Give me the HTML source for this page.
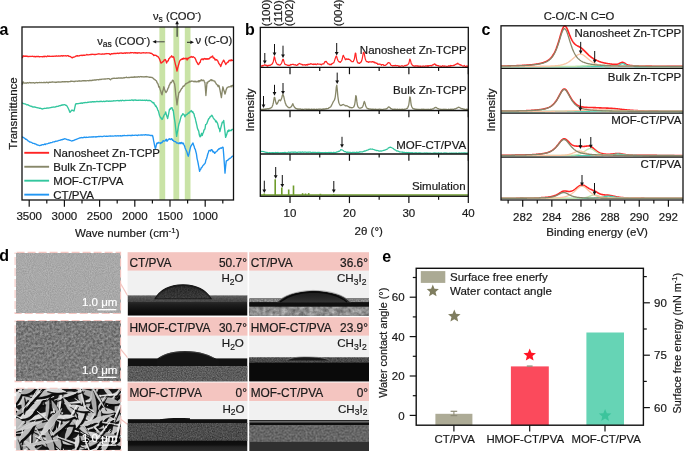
<!DOCTYPE html>
<html><head><meta charset="utf-8"><style>
html,body{margin:0;padding:0;background:#fff;overflow:hidden;width:685px;height:451px;}
svg{display:block;font-family:"Liberation Sans", sans-serif;will-change:transform;}
</style></head><body>
<svg width="685" height="451" viewBox="0 0 685 451">
<rect width="685" height="451" fill="#fff"/>
<text x="-0.6" y="34.6" font-size="16" text-anchor="start" font-weight="bold" fill="#000" >a</text>
<rect x="159.4" y="27" width="5.799999999999983" height="173" fill="#c9e3a6" />
<rect x="173.4" y="27" width="5.799999999999983" height="173" fill="#c9e3a6" />
<rect x="184.8" y="27" width="5.699999999999989" height="173" fill="#c9e3a6" />
<polyline points="22.50,57.50 23.00,55.80 23.50,55.87 24.00,56.30 24.59,56.14 25.19,56.42 25.78,55.99 26.37,56.32 26.96,56.02 27.56,56.53 28.15,56.41 28.74,56.59 29.33,56.32 29.93,56.47 30.52,56.38 31.11,56.32 31.70,56.47 32.30,56.27 32.89,56.41 33.48,56.58 34.07,56.50 34.67,56.44 35.26,56.84 35.85,56.53 36.44,56.45 37.04,56.57 37.63,56.48 38.22,56.51 38.81,56.53 39.41,56.89 40.00,56.60 40.61,56.59 41.21,56.59 41.82,56.65 42.42,56.83 43.03,56.48 43.64,56.40 44.24,56.84 44.85,56.24 45.45,56.38 46.06,56.52 46.67,56.74 47.27,56.24 47.88,56.00 48.48,56.44 49.09,56.25 49.70,56.25 50.30,56.36 50.91,56.31 51.52,56.30 52.12,56.17 52.73,56.41 53.33,56.43 53.94,56.19 54.55,56.10 55.15,56.26 55.76,56.20 56.36,55.95 56.97,56.02 57.58,56.23 58.18,56.04 58.79,55.99 59.39,56.05 60.00,56.00 60.62,55.96 61.23,55.94 61.85,55.62 62.46,56.14 63.08,55.88 63.69,55.68 64.31,55.93 64.92,55.80 65.54,55.73 66.15,55.85 66.77,56.00 67.38,55.71 68.00,55.60 68.60,56.12 69.20,56.48 69.80,56.29 70.40,56.64 71.00,57.00 71.70,57.52 72.40,57.80 72.93,57.28 73.47,57.23 74.00,57.00 74.67,56.86 75.33,56.49 76.00,56.00 76.61,56.03 77.22,55.59 77.83,56.17 78.43,55.84 79.04,55.81 79.65,55.71 80.26,55.32 80.87,55.30 81.48,55.27 82.09,55.68 82.70,55.21 83.30,55.23 83.91,55.17 84.52,55.23 85.13,55.16 85.74,55.07 86.35,54.78 86.96,54.43 87.57,54.87 88.17,54.82 88.78,54.91 89.39,54.65 90.00,54.60 90.59,54.48 91.19,54.60 91.78,54.27 92.38,54.32 92.97,54.29 93.56,54.46 94.16,54.69 94.75,54.46 95.34,54.49 95.94,54.32 96.53,54.30 97.12,54.16 97.72,54.15 98.31,53.80 98.91,53.95 99.50,53.91 100.09,54.19 100.69,54.14 101.28,54.18 101.88,54.21 102.47,53.90 103.06,54.07 103.66,54.17 104.25,53.85 104.84,53.98 105.44,53.76 106.03,53.51 106.62,53.74 107.22,53.57 107.81,53.68 108.41,53.56 109.00,53.60 109.75,54.15 110.50,54.60 111.25,53.78 112.00,53.60 112.60,53.89 113.20,53.75 113.80,53.47 114.40,53.36 115.00,53.47 115.60,53.54 116.20,53.48 116.80,53.45 117.40,53.06 118.00,53.16 118.60,53.51 119.20,53.32 119.80,53.03 120.40,53.10 121.00,52.98 121.60,53.02 122.20,53.32 122.80,53.09 123.40,53.26 124.00,53.10 124.60,52.81 125.20,52.91 125.80,53.33 126.40,52.84 127.00,52.77 127.60,53.09 128.20,52.89 128.80,52.85 129.40,53.05 130.00,52.80 130.60,52.54 131.20,52.87 131.80,52.65 132.40,52.60 133.00,52.70 133.60,53.00 134.20,52.81 134.80,52.55 135.40,52.67 136.00,53.07 136.60,53.00 137.20,52.68 137.80,53.22 138.40,52.80 139.00,52.68 139.60,52.84 140.20,53.01 140.80,53.12 141.40,53.03 142.00,52.81 142.60,52.80 143.20,52.66 143.80,52.88 144.40,52.80 145.00,52.90 145.58,52.97 146.16,52.77 146.74,52.91 147.32,52.88 147.90,52.87 148.48,52.90 149.06,52.95 149.64,52.96 150.22,53.26 150.80,53.20 151.40,53.53 152.00,53.63 152.60,54.43 153.20,54.63 153.80,55.59 154.40,55.10 155.00,55.23 155.60,55.45 156.20,55.42 156.80,56.10 157.40,56.54 158.00,56.50 158.70,57.70 159.40,58.70 160.15,60.71 160.90,63.00 161.60,62.84 162.30,62.12 163.00,61.60 163.55,61.19 164.10,59.98 164.65,60.06 165.20,59.40 165.90,60.65 166.60,63.00 167.15,61.46 167.70,60.94 168.25,60.94 168.80,58.70 169.38,58.67 169.96,57.54 170.54,56.86 171.12,56.93 171.70,55.80 172.22,56.94 172.75,57.22 173.28,56.82 173.80,57.30 174.55,60.65 175.30,63.80 175.87,66.02 176.43,68.44 177.00,71.00 177.63,68.13 178.27,66.06 178.90,63.80 179.60,61.14 180.30,60.20 181.00,59.40 181.60,59.49 182.20,58.61 182.80,59.28 183.40,58.13 184.00,58.70 184.61,58.50 185.23,58.92 185.84,58.13 186.46,58.31 187.07,60.07 187.69,58.32 188.30,58.70 188.88,57.87 189.46,57.50 190.04,57.40 190.62,56.93 191.20,56.50 191.76,57.20 192.32,57.26 192.88,56.76 193.44,56.94 194.00,57.30 194.63,57.55 195.26,58.53 195.89,59.98 196.51,61.82 197.14,62.51 197.77,63.91 198.40,64.50 198.98,64.00 199.56,62.37 200.14,62.60 200.72,60.13 201.30,59.40 201.91,58.95 202.53,58.96 203.14,59.73 203.76,58.92 204.37,58.49 204.99,59.04 205.60,58.70 206.18,59.33 206.76,58.64 207.34,58.56 207.92,59.30 208.50,58.70 209.08,58.88 209.67,58.49 210.25,57.18 210.83,57.39 211.42,57.07 212.00,56.50 212.62,55.99 213.23,58.13 213.85,58.01 214.47,58.25 215.08,60.17 215.70,59.40 216.22,59.86 216.75,59.75 217.28,60.49 217.80,60.90 218.38,62.35 218.96,63.63 219.54,64.29 220.12,64.98 220.70,66.60 221.28,64.92 221.86,63.55 222.44,62.12 223.02,61.39 223.60,60.10 224.15,60.93 224.70,62.33 225.25,62.94 225.80,64.50 226.38,63.30 226.96,62.96 227.54,62.15 228.12,62.25 228.70,60.90 229.31,60.29 229.93,60.78 230.54,60.53 231.16,59.72 231.77,60.73 232.39,60.31 233.00,60.10" fill="none" stroke="#ff2424" stroke-width="1.35" stroke-linejoin="round" stroke-linecap="round" />
<polyline points="22.50,84.00 23.00,82.00 23.50,82.18 24.00,83.00 24.59,83.08 25.19,83.11 25.78,82.83 26.37,83.20 26.96,82.95 27.56,82.73 28.15,82.98 28.74,82.83 29.33,82.66 29.93,82.52 30.52,82.87 31.11,82.71 31.70,82.91 32.30,82.85 32.89,82.70 33.48,82.68 34.07,83.02 34.67,82.99 35.26,82.83 35.85,82.65 36.44,82.54 37.04,82.61 37.63,82.91 38.22,82.71 38.81,82.59 39.41,82.43 40.00,82.60 40.61,82.61 41.21,82.43 41.82,82.55 42.42,82.64 43.03,82.67 43.64,82.51 44.24,82.42 44.85,82.49 45.45,82.71 46.06,82.48 46.67,82.19 47.27,82.62 47.88,82.40 48.48,82.88 49.09,82.26 49.70,82.29 50.30,82.25 50.91,82.33 51.52,82.17 52.12,82.01 52.73,81.92 53.33,82.18 53.94,82.10 54.55,82.08 55.15,82.47 55.76,82.25 56.36,82.28 56.97,82.01 57.58,82.12 58.18,82.02 58.79,82.01 59.39,82.13 60.00,82.00 60.60,82.06 61.20,81.99 61.80,81.93 62.40,81.66 63.00,81.74 63.60,81.88 64.20,81.73 64.80,81.64 65.40,81.78 66.00,81.56 66.60,81.57 67.20,81.77 67.80,81.56 68.40,81.80 69.00,81.63 69.60,81.64 70.20,81.66 70.80,81.13 71.40,81.42 72.00,81.20 72.60,81.30 73.20,81.32 73.80,81.50 74.40,81.27 75.00,81.50 75.60,81.14 76.20,81.18 76.80,81.17 77.40,81.27 78.00,81.09 78.60,80.98 79.20,80.99 79.80,80.80 80.40,81.17 81.00,81.06 81.60,80.99 82.20,80.93 82.80,80.77 83.40,80.77 84.00,80.92 84.60,80.65 85.20,80.62 85.80,80.95 86.40,80.92 87.00,80.69 87.60,80.70 88.20,80.62 88.80,80.78 89.40,80.46 90.00,80.50 90.59,80.45 91.19,80.45 91.78,80.54 92.38,80.22 92.97,80.24 93.56,80.07 94.16,79.99 94.75,79.93 95.34,79.98 95.94,80.04 96.53,79.74 97.12,79.70 97.72,79.67 98.31,79.72 98.91,79.72 99.50,79.36 100.09,79.54 100.69,79.28 101.28,79.48 101.88,79.17 102.47,79.09 103.06,79.09 103.66,79.13 104.25,78.92 104.84,79.05 105.44,78.98 106.03,78.91 106.62,78.88 107.22,78.91 107.81,78.61 108.41,78.66 109.00,78.60 109.75,79.20 110.50,79.80 111.25,78.84 112.00,78.50 112.60,78.52 113.20,78.30 113.80,78.27 114.40,78.27 115.00,78.31 115.60,78.31 116.20,78.29 116.80,78.08 117.40,78.24 118.00,78.16 118.60,78.00 119.20,78.02 119.80,78.10 120.40,78.01 121.00,78.00 121.60,77.88 122.20,77.99 122.80,78.11 123.40,77.81 124.00,77.46 124.60,77.92 125.20,77.53 125.80,77.37 126.40,77.18 127.00,77.56 127.60,77.62 128.20,77.57 128.80,77.32 129.40,77.56 130.00,77.30 130.60,77.26 131.20,77.16 131.80,77.24 132.40,77.24 133.00,77.19 133.60,77.22 134.20,76.80 134.80,77.34 135.40,77.00 136.00,77.16 136.60,76.92 137.20,77.04 137.80,76.96 138.40,76.73 139.00,77.00 139.60,77.01 140.20,76.72 140.80,76.55 141.40,76.75 142.00,76.69 142.60,76.81 143.20,76.77 143.80,76.99 144.40,76.82 145.00,76.70 145.60,76.73 146.20,76.86 146.80,76.47 147.40,76.83 148.00,76.90 148.60,77.08 149.20,77.21 149.80,77.27 150.40,77.44 151.00,77.26 151.60,77.48 152.20,77.50 152.81,77.93 153.43,78.51 154.04,79.17 154.66,79.35 155.27,80.11 155.89,80.48 156.50,81.00 157.08,82.71 157.66,83.26 158.24,84.64 158.82,87.04 159.40,86.80 160.05,89.14 160.70,91.08 161.35,93.38 162.00,94.80 162.60,91.59 163.20,89.85 163.80,86.80 164.50,89.14 165.20,90.90 165.90,92.60 166.60,91.69 167.30,90.16 168.00,88.30 168.55,87.67 169.10,85.40 169.65,84.71 170.20,83.20 170.78,82.33 171.36,82.71 171.94,81.53 172.52,80.18 173.10,80.30 173.85,82.21 174.60,84.00 175.20,88.68 175.80,94.98 176.40,99.49 177.00,104.90 177.63,99.62 178.27,96.49 178.90,92.60 179.60,92.18 180.30,90.84 181.00,89.70 181.55,88.46 182.10,88.25 182.65,87.31 183.20,86.10 183.80,86.41 184.40,85.62 185.00,84.85 185.60,83.74 186.20,83.84 186.80,83.20 187.43,83.05 188.06,82.58 188.69,82.48 189.31,81.30 189.94,81.94 190.57,81.32 191.20,81.00 191.78,81.27 192.36,81.11 192.94,81.08 193.52,81.46 194.10,81.82 194.68,81.31 195.26,81.74 195.84,81.23 196.42,81.94 197.00,81.80 197.63,81.64 198.27,80.78 198.90,81.93 199.53,80.66 200.17,81.01 200.80,80.10 201.43,79.70 202.07,80.82 202.70,80.30 203.25,80.10 203.80,80.29 204.35,81.83 204.90,82.50 205.40,88.17 205.90,95.50 206.45,88.89 207.00,82.50 207.61,83.07 208.23,81.46 208.84,81.45 209.46,81.14 210.07,80.56 210.69,79.95 211.30,79.60 211.88,80.69 212.46,80.12 213.04,80.63 213.62,80.78 214.20,81.00 214.78,81.05 215.36,82.65 215.94,83.25 216.52,84.31 217.10,84.70 217.65,85.60 218.20,86.59 218.75,85.26 219.30,86.80 220.00,90.10 220.70,93.75 221.40,97.60 222.15,91.74 222.90,86.80 223.60,89.42 224.30,91.56 225.00,94.00 225.55,92.45 226.10,89.88 226.65,88.61 227.20,87.50 227.78,87.32 228.36,86.98 228.94,86.76 229.52,86.88 230.10,86.80 230.68,86.37 231.26,85.67 231.84,86.85 232.42,85.32 233.00,85.40" fill="none" stroke="#878769" stroke-width="1.35" stroke-linejoin="round" stroke-linecap="round" />
<polyline points="22.50,103.00 23.12,103.35 23.75,103.59 24.38,103.89 25.00,103.92 25.62,104.10 26.25,104.57 26.88,104.79 27.50,104.65 28.12,104.86 28.75,105.42 29.38,105.69 30.00,106.00 30.60,106.10 31.20,106.34 31.80,106.28 32.40,106.95 33.00,106.83 33.60,107.03 34.20,107.02 34.80,106.81 35.40,107.29 36.00,107.32 36.60,107.61 37.20,107.66 37.80,107.92 38.40,107.83 39.00,108.05 39.60,108.24 40.20,108.27 40.80,108.45 41.40,108.75 42.00,108.80 42.59,109.00 43.18,108.60 43.77,108.68 44.36,108.30 44.95,108.32 45.55,108.36 46.14,108.31 46.73,107.99 47.32,108.15 47.91,108.00 48.50,108.09 49.09,107.96 49.68,107.82 50.27,107.60 50.86,107.61 51.45,107.36 52.05,107.29 52.64,107.05 53.23,107.05 53.82,106.98 54.41,107.07 55.00,107.00 55.60,106.85 56.20,106.48 56.80,106.51 57.40,106.42 58.00,106.34 58.60,106.03 59.20,105.91 59.80,105.66 60.40,105.70 61.00,105.17 61.60,105.27 62.20,104.74 62.80,105.17 63.40,104.90 64.00,104.60 64.60,104.57 65.20,105.08 65.80,105.23 66.40,105.46 67.00,106.00 67.67,107.27 68.33,108.54 69.00,110.00 69.50,111.35 70.00,112.40 70.67,111.52 71.33,110.64 72.00,110.00 72.67,110.32 73.33,110.73 74.00,111.00 74.53,108.79 75.07,106.41 75.60,104.00 76.20,103.70 76.80,103.71 77.40,103.72 78.00,103.54 78.60,103.69 79.20,103.45 79.80,103.40 80.40,103.28 81.00,103.25 81.60,102.94 82.20,103.39 82.80,102.91 83.40,102.81 84.00,102.57 84.60,102.74 85.20,102.46 85.80,102.63 86.40,102.67 87.00,102.50 87.60,102.27 88.20,102.44 88.80,102.14 89.40,102.07 90.00,102.00 90.60,101.98 91.19,101.87 91.79,101.98 92.39,101.71 92.99,101.60 93.58,102.01 94.18,101.70 94.78,101.73 95.37,101.81 95.97,101.66 96.57,101.53 97.16,101.65 97.76,101.51 98.36,101.70 98.96,101.53 99.55,101.53 100.15,101.65 100.75,101.29 101.34,101.27 101.94,101.57 102.54,101.62 103.13,101.42 103.73,101.28 104.33,101.53 104.93,101.40 105.52,101.45 106.12,101.00 106.72,101.23 107.31,101.07 107.91,101.03 108.51,101.25 109.10,101.25 109.70,101.04 110.30,101.05 110.90,101.26 111.49,101.13 112.09,100.99 112.69,101.05 113.28,100.97 113.88,100.74 114.48,100.82 115.07,100.91 115.67,100.93 116.27,100.64 116.87,100.67 117.46,100.68 118.06,100.51 118.66,100.87 119.25,100.75 119.85,100.85 120.45,100.31 121.04,100.48 121.64,100.84 122.24,100.34 122.84,100.25 123.43,100.53 124.03,100.70 124.63,100.53 125.22,100.27 125.82,100.47 126.42,100.42 127.01,100.37 127.61,100.36 128.21,100.40 128.81,100.42 129.40,100.43 130.00,100.20 130.60,100.36 131.20,100.18 131.80,99.94 132.40,100.29 133.00,100.00 133.60,100.56 134.20,100.06 134.80,99.96 135.40,99.96 136.00,100.30 136.60,100.29 137.20,100.34 137.80,100.29 138.40,100.14 139.00,100.38 139.60,100.16 140.20,100.04 140.80,100.40 141.40,100.35 142.00,100.14 142.60,100.24 143.20,100.44 143.80,100.43 144.40,100.14 145.00,100.30 145.62,100.49 146.24,99.98 146.87,100.41 147.49,100.49 148.11,100.45 148.73,100.51 149.36,100.29 149.98,100.55 150.60,100.60 151.23,101.31 151.87,101.73 152.50,102.57 153.13,103.04 153.77,102.56 154.40,104.40 154.96,104.83 155.52,106.22 156.08,105.85 156.64,107.45 157.20,108.20 157.78,110.07 158.36,110.91 158.94,113.16 159.52,115.47 160.10,116.70 160.73,118.01 161.37,118.03 162.00,119.50 162.60,118.77 163.20,117.14 163.80,115.70 164.43,114.53 165.07,114.03 165.70,112.00 166.33,114.55 166.97,116.52 167.60,118.50 168.23,115.87 168.87,112.58 169.50,109.10 170.13,109.34 170.77,108.17 171.40,107.80 172.00,107.58 172.60,110.09 173.20,110.00 173.83,114.82 174.47,119.08 175.10,123.20 175.85,129.82 176.60,136.40 177.23,132.88 177.87,129.52 178.50,126.00 179.07,123.39 179.65,122.21 180.23,119.74 180.80,117.60 181.43,115.82 182.07,115.20 182.70,113.80 183.26,114.00 183.82,114.54 184.38,115.23 184.94,116.75 185.50,115.70 186.06,114.57 186.62,114.80 187.18,114.40 187.74,113.68 188.30,112.90 188.87,113.37 189.43,112.04 190.00,111.77 190.57,111.62 191.13,110.58 191.70,111.00 192.27,112.29 192.85,111.74 193.43,113.39 194.00,113.80 194.56,116.70 195.12,117.87 195.68,120.48 196.24,122.73 196.80,125.10 197.44,128.35 198.08,129.92 198.72,131.18 199.36,135.03 200.00,136.80 200.57,136.67 201.13,134.37 201.70,133.29 202.27,135.46 202.83,133.43 203.40,132.70 203.96,129.86 204.52,129.86 205.08,128.36 205.64,124.62 206.20,124.20 206.76,123.74 207.32,122.30 207.88,120.77 208.44,119.26 209.00,118.50 209.56,118.06 210.12,116.78 210.68,116.66 211.24,115.80 211.80,115.30 212.38,115.90 212.96,117.27 213.54,118.34 214.12,119.13 214.70,119.50 215.26,120.48 215.82,121.88 216.38,121.04 216.94,122.49 217.50,123.20 218.10,125.42 218.70,128.10 219.30,128.36 219.90,131.70 220.47,129.11 221.05,126.83 221.62,124.75 222.20,122.30 222.95,122.56 223.70,120.40 224.33,126.19 224.97,131.68 225.60,137.40 226.15,135.98 226.70,134.62 227.25,132.36 227.80,130.80 228.38,131.53 228.96,129.82 229.53,130.97 230.11,130.51 230.69,130.50 231.27,130.63 231.84,129.50 232.42,129.69 233.00,129.30" fill="none" stroke="#33c69e" stroke-width="1.35" stroke-linejoin="round" stroke-linecap="round" />
<polyline points="22.50,137.00 23.12,137.46 23.75,137.74 24.38,138.14 25.00,138.55 25.62,139.21 26.25,139.16 26.88,139.73 27.50,140.34 28.12,140.94 28.75,141.15 29.38,141.77 30.00,142.00 30.59,142.22 31.19,142.37 31.78,142.44 32.38,142.93 32.97,143.38 33.56,143.36 34.16,143.42 34.75,143.89 35.34,143.82 35.94,144.08 36.53,144.64 37.12,144.76 37.72,145.07 38.31,145.19 38.91,145.36 39.50,145.60 40.08,145.48 40.67,145.26 41.25,145.32 41.83,144.83 42.42,144.60 43.00,144.61 43.58,144.72 44.17,144.36 44.75,143.96 45.33,144.58 45.92,143.87 46.50,143.84 47.08,143.81 47.67,143.63 48.25,143.41 48.83,143.06 49.42,143.22 50.00,143.00 50.60,142.69 51.20,142.64 51.80,142.61 52.40,142.27 53.00,141.89 53.60,141.90 54.20,141.91 54.80,141.76 55.40,141.29 56.00,141.33 56.60,141.20 57.20,141.14 57.80,140.88 58.40,140.67 59.00,140.43 59.60,140.38 60.20,140.26 60.80,139.95 61.40,139.77 62.00,139.90 62.60,139.47 63.20,139.19 63.80,139.24 64.40,138.78 65.00,138.80 65.58,138.82 66.17,139.30 66.75,139.35 67.33,139.65 67.92,139.83 68.50,139.79 69.08,140.16 69.67,140.21 70.25,140.48 70.83,140.67 71.42,140.80 72.00,141.00 72.60,140.58 73.20,140.59 73.80,140.32 74.40,140.17 75.00,139.71 75.60,139.67 76.20,139.38 76.80,139.12 77.40,138.92 78.00,138.70 78.60,138.30 79.20,138.20 79.80,137.98 80.40,137.90 81.00,137.60 81.59,137.54 82.19,137.74 82.78,137.59 83.38,137.51 83.97,137.46 84.56,137.18 85.16,137.41 85.75,137.51 86.34,137.14 86.94,137.45 87.53,137.31 88.12,137.23 88.72,137.09 89.31,137.12 89.91,136.97 90.50,137.05 91.09,137.02 91.69,136.99 92.28,136.77 92.88,137.05 93.47,136.78 94.06,136.90 94.66,136.90 95.25,136.74 95.84,137.10 96.44,136.72 97.03,136.73 97.62,136.60 98.22,136.65 98.81,136.38 99.41,136.63 100.00,136.50 100.60,136.42 101.20,136.38 101.80,136.55 102.40,136.55 103.00,136.33 103.60,136.22 104.20,136.05 104.80,136.18 105.40,136.38 106.00,136.38 106.60,136.08 107.20,136.25 107.80,136.38 108.40,136.09 109.00,136.10 109.60,136.03 110.20,136.20 110.80,135.84 111.40,136.08 112.00,136.14 112.60,136.04 113.20,136.17 113.80,136.10 114.40,135.91 115.00,135.82 115.60,135.79 116.20,136.00 116.80,135.88 117.40,135.90 118.00,135.73 118.60,136.01 119.20,135.95 119.80,135.91 120.40,135.61 121.00,136.14 121.60,135.86 122.20,135.55 122.80,135.83 123.40,135.65 124.00,135.53 124.60,135.51 125.20,135.68 125.80,135.63 126.40,135.59 127.00,135.51 127.60,135.37 128.20,135.53 128.80,135.44 129.40,135.42 130.00,135.52 130.60,135.66 131.20,135.30 131.80,135.51 132.40,135.24 133.00,135.45 133.60,135.40 134.20,135.29 134.80,135.30 135.40,135.13 136.00,135.17 136.60,135.34 137.20,135.29 137.80,135.49 138.40,134.99 139.00,135.05 139.60,135.11 140.20,135.08 140.80,134.98 141.40,134.97 142.00,134.99 142.60,135.17 143.20,134.95 143.80,134.83 144.40,134.97 145.00,134.90 145.62,134.57 146.25,134.87 146.88,134.96 147.50,135.15 148.12,134.82 148.75,135.17 149.38,135.09 150.00,135.44 150.62,135.47 151.25,135.33 151.88,135.52 152.50,135.50 153.08,137.53 153.66,140.89 154.24,143.56 154.82,146.62 155.40,148.70 156.00,146.57 156.60,143.77 157.20,143.00 157.78,143.42 158.36,142.43 158.94,142.71 159.52,142.81 160.10,143.00 160.72,143.55 161.33,142.34 161.95,142.66 162.57,141.77 163.18,140.68 163.80,141.10 164.43,141.08 165.07,140.84 165.70,140.00 166.33,139.21 166.97,141.26 167.60,140.62 168.23,139.45 168.87,139.21 169.50,138.70 170.12,139.45 170.73,139.51 171.35,138.67 171.97,138.97 172.58,140.38 173.20,140.20 173.80,141.27 174.40,141.46 175.00,141.69 175.60,141.59 176.20,142.46 176.80,143.12 177.40,142.93 178.00,143.00 178.59,143.66 179.18,143.64 179.76,142.63 180.35,143.62 180.94,142.60 181.52,142.52 182.11,143.85 182.70,143.00 183.30,143.07 183.90,144.77 184.50,145.80 185.13,148.01 185.77,149.47 186.40,150.80 187.03,152.24 187.67,154.74 188.30,156.20 188.86,154.40 189.42,152.00 189.98,149.45 190.54,147.13 191.10,145.80 191.73,144.86 192.37,143.91 193.00,143.00 193.56,145.14 194.12,146.24 194.68,148.58 195.24,149.17 195.80,151.50 196.43,153.90 197.07,158.59 197.70,161.18 198.33,164.26 198.97,167.93 199.60,171.30 200.16,169.70 200.72,169.20 201.28,167.70 201.84,167.55 202.40,166.50 202.98,165.46 203.56,164.99 204.14,164.28 204.72,163.78 205.30,162.80 205.92,159.85 206.53,158.78 207.15,156.51 207.77,154.00 208.38,152.41 209.00,150.50 209.56,150.59 210.12,150.39 210.68,151.00 211.24,149.61 211.80,149.60 212.38,150.44 212.96,152.13 213.54,151.57 214.12,152.21 214.70,153.40 215.32,152.53 215.93,151.83 216.55,151.49 217.17,150.94 217.78,149.84 218.40,149.60 218.99,148.72 219.57,149.00 220.16,148.10 220.75,148.03 221.34,148.35 221.93,147.83 222.51,147.07 223.10,147.30 223.73,155.15 224.37,163.98 225.00,173.10 225.65,166.23 226.30,160.90 226.91,160.75 227.52,160.43 228.13,159.78 228.74,159.36 229.35,158.51 229.95,158.42 230.56,157.94 231.17,157.51 231.78,156.80 232.39,156.07 233.00,156.20" fill="none" stroke="#2196f3" stroke-width="1.35" stroke-linejoin="round" stroke-linecap="round" />
<text x="97.2" y="44.6" font-size="11.2" text-anchor="start" font-weight="normal" fill="#1a1a1a" stroke="#1a1a1a" stroke-width="0.2" >ν<tspan font-size="8.5" dy="2.2">as</tspan><tspan dy="-2.2"> (COO</tspan><tspan font-size="7" dy="-4.5">-</tspan><tspan dy="4.5">)</tspan></text>
<line x1="155" y1="41.8" x2="164.7" y2="41.8" stroke="#444" stroke-width="1.0"/>
<polygon points="152.5,41.8 156.2,40 156.2,43.6" fill="#111"/>
<line x1="187" y1="42.3" x2="191" y2="42.3" stroke="#222" stroke-width="1.0"/>
<polygon points="194,42.3 190.3,40.5 190.3,44.1" fill="#111"/>
<text x="195.5" y="44.4" font-size="11.2" text-anchor="start" font-weight="normal" fill="#1a1a1a" stroke="#1a1a1a" stroke-width="0.2" >ν (C-O)</text>
<text x="153.0" y="19.5" font-size="11.2" text-anchor="start" font-weight="normal" fill="#1a1a1a" stroke="#1a1a1a" stroke-width="0.2" >ν<tspan font-size="8.5" dy="2.6">s</tspan><tspan dy="-2.6"> (COO</tspan><tspan font-size="7" dy="-4.5">-</tspan><tspan dy="4.5">)</tspan></text>
<line x1="177.1" y1="36.8" x2="177.1" y2="23.5" stroke="#222" stroke-width="1.0"/>
<polygon points="177.1,20.6 175.3,24.3 178.9,24.3" fill="#111"/>
<line x1="24.3" y1="152.8" x2="49.1" y2="152.8" stroke="#ff2424" stroke-width="1.9"/>
<text x="53.3" y="157.10000000000002" font-size="11.5" text-anchor="start" font-weight="normal" fill="#1a1a1a" stroke="#1a1a1a" stroke-width="0.2" >Nanosheet Zn-TCPP</text>
<line x1="24.3" y1="166.75" x2="49.1" y2="166.75" stroke="#878769" stroke-width="1.9"/>
<text x="53.3" y="171.05" font-size="11.5" text-anchor="start" font-weight="normal" fill="#1a1a1a" stroke="#1a1a1a" stroke-width="0.2" >Bulk Zn-TCPP</text>
<line x1="24.3" y1="180.70000000000002" x2="49.1" y2="180.70000000000002" stroke="#33c69e" stroke-width="1.9"/>
<text x="53.3" y="185.00000000000003" font-size="11.5" text-anchor="start" font-weight="normal" fill="#1a1a1a" stroke="#1a1a1a" stroke-width="0.2" >MOF-CT/PVA</text>
<line x1="24.3" y1="194.65" x2="49.1" y2="194.65" stroke="#2196f3" stroke-width="1.9"/>
<text x="53.3" y="198.95000000000002" font-size="11.5" text-anchor="start" font-weight="normal" fill="#1a1a1a" stroke="#1a1a1a" stroke-width="0.2" >CT/PVA</text>
<rect x="22" y="27" width="211.5" height="173" fill="none" stroke="#111" stroke-width="1.3"/>
<line x1="222.8" y1="200" x2="222.8" y2="203.4" stroke="#111" stroke-width="1.2"/>
<line x1="205.20000000000002" y1="200" x2="205.20000000000002" y2="206.8" stroke="#111" stroke-width="1.2"/>
<text x="205.20000000000002" y="220.1" font-size="11.5" text-anchor="middle" font-weight="normal" fill="#1a1a1a" stroke="#1a1a1a" stroke-width="0.2" >1000</text>
<line x1="187.60000000000002" y1="200" x2="187.60000000000002" y2="203.4" stroke="#111" stroke-width="1.2"/>
<line x1="170.0" y1="200" x2="170.0" y2="206.8" stroke="#111" stroke-width="1.2"/>
<text x="170.0" y="220.1" font-size="11.5" text-anchor="middle" font-weight="normal" fill="#1a1a1a" stroke="#1a1a1a" stroke-width="0.2" >1500</text>
<line x1="152.4" y1="200" x2="152.4" y2="203.4" stroke="#111" stroke-width="1.2"/>
<line x1="134.8" y1="200" x2="134.8" y2="206.8" stroke="#111" stroke-width="1.2"/>
<text x="134.8" y="220.1" font-size="11.5" text-anchor="middle" font-weight="normal" fill="#1a1a1a" stroke="#1a1a1a" stroke-width="0.2" >2000</text>
<line x1="117.20000000000002" y1="200" x2="117.20000000000002" y2="203.4" stroke="#111" stroke-width="1.2"/>
<line x1="99.60000000000001" y1="200" x2="99.60000000000001" y2="206.8" stroke="#111" stroke-width="1.2"/>
<text x="99.60000000000001" y="220.1" font-size="11.5" text-anchor="middle" font-weight="normal" fill="#1a1a1a" stroke="#1a1a1a" stroke-width="0.2" >2500</text>
<line x1="82.0" y1="200" x2="82.0" y2="203.4" stroke="#111" stroke-width="1.2"/>
<line x1="64.4" y1="200" x2="64.4" y2="206.8" stroke="#111" stroke-width="1.2"/>
<text x="64.4" y="220.1" font-size="11.5" text-anchor="middle" font-weight="normal" fill="#1a1a1a" stroke="#1a1a1a" stroke-width="0.2" >3000</text>
<line x1="46.80000000000001" y1="200" x2="46.80000000000001" y2="203.4" stroke="#111" stroke-width="1.2"/>
<line x1="29.200000000000003" y1="200" x2="29.200000000000003" y2="206.8" stroke="#111" stroke-width="1.2"/>
<text x="29.200000000000003" y="220.1" font-size="11.5" text-anchor="middle" font-weight="normal" fill="#1a1a1a" stroke="#1a1a1a" stroke-width="0.2" >3500</text>
<text x="75" y="237.3" font-size="11.5" text-anchor="start" font-weight="normal" fill="#1a1a1a" stroke="#1a1a1a" stroke-width="0.2" >Wave number (cm<tspan font-size="8" dy="-4.3">-1</tspan><tspan dy="4.3">)</tspan></text>
<text transform="translate(16.8,113.5) rotate(-90)" font-size="11.5" text-anchor="middle" fill="#1a1a1a" stroke="#1a1a1a" stroke-width="0.2">Transmittance</text>
<text x="245.0" y="34.6" font-size="16" text-anchor="start" font-weight="bold" fill="#000" >b</text>
<text transform="translate(269.8,26.2) rotate(-90)" font-size="11.5" fill="#1a1a1a" stroke="#1a1a1a" stroke-width="0.2">(100)</text>
<text transform="translate(282.0,26.2) rotate(-90)" font-size="11.5" fill="#1a1a1a" stroke="#1a1a1a" stroke-width="0.2">(110)</text>
<text transform="translate(293.40000000000003,26.2) rotate(-90)" font-size="11.5" fill="#1a1a1a" stroke="#1a1a1a" stroke-width="0.2">(002)</text>
<text transform="translate(341.6,26.2) rotate(-90)" font-size="11.5" fill="#1a1a1a" stroke="#1a1a1a" stroke-width="0.2">(004)</text>
<text transform="translate(253.8,110) rotate(-90)" font-size="11.5" text-anchor="middle" fill="#1a1a1a" stroke="#1a1a1a" stroke-width="0.2">Intensity</text>
<polyline points="260.80,66.40 261.30,66.03 261.80,66.01 262.30,65.43 262.80,66.07 263.30,65.82 263.80,65.35 264.30,65.13 264.80,64.65 265.30,64.97 265.80,65.50 266.30,65.56 266.80,65.14 267.30,66.09 267.80,66.23 268.30,65.44 268.80,65.28 269.30,65.50 269.80,65.17 270.30,65.31 270.80,64.85 271.30,64.72 271.80,64.12 272.30,63.94 272.80,62.84 273.30,61.70 273.80,59.06 274.30,56.71 274.80,57.77 275.30,60.00 275.80,61.93 276.30,62.84 276.80,63.85 277.30,64.39 277.80,64.64 278.30,64.41 278.80,64.89 279.30,65.16 279.80,64.96 280.30,64.86 280.80,64.24 281.30,63.59 281.80,62.52 282.30,60.94 282.80,59.42 283.30,59.25 283.80,61.06 284.30,62.64 284.80,63.96 285.30,64.48 285.80,64.65 286.30,64.68 286.80,65.00 287.30,65.04 287.80,65.53 288.30,65.64 288.80,65.05 289.30,65.34 289.80,65.56 290.30,64.94 290.80,64.49 291.30,64.82 291.80,64.45 292.30,64.23 292.80,64.49 293.30,64.36 293.80,64.64 294.30,65.01 294.80,64.74 295.30,64.64 295.80,65.15 296.30,65.48 296.80,65.25 297.30,64.59 297.80,65.01 298.30,63.96 298.80,63.82 299.30,63.50 299.80,63.45 300.30,63.99 300.80,64.25 301.30,64.13 301.80,64.65 302.30,64.48 302.80,65.11 303.30,64.92 303.80,64.94 304.30,64.64 304.80,64.92 305.30,64.94 305.80,65.31 306.30,64.67 306.80,64.67 307.30,65.11 307.80,64.25 308.30,64.59 308.80,64.14 309.30,64.44 309.80,64.24 310.30,63.64 310.80,64.21 311.30,63.87 311.80,63.82 312.30,64.43 312.80,64.44 313.30,64.06 313.80,64.51 314.30,64.01 314.80,64.44 315.30,64.00 315.80,64.52 316.30,64.74 316.80,64.38 317.30,63.72 317.80,64.17 318.30,64.14 318.80,64.19 319.30,63.99 319.80,64.22 320.30,64.47 320.80,64.15 321.30,64.76 321.80,64.28 322.30,64.22 322.80,63.84 323.30,63.76 323.80,63.97 324.30,62.75 324.80,61.85 325.30,61.49 325.80,61.91 326.30,61.43 326.80,62.35 327.30,62.87 327.80,63.84 328.30,63.97 328.80,63.84 329.30,64.74 329.80,64.28 330.30,64.64 330.80,64.36 331.30,64.68 331.80,63.71 332.30,63.65 332.80,63.36 333.30,62.86 333.80,62.73 334.30,61.41 334.80,59.84 335.30,58.21 335.80,56.85 336.30,56.00 336.80,56.86 337.30,58.73 337.80,60.17 338.30,61.00 338.80,61.67 339.30,61.72 339.80,62.14 340.30,62.49 340.80,61.61 341.30,61.10 341.80,60.36 342.30,58.80 342.80,56.35 343.30,55.34 343.80,56.37 344.30,57.19 344.80,58.30 345.30,59.45 345.80,59.77 346.30,58.93 346.80,58.88 347.30,59.36 347.80,59.01 348.30,59.46 348.80,59.00 349.30,59.67 349.80,59.67 350.30,60.17 350.80,60.86 351.30,60.98 351.80,61.56 352.30,61.71 352.80,61.51 353.30,61.54 353.80,60.28 354.30,59.23 354.80,56.36 355.30,53.18 355.80,53.37 356.30,57.98 356.80,60.11 357.30,61.91 357.80,62.80 358.30,63.19 358.80,62.82 359.30,63.32 359.80,63.36 360.30,62.25 360.80,62.44 361.30,61.71 361.80,60.31 362.30,58.33 362.80,55.54 363.30,52.77 363.80,52.23 364.30,53.75 364.80,56.54 365.30,59.11 365.80,60.32 366.30,61.32 366.80,61.64 367.30,61.73 367.80,61.60 368.30,62.41 368.80,62.21 369.30,61.73 369.80,61.90 370.30,61.89 370.80,61.75 371.30,62.11 371.80,61.99 372.30,61.57 372.80,61.70 373.30,62.12 373.80,61.85 374.30,62.83 374.80,62.17 375.30,62.86 375.80,62.87 376.30,63.35 376.80,63.08 377.30,63.47 377.80,64.42 378.30,64.39 378.80,63.98 379.30,64.36 379.80,64.06 380.30,64.27 380.80,64.44 381.30,65.32 381.80,64.72 382.30,64.72 382.80,64.59 383.30,64.67 383.80,65.58 384.30,65.33 384.80,65.49 385.30,65.35 385.80,65.20 386.30,64.51 386.80,64.15 387.30,63.84 387.80,63.06 388.30,62.53 388.80,62.78 389.30,62.90 389.80,63.11 390.30,64.04 390.80,65.06 391.30,65.38 391.80,65.48 392.30,65.65 392.80,65.94 393.30,65.68 393.80,65.57 394.30,65.82 394.80,65.57 395.30,65.36 395.80,65.62 396.30,65.84 396.80,65.53 397.30,65.51 397.80,65.69 398.30,65.82 398.80,66.42 399.30,65.96 399.80,66.32 400.30,66.23 400.80,66.08 401.30,65.82 401.80,65.88 402.30,65.80 402.80,66.11 403.30,66.32 403.80,66.24 404.30,65.72 404.80,65.54 405.30,65.35 405.80,65.85 406.30,65.40 406.80,65.03 407.30,65.11 407.80,64.67 408.30,64.04 408.80,63.40 409.30,61.44 409.80,59.05 410.30,59.82 410.80,61.52 411.30,63.95 411.80,64.13 412.30,65.16 412.80,65.60 413.30,65.84 413.80,65.74 414.30,66.22 414.80,66.05 415.30,66.16 415.80,65.59 416.30,65.73 416.80,66.04 417.30,66.14 417.80,65.70 418.30,66.36 418.80,65.98 419.30,66.12 419.80,66.17 420.30,66.50 420.80,65.96 421.30,66.23 421.80,66.27 422.30,66.32 422.80,65.98 423.30,65.95 423.80,66.14 424.30,66.27 424.80,66.30 425.30,65.79 425.80,66.09 426.30,66.20 426.80,65.82 427.30,65.71 427.80,66.52 428.30,65.59 428.80,66.03 429.30,65.79 429.80,65.48 430.30,65.65 430.80,65.45 431.30,65.58 431.80,65.93 432.30,64.89 432.80,64.90 433.30,64.93 433.80,64.56 434.30,63.79 434.80,64.07 435.30,64.38 435.80,65.32 436.30,65.15 436.80,65.20 437.30,65.60 437.80,65.73 438.30,65.49 438.80,66.08 439.30,66.19 439.80,65.98 440.30,66.08 440.80,66.33 441.30,66.54 441.80,66.21 442.30,65.65 442.80,66.12 443.30,66.28 443.80,65.95 444.30,66.30 444.80,65.98 445.30,66.23 445.80,66.22 446.30,66.27 446.80,66.51 447.30,66.28 447.80,66.26 448.30,66.24 448.80,65.74 449.30,66.09 449.80,66.06 450.30,65.46 450.80,66.10 451.30,65.51 451.80,65.71 452.30,65.65 452.80,65.74 453.30,65.65 453.80,65.19 454.30,65.46 454.80,64.73 455.30,64.58 455.80,64.71 456.30,63.75 456.80,63.90 457.30,64.01 457.80,63.15 458.30,64.00 458.80,64.14 459.30,64.32 459.80,64.87 460.30,65.21 460.80,64.72 461.30,65.26 461.80,65.55 462.30,65.76 462.80,66.13 463.30,66.06 463.80,66.16 464.30,65.46 464.80,65.87 465.30,66.40 465.80,66.48 466.30,66.32 466.80,65.92 467.30,66.38 467.80,66.17" fill="none" stroke="#ff2424" stroke-width="1.2" stroke-linejoin="round" stroke-linecap="round" />
<polyline points="260.80,109.42 261.30,109.39 261.80,109.49 262.30,109.40 262.80,109.51 263.30,109.25 263.80,109.22 264.30,109.28 264.80,109.20 265.30,108.91 265.80,109.33 266.30,108.97 266.80,109.01 267.30,108.72 267.80,108.73 268.30,109.01 268.80,108.59 269.30,108.47 269.80,108.58 270.30,108.09 270.80,108.04 271.30,107.62 271.80,107.26 272.30,106.26 272.80,104.96 273.30,102.98 273.80,100.19 274.30,97.34 274.80,97.54 275.30,100.03 275.80,102.31 276.30,103.73 276.80,104.19 277.30,103.60 277.80,102.67 278.30,101.36 278.80,100.32 279.30,99.94 279.80,100.19 280.30,100.70 280.80,100.22 281.30,99.08 281.80,97.73 282.30,95.55 282.80,94.57 283.30,95.08 283.80,96.71 284.30,99.20 284.80,101.10 285.30,103.18 285.80,104.06 286.30,105.48 286.80,105.97 287.30,106.31 287.80,106.84 288.30,107.49 288.80,107.55 289.30,107.67 289.80,107.73 290.30,107.23 290.80,107.11 291.30,106.67 291.80,105.98 292.30,104.75 292.80,103.70 293.30,104.91 293.80,106.06 294.30,106.97 294.80,107.53 295.30,108.12 295.80,108.45 296.30,108.60 296.80,108.67 297.30,109.09 297.80,108.93 298.30,108.91 298.80,109.20 299.30,108.97 299.80,109.10 300.30,108.97 300.80,109.06 301.30,109.46 301.80,109.29 302.30,109.26 302.80,109.35 303.30,109.36 303.80,109.30 304.30,109.23 304.80,109.13 305.30,109.08 305.80,109.13 306.30,109.28 306.80,109.08 307.30,109.42 307.80,109.26 308.30,109.21 308.80,109.25 309.30,109.34 309.80,109.20 310.30,109.52 310.80,109.34 311.30,109.13 311.80,109.14 312.30,109.54 312.80,109.38 313.30,109.23 313.80,109.44 314.30,109.10 314.80,109.52 315.30,109.54 315.80,109.39 316.30,109.08 316.80,109.26 317.30,109.46 317.80,109.32 318.30,109.12 318.80,109.12 319.30,109.02 319.80,109.24 320.30,109.05 320.80,109.16 321.30,109.36 321.80,109.34 322.30,109.11 322.80,109.23 323.30,108.87 323.80,109.24 324.30,109.15 324.80,108.91 325.30,109.05 325.80,108.69 326.30,108.95 326.80,108.53 327.30,108.72 327.80,108.54 328.30,108.42 328.80,108.11 329.30,107.53 329.80,107.31 330.30,107.09 330.80,106.68 331.30,105.89 331.80,104.71 332.30,103.84 332.80,102.74 333.30,101.67 333.80,100.93 334.30,100.33 334.80,99.03 335.30,96.54 335.80,92.31 336.30,87.16 336.80,85.20 337.30,89.84 337.80,95.84 338.30,99.58 338.80,102.58 339.30,103.72 339.80,104.66 340.30,105.42 340.80,105.60 341.30,105.47 341.80,105.14 342.30,104.92 342.80,104.53 343.30,104.44 343.80,104.73 344.30,105.03 344.80,105.27 345.30,105.89 345.80,105.95 346.30,105.67 346.80,105.77 347.30,105.86 347.80,106.35 348.30,106.51 348.80,106.67 349.30,107.32 349.80,107.59 350.30,107.35 350.80,107.70 351.30,107.66 351.80,107.90 352.30,107.71 352.80,107.53 353.30,107.24 353.80,106.85 354.30,105.79 354.80,103.85 355.30,100.30 355.80,95.60 356.30,96.60 356.80,101.14 357.30,104.60 357.80,106.40 358.30,107.17 358.80,107.67 359.30,108.06 359.80,108.18 360.30,107.98 360.80,108.06 361.30,107.79 361.80,107.45 362.30,107.31 362.80,106.31 363.30,104.92 363.80,102.89 364.30,101.45 364.80,102.51 365.30,104.35 365.80,106.05 366.30,107.24 366.80,108.02 367.30,108.34 367.80,108.38 368.30,108.96 368.80,108.69 369.30,109.00 369.80,109.11 370.30,108.99 370.80,109.34 371.30,109.25 371.80,109.33 372.30,109.07 372.80,109.44 373.30,109.19 373.80,109.37 374.30,109.44 374.80,109.25 375.30,109.23 375.80,109.27 376.30,109.60 376.80,109.45 377.30,109.36 377.80,109.41 378.30,109.46 378.80,109.26 379.30,109.17 379.80,109.18 380.30,109.42 380.80,109.42 381.30,109.60 381.80,109.41 382.30,109.51 382.80,109.56 383.30,109.29 383.80,109.22 384.30,109.21 384.80,109.10 385.30,109.21 385.80,109.00 386.30,108.61 386.80,108.78 387.30,108.20 387.80,107.82 388.30,107.18 388.80,106.94 389.30,107.19 389.80,107.50 390.30,108.01 390.80,108.67 391.30,108.73 391.80,108.79 392.30,109.25 392.80,109.30 393.30,109.36 393.80,109.22 394.30,109.13 394.80,109.46 395.30,109.21 395.80,109.45 396.30,109.48 396.80,109.28 397.30,109.15 397.80,109.44 398.30,109.54 398.80,109.44 399.30,109.64 399.80,109.26 400.30,109.50 400.80,109.34 401.30,109.41 401.80,109.25 402.30,109.20 402.80,109.33 403.30,109.34 403.80,109.45 404.30,109.25 404.80,109.14 405.30,109.13 405.80,109.00 406.30,108.73 406.80,108.43 407.30,108.28 407.80,107.56 408.30,106.37 408.80,104.55 409.30,101.12 409.80,96.86 410.30,97.55 410.80,102.05 411.30,105.35 411.80,106.77 412.30,107.68 412.80,108.41 413.30,108.70 413.80,108.79 414.30,109.17 414.80,108.85 415.30,109.18 415.80,109.40 416.30,109.46 416.80,109.15 417.30,109.49 417.80,109.37 418.30,109.59 418.80,109.31 419.30,109.49 419.80,109.49 420.30,109.67 420.80,109.35 421.30,109.38 421.80,109.25 422.30,109.54 422.80,109.23 423.30,109.62 423.80,109.27 424.30,109.29 424.80,109.67 425.30,109.44 425.80,109.57 426.30,109.35 426.80,109.30 427.30,109.35 427.80,109.64 428.30,109.23 428.80,109.57 429.30,109.54 429.80,109.41 430.30,109.17 430.80,109.35 431.30,109.38 431.80,109.15 432.30,108.86 432.80,108.92 433.30,108.90 433.80,108.48 434.30,107.96 434.80,107.67 435.30,107.65 435.80,107.33 436.30,107.51 436.80,108.00 437.30,108.25 437.80,108.63 438.30,108.61 438.80,109.00 439.30,109.17 439.80,109.07 440.30,109.26 440.80,109.28 441.30,109.45 441.80,109.37 442.30,109.43 442.80,109.41 443.30,109.55 443.80,109.20 444.30,109.22 444.80,109.60 445.30,109.59 445.80,109.18 446.30,109.62 446.80,109.48 447.30,109.60 447.80,109.52 448.30,109.35 448.80,109.21 449.30,109.53 449.80,109.49 450.30,109.35 450.80,109.23 451.30,109.26 451.80,109.52 452.30,109.25 452.80,109.08 453.30,109.42 453.80,109.36 454.30,108.88 454.80,108.79 455.30,108.93 455.80,108.60 456.30,108.45 456.80,108.31 457.30,107.83 457.80,107.72 458.30,107.30 458.80,107.23 459.30,107.48 459.80,107.64 460.30,108.15 460.80,108.05 461.30,108.68 461.80,108.55 462.30,108.75 462.80,108.76 463.30,108.96 463.80,109.37 464.30,109.13 464.80,109.42 465.30,109.53 465.80,109.43 466.30,109.20 466.80,109.35 467.30,109.24 467.80,109.30" fill="none" stroke="#878769" stroke-width="1.3" stroke-linejoin="round" stroke-linecap="round" />
<polyline points="260.80,151.58 261.30,151.34 261.80,151.58 262.30,151.49 262.80,151.43 263.30,151.54 263.80,151.63 264.30,151.76 264.80,152.09 265.30,151.99 265.80,152.36 266.30,152.28 266.80,152.65 267.30,152.40 267.80,152.79 268.30,152.88 268.80,152.90 269.30,152.50 269.80,152.93 270.30,152.67 270.80,152.93 271.30,152.68 271.80,152.73 272.30,152.57 272.80,152.87 273.30,152.63 273.80,152.94 274.30,152.83 274.80,152.66 275.30,152.42 275.80,152.56 276.30,152.64 276.80,152.61 277.30,152.73 277.80,152.37 278.30,152.64 278.80,152.89 279.30,152.91 279.80,152.74 280.30,152.73 280.80,152.67 281.30,152.90 281.80,152.76 282.30,152.55 282.80,152.56 283.30,152.81 283.80,152.56 284.30,152.58 284.80,152.39 285.30,152.59 285.80,152.47 286.30,152.73 286.80,152.74 287.30,152.73 287.80,152.68 288.30,152.12 288.80,152.12 289.30,152.27 289.80,152.54 290.30,152.37 290.80,152.17 291.30,152.06 291.80,152.14 292.30,152.05 292.80,152.04 293.30,152.39 293.80,152.05 294.30,152.02 294.80,152.28 295.30,151.97 295.80,152.38 296.30,152.26 296.80,152.39 297.30,152.29 297.80,152.29 298.30,152.01 298.80,152.10 299.30,152.07 299.80,152.07 300.30,152.38 300.80,152.10 301.30,152.32 301.80,152.22 302.30,151.90 302.80,151.98 303.30,152.21 303.80,152.34 304.30,152.01 304.80,152.03 305.30,152.12 305.80,152.18 306.30,152.17 306.80,152.48 307.30,152.31 307.80,152.12 308.30,152.18 308.80,152.29 309.30,152.09 309.80,152.25 310.30,152.07 310.80,152.44 311.30,152.58 311.80,152.61 312.30,152.44 312.80,152.33 313.30,152.45 313.80,152.46 314.30,152.25 314.80,152.48 315.30,152.47 315.80,152.30 316.30,152.46 316.80,152.71 317.30,152.60 317.80,152.43 318.30,152.38 318.80,152.63 319.30,152.59 319.80,152.45 320.30,152.56 320.80,152.53 321.30,152.67 321.80,152.83 322.30,152.54 322.80,152.64 323.30,152.66 323.80,152.73 324.30,152.48 324.80,152.49 325.30,152.90 325.80,152.43 326.30,152.76 326.80,152.51 327.30,152.64 327.80,152.62 328.30,152.49 328.80,152.45 329.30,152.92 329.80,152.36 330.30,152.41 330.80,152.76 331.30,152.53 331.80,152.41 332.30,152.74 332.80,152.85 333.30,152.36 333.80,152.63 334.30,152.41 334.80,152.72 335.30,152.43 335.80,152.55 336.30,152.33 336.80,151.91 337.30,151.97 337.80,151.97 338.30,151.44 338.80,151.15 339.30,151.37 339.80,150.96 340.30,150.38 340.80,149.64 341.30,149.77 341.80,149.92 342.30,150.00 342.80,150.33 343.30,150.57 343.80,151.07 344.30,151.56 344.80,151.57 345.30,151.52 345.80,151.72 346.30,152.33 346.80,152.28 347.30,152.49 347.80,152.08 348.30,152.10 348.80,152.49 349.30,152.36 349.80,152.41 350.30,152.28 350.80,152.61 351.30,152.63 351.80,152.60 352.30,152.42 352.80,152.45 353.30,152.39 353.80,152.42 354.30,152.32 354.80,152.39 355.30,152.67 355.80,152.55 356.30,152.13 356.80,152.42 357.30,152.48 357.80,152.16 358.30,152.44 358.80,152.43 359.30,151.86 359.80,152.13 360.30,151.92 360.80,151.91 361.30,151.88 361.80,151.98 362.30,151.76 362.80,151.81 363.30,151.31 363.80,151.51 364.30,151.13 364.80,150.86 365.30,151.07 365.80,150.75 366.30,150.35 366.80,150.55 367.30,150.10 367.80,150.00 368.30,149.97 368.80,149.38 369.30,149.33 369.80,149.19 370.30,148.92 370.80,149.01 371.30,149.26 371.80,149.14 372.30,148.97 372.80,149.35 373.30,149.46 373.80,149.48 374.30,149.85 374.80,149.85 375.30,150.27 375.80,150.19 376.30,150.60 376.80,150.42 377.30,150.46 377.80,150.66 378.30,150.62 378.80,151.13 379.30,151.25 379.80,150.93 380.30,150.84 380.80,151.22 381.30,151.18 381.80,150.77 382.30,150.75 382.80,150.78 383.30,150.46 383.80,150.38 384.30,150.33 384.80,149.98 385.30,149.78 385.80,149.80 386.30,149.34 386.80,149.40 387.30,149.09 387.80,148.56 388.30,147.97 388.80,147.93 389.30,147.41 389.80,147.53 390.30,147.17 390.80,147.36 391.30,147.54 391.80,147.76 392.30,148.11 392.80,148.23 393.30,148.50 393.80,149.02 394.30,149.75 394.80,149.54 395.30,150.00 395.80,150.30 396.30,150.64 396.80,151.12 397.30,150.91 397.80,151.04 398.30,151.15 398.80,151.49 399.30,151.84 399.80,151.79 400.30,152.01 400.80,152.02 401.30,152.01 401.80,152.11 402.30,151.95 402.80,152.56 403.30,152.48 403.80,152.15 404.30,152.26 404.80,152.65 405.30,152.52 405.80,152.70 406.30,152.73 406.80,152.40 407.30,152.83 407.80,152.48 408.30,152.47 408.80,152.86 409.30,152.92 409.80,152.63 410.30,152.70 410.80,152.92 411.30,152.67 411.80,152.78 412.30,153.12 412.80,152.62 413.30,153.12 413.80,153.10 414.30,153.17 414.80,152.73 415.30,152.71 415.80,152.87 416.30,152.72 416.80,153.18 417.30,152.97 417.80,153.14 418.30,152.94 418.80,152.95 419.30,153.23 419.80,152.74 420.30,152.81 420.80,153.19 421.30,153.04 421.80,153.16 422.30,153.29 422.80,153.16 423.30,153.07 423.80,153.16 424.30,153.03 424.80,152.85 425.30,152.92 425.80,153.28 426.30,153.05 426.80,152.75 427.30,153.12 427.80,153.34 428.30,153.12 428.80,153.04 429.30,153.02 429.80,153.13 430.30,153.12 430.80,153.05 431.30,153.30 431.80,153.30 432.30,153.24 432.80,153.20 433.30,153.20 433.80,152.89 434.30,153.07 434.80,152.94 435.30,152.90 435.80,153.35 436.30,152.92 436.80,153.27 437.30,153.29 437.80,153.03 438.30,152.81 438.80,152.90 439.30,153.18 439.80,153.22 440.30,153.01 440.80,153.16 441.30,152.90 441.80,153.20 442.30,153.27 442.80,153.27 443.30,153.14 443.80,153.15 444.30,152.81 444.80,152.97 445.30,153.06 445.80,152.86 446.30,152.86 446.80,153.39 447.30,153.23 447.80,153.16 448.30,153.23 448.80,153.34 449.30,153.20 449.80,153.08 450.30,153.06 450.80,153.41 451.30,153.40 451.80,152.92 452.30,153.32 452.80,153.21 453.30,153.03 453.80,153.25 454.30,153.00 454.80,153.28 455.30,153.17 455.80,153.18 456.30,152.87 456.80,153.38 457.30,153.41 457.80,153.29 458.30,153.01 458.80,153.27 459.30,152.91 459.80,153.17 460.30,153.05 460.80,153.12 461.30,153.01 461.80,152.88 462.30,153.10 462.80,152.99 463.30,152.95 463.80,153.04 464.30,152.92 464.80,152.86 465.30,153.43 465.80,152.88 466.30,153.38 466.80,153.10 467.30,152.92 467.80,153.11" fill="none" stroke="#33c69e" stroke-width="1.2" stroke-linejoin="round" stroke-linecap="round" />
<polyline points="260.80,195.00 468.00,195.00" fill="none" stroke="#6f9c2c" stroke-width="1.6" stroke-linejoin="round" stroke-linecap="round" />
<rect x="263.5" y="193.5" width="1.6" height="1.5" fill="#6f9c2c"/>
<rect x="274.4" y="179.3" width="1.6" height="15.7" fill="#6f9c2c"/>
<rect x="281.0" y="187.5" width="1.6" height="7.5" fill="#6f9c2c"/>
<rect x="287.9" y="189.5" width="1.6" height="5.5" fill="#6f9c2c"/>
<rect x="292.7" y="185.5" width="1.6" height="9.5" fill="#6f9c2c"/>
<rect x="301.8" y="193.2" width="1.6" height="1.8" fill="#6f9c2c"/>
<rect x="304.7" y="193.5" width="1.6" height="1.5" fill="#6f9c2c"/>
<rect x="307.9" y="193.1" width="1.6" height="1.9" fill="#6f9c2c"/>
<rect x="319.59999999999997" y="193.8" width="1.6" height="1.2" fill="#6f9c2c"/>
<rect x="333.0" y="194.2" width="1.6" height="0.8" fill="#6f9c2c"/>
<line x1="264.8" y1="53" x2="264.8" y2="61" stroke="#111" stroke-width="1.0"/>
<polygon points="262.90000000000003,60.4 266.7,60.4 264.8,64" fill="#111"/>
<line x1="274.5" y1="44" x2="274.5" y2="53" stroke="#111" stroke-width="1.0"/>
<polygon points="272.6,52.4 276.4,52.4 274.5,56" fill="#111"/>
<line x1="283" y1="45.7" x2="283" y2="55" stroke="#111" stroke-width="1.0"/>
<polygon points="281.1,54.4 284.9,54.4 283,58" fill="#111"/>
<line x1="336.7" y1="43" x2="336.7" y2="52.5" stroke="#111" stroke-width="1.0"/>
<polygon points="334.8,51.9 338.59999999999997,51.9 336.7,55.5" fill="#111"/>
<line x1="263.5" y1="96" x2="263.5" y2="105" stroke="#111" stroke-width="1.0"/>
<polygon points="261.6,104.4 265.4,104.4 263.5,108" fill="#111"/>
<line x1="274.5" y1="84.8" x2="274.5" y2="92.7" stroke="#111" stroke-width="1.0"/>
<polygon points="272.6,92.10000000000001 276.4,92.10000000000001 274.5,95.7" fill="#111"/>
<line x1="283" y1="83" x2="283" y2="91.5" stroke="#111" stroke-width="1.0"/>
<polygon points="281.1,90.9 284.9,90.9 283,94.5" fill="#111"/>
<line x1="337.2" y1="72.6" x2="337.2" y2="81" stroke="#111" stroke-width="1.0"/>
<polygon points="335.3,80.4 339.09999999999997,80.4 337.2,84" fill="#111"/>
<line x1="342" y1="136.8" x2="342" y2="144.8" stroke="#111" stroke-width="1.0"/>
<polygon points="340.1,144.20000000000002 343.9,144.20000000000002 342,147.8" fill="#111"/>
<line x1="264.3" y1="180.7" x2="264.3" y2="190" stroke="#111" stroke-width="1.0"/>
<polygon points="262.40000000000003,189.4 266.2,189.4 264.3,193" fill="#111"/>
<line x1="275.7" y1="167" x2="275.7" y2="175.8" stroke="#111" stroke-width="1.0"/>
<polygon points="273.8,175.20000000000002 277.59999999999997,175.20000000000002 275.7,178.8" fill="#111"/>
<line x1="282.3" y1="175" x2="282.3" y2="184.6" stroke="#111" stroke-width="1.0"/>
<polygon points="280.40000000000003,184.0 284.2,184.0 282.3,187.6" fill="#111"/>
<line x1="333.8" y1="181" x2="333.8" y2="190" stroke="#111" stroke-width="1.0"/>
<polygon points="331.90000000000003,189.4 335.7,189.4 333.8,193" fill="#111"/>
<text x="466.6" y="53.5" font-size="11.5" text-anchor="end" font-weight="normal" fill="#1a1a1a" stroke="#1a1a1a" stroke-width="0.2" >Nanosheet Zn-TCPP</text>
<text x="466.6" y="93.7" font-size="11.5" text-anchor="end" font-weight="normal" fill="#1a1a1a" stroke="#1a1a1a" stroke-width="0.2" >Bulk Zn-TCPP</text>
<text x="466.2" y="149.0" font-size="11.5" text-anchor="end" font-weight="normal" fill="#1a1a1a" stroke="#1a1a1a" stroke-width="0.2" >MOF-CT/PVA</text>
<text x="465.6" y="189.7" font-size="11.5" text-anchor="end" font-weight="normal" fill="#1a1a1a" stroke="#1a1a1a" stroke-width="0.2" >Simulation</text>
<rect x="260.3" y="27.4" width="208.0" height="168.9" fill="none" stroke="#111" stroke-width="1.3"/>
<line x1="260.3" y1="67.4" x2="468.3" y2="67.4" stroke="#111" stroke-width="1.3"/>
<line x1="260.3" y1="110.5" x2="468.3" y2="110.5" stroke="#111" stroke-width="1.3"/>
<line x1="260.3" y1="154.0" x2="468.3" y2="154.0" stroke="#111" stroke-width="1.3"/>
<line x1="290.015" y1="67.4" x2="290.015" y2="74.2" stroke="#111" stroke-width="1.2"/>
<line x1="319.73" y1="67.4" x2="319.73" y2="70.9" stroke="#111" stroke-width="1.2"/>
<line x1="349.445" y1="67.4" x2="349.445" y2="74.2" stroke="#111" stroke-width="1.2"/>
<line x1="379.15999999999997" y1="67.4" x2="379.15999999999997" y2="70.9" stroke="#111" stroke-width="1.2"/>
<line x1="408.875" y1="67.4" x2="408.875" y2="74.2" stroke="#111" stroke-width="1.2"/>
<line x1="438.59000000000003" y1="67.4" x2="438.59000000000003" y2="70.9" stroke="#111" stroke-width="1.2"/>
<line x1="468.305" y1="67.4" x2="468.305" y2="74.2" stroke="#111" stroke-width="1.2"/>
<line x1="290.015" y1="110.5" x2="290.015" y2="117.3" stroke="#111" stroke-width="1.2"/>
<line x1="319.73" y1="110.5" x2="319.73" y2="114.0" stroke="#111" stroke-width="1.2"/>
<line x1="349.445" y1="110.5" x2="349.445" y2="117.3" stroke="#111" stroke-width="1.2"/>
<line x1="379.15999999999997" y1="110.5" x2="379.15999999999997" y2="114.0" stroke="#111" stroke-width="1.2"/>
<line x1="408.875" y1="110.5" x2="408.875" y2="117.3" stroke="#111" stroke-width="1.2"/>
<line x1="438.59000000000003" y1="110.5" x2="438.59000000000003" y2="114.0" stroke="#111" stroke-width="1.2"/>
<line x1="468.305" y1="110.5" x2="468.305" y2="117.3" stroke="#111" stroke-width="1.2"/>
<line x1="290.015" y1="154.0" x2="290.015" y2="160.8" stroke="#111" stroke-width="1.2"/>
<line x1="319.73" y1="154.0" x2="319.73" y2="157.5" stroke="#111" stroke-width="1.2"/>
<line x1="349.445" y1="154.0" x2="349.445" y2="160.8" stroke="#111" stroke-width="1.2"/>
<line x1="379.15999999999997" y1="154.0" x2="379.15999999999997" y2="157.5" stroke="#111" stroke-width="1.2"/>
<line x1="408.875" y1="154.0" x2="408.875" y2="160.8" stroke="#111" stroke-width="1.2"/>
<line x1="438.59000000000003" y1="154.0" x2="438.59000000000003" y2="157.5" stroke="#111" stroke-width="1.2"/>
<line x1="468.305" y1="154.0" x2="468.305" y2="160.8" stroke="#111" stroke-width="1.2"/>
<line x1="290.015" y1="196.3" x2="290.015" y2="203.10000000000002" stroke="#111" stroke-width="1.2"/>
<line x1="319.73" y1="196.3" x2="319.73" y2="199.8" stroke="#111" stroke-width="1.2"/>
<line x1="349.445" y1="196.3" x2="349.445" y2="203.10000000000002" stroke="#111" stroke-width="1.2"/>
<line x1="379.15999999999997" y1="196.3" x2="379.15999999999997" y2="199.8" stroke="#111" stroke-width="1.2"/>
<line x1="408.875" y1="196.3" x2="408.875" y2="203.10000000000002" stroke="#111" stroke-width="1.2"/>
<line x1="438.59000000000003" y1="196.3" x2="438.59000000000003" y2="199.8" stroke="#111" stroke-width="1.2"/>
<line x1="468.305" y1="196.3" x2="468.305" y2="203.10000000000002" stroke="#111" stroke-width="1.2"/>
<text x="290.015" y="217.3" font-size="11.5" text-anchor="middle" font-weight="normal" fill="#1a1a1a" stroke="#1a1a1a" stroke-width="0.2" >10</text>
<text x="349.445" y="217.3" font-size="11.5" text-anchor="middle" font-weight="normal" fill="#1a1a1a" stroke="#1a1a1a" stroke-width="0.2" >20</text>
<text x="408.875" y="217.3" font-size="11.5" text-anchor="middle" font-weight="normal" fill="#1a1a1a" stroke="#1a1a1a" stroke-width="0.2" >30</text>
<text x="468.305" y="217.3" font-size="11.5" text-anchor="middle" font-weight="normal" fill="#1a1a1a" stroke="#1a1a1a" stroke-width="0.2" >40</text>
<text x="354.6" y="235.3" font-size="11.5" text-anchor="start" font-weight="normal" fill="#1a1a1a" stroke="#1a1a1a" stroke-width="0.2" >2θ (°)</text>
<text x="481.5" y="34.8" font-size="16" text-anchor="start" font-weight="bold" fill="#000" >c</text>
<text x="543.7" y="20.2" font-size="11.3" text-anchor="start" font-weight="normal" fill="#1a1a1a" stroke="#1a1a1a" stroke-width="0.2" >C-O/C-N C=O</text>
<text transform="translate(495.2,110) rotate(-90)" font-size="11.5" text-anchor="middle" fill="#1a1a1a" stroke="#1a1a1a" stroke-width="0.2">Intensity</text>
<polyline points="501.70,66.04 502.20,66.03 502.70,66.02 503.20,66.01 503.70,66.00 504.20,65.99 504.70,65.98 505.20,65.97 505.70,65.96 506.20,65.95 506.70,65.94 507.20,65.93 507.70,65.92 508.20,65.91 508.70,65.90 509.20,65.89 509.70,65.87 510.20,65.86 510.70,65.85 511.20,65.83 511.70,65.82 512.20,65.81 512.70,65.79 513.20,65.78 513.70,65.76 514.20,65.75 514.70,65.73 515.20,65.71 515.70,65.70 516.20,65.68 516.70,65.66 517.20,65.64 517.70,65.62 518.20,65.61 518.70,65.59 519.20,65.56 519.70,65.54 520.20,65.52 520.70,65.50 521.20,65.47 521.70,65.45 522.20,65.42 522.70,65.40 523.20,65.37 523.70,65.34 524.20,65.31 524.70,65.29 525.20,65.25 525.70,65.22 526.20,65.19 526.70,65.15 527.20,65.12 527.70,65.08 528.20,65.04 528.70,65.00 529.20,64.96 529.70,64.92 530.20,64.88 530.70,64.83 531.20,64.78 531.70,64.73 532.20,64.68 532.70,64.62 533.20,64.57 533.70,64.51 534.20,64.44 534.70,64.38 535.20,64.31 535.70,64.24 536.20,64.16 536.70,64.09 537.20,64.00 537.70,63.92 538.20,63.83 538.70,63.73 539.20,63.63 539.70,63.52 540.20,63.41 540.70,63.29 541.20,63.17 541.70,63.04 542.20,62.89 542.70,62.74 543.20,62.59 543.70,62.41 544.20,62.23 544.70,62.04 545.20,61.83 545.70,61.61 546.20,61.36 546.70,61.10 547.20,60.82 547.70,60.52 548.20,60.19 548.70,59.83 549.20,59.44 549.70,59.01 550.20,58.55 550.70,58.05 551.20,57.50 551.70,56.90 552.20,56.26 552.70,55.55 553.20,54.79 553.70,53.95 554.20,53.05 554.70,52.08 555.20,51.03 555.70,49.90 556.20,48.69 556.70,47.39 557.20,46.01 557.70,44.55 558.20,43.01 558.70,41.40 559.20,39.74 559.70,38.03 560.20,36.31 560.70,34.59 561.20,32.92 561.70,31.33 562.20,29.87 562.70,28.58 563.20,27.51 563.70,26.70 564.20,26.18 564.70,25.96 565.20,26.04 565.70,26.41 566.20,27.04 566.70,27.90 567.20,28.93 567.70,30.09 568.20,31.34 568.70,32.63 569.20,33.93 569.70,35.20 570.20,36.42 570.70,37.59 571.20,38.67 571.70,39.68 572.20,40.59 572.70,41.42 573.20,42.16 573.70,42.82 574.20,43.40 574.70,43.91 575.20,44.35 575.70,44.74 576.20,45.08 576.70,45.39 577.20,45.67 577.70,45.93 578.20,46.18 578.70,46.43 579.20,46.69 579.70,46.97 580.20,47.26 580.70,47.59 581.20,47.94 581.70,48.32 582.20,48.73 582.70,49.17 583.20,49.63 583.70,50.11 584.20,50.60 584.70,51.11 585.20,51.63 585.70,52.14 586.20,52.66 586.70,53.16 587.20,53.66 587.70,54.15 588.20,54.63 588.70,55.09 589.20,55.53 589.70,55.96 590.20,56.36 590.70,56.75 591.20,57.12 591.70,57.48 592.20,57.82 592.70,58.15 593.20,58.46 593.70,58.77 594.20,59.06 594.70,59.35 595.20,59.62 595.70,59.89 596.20,60.15 596.70,60.40 597.20,60.64 597.70,60.86 598.20,61.08 598.70,61.29 599.20,61.48 599.70,61.67 600.20,61.84 600.70,62.01 601.20,62.16 601.70,62.31 602.20,62.45 602.70,62.58 603.20,62.70 603.70,62.82 604.20,62.94 604.70,63.04 605.20,63.14 605.70,63.24 606.20,63.33 606.70,63.42 607.20,63.51 607.70,63.59 608.20,63.67 608.70,63.74 609.20,63.82 609.70,63.89 610.20,63.95 610.70,64.02 611.20,64.08 611.70,64.13 612.20,64.19 612.70,64.24 613.20,64.28 613.70,64.32 614.20,64.34 614.70,64.36 615.20,64.37 615.70,64.35 616.20,64.32 616.70,64.27 617.20,64.19 617.70,64.08 618.20,63.93 618.70,63.76 619.20,63.55 619.70,63.33 620.20,63.09 620.70,62.85 621.20,62.63 621.70,62.47 622.20,62.37 622.70,62.38 623.20,62.48 623.70,62.68 624.20,62.93 624.70,63.23 625.20,63.54 625.70,63.85 626.20,64.13 626.70,64.40 627.20,64.63 627.70,64.83 628.20,65.00 628.70,65.15 629.20,65.27 629.70,65.36 630.20,65.44 630.70,65.51 631.20,65.56 631.70,65.61 632.20,65.65 632.70,65.68 633.20,65.71 633.70,65.74 634.20,65.77 634.70,65.79 635.20,65.81 635.70,65.83 636.20,65.85 636.70,65.87 637.20,65.89 637.70,65.90 638.20,65.92 638.70,65.93 639.20,65.95 639.70,65.96 640.20,65.97 640.70,65.98 641.20,66.00 641.70,66.01 642.20,66.02 642.70,66.03 643.20,66.04 643.70,66.05 644.20,66.06 644.70,66.07 645.20,66.08 645.70,66.08 646.20,66.09 646.70,66.10 647.20,66.11 647.70,66.12 648.20,66.12 648.70,66.13 649.20,66.14 649.70,66.14 650.20,66.15 650.70,66.16 651.20,66.16 651.70,66.17 652.20,66.18 652.70,66.18 653.20,66.19 653.70,66.19 654.20,66.20 654.70,66.20 655.20,66.21 655.70,66.21 656.20,66.22 656.70,66.22 657.20,66.23 657.70,66.23 658.20,66.24 658.70,66.24 659.20,66.25 659.70,66.25 660.20,66.26 660.70,66.26 661.20,66.26 661.70,66.27 662.20,66.27 662.70,66.28 663.20,66.28 663.70,66.28 664.20,66.29 664.70,66.29 665.20,66.29 665.70,66.30 666.20,66.30 666.70,66.30 667.20,66.31 667.70,66.31 668.20,66.31 668.70,66.32 669.20,66.32 669.70,66.32 670.20,66.33 670.70,66.33 671.20,66.33 671.70,66.33 672.20,66.34 672.70,66.34 673.20,66.34 673.70,66.35 674.20,66.35 674.70,66.35 675.20,66.35 675.70,66.36 676.20,66.36 676.70,66.36 677.20,66.36 677.70,66.37 678.20,66.37 678.70,66.37 679.20,66.37 679.70,66.37 680.20,66.38 680.70,66.38 681.20,66.38 681.70,66.38 682.20,66.38" fill="none" stroke="#ff2424" stroke-width="1.6" stroke-linejoin="round" stroke-linecap="round" />
<polyline points="501.70,66.60 502.20,66.60 502.70,66.60 503.20,66.60 503.70,66.60 504.20,66.60 504.70,66.60 505.20,66.60 505.70,66.60 506.20,66.60 506.70,66.60 507.20,66.60 507.70,66.60 508.20,66.60 508.70,66.60 509.20,66.60 509.70,66.60 510.20,66.60 510.70,66.60 511.20,66.60 511.70,66.60 512.20,66.60 512.70,66.60 513.20,66.60 513.70,66.60 514.20,66.60 514.70,66.60 515.20,66.60 515.70,66.60 516.20,66.60 516.70,66.60 517.20,66.60 517.70,66.60 518.20,66.60 518.70,66.60 519.20,66.60 519.70,66.60 520.20,66.60 520.70,66.60 521.20,66.60 521.70,66.60 522.20,66.60 522.70,66.60 523.20,66.60 523.70,66.60 524.20,66.60 524.70,66.60 525.20,66.60 525.70,66.60 526.20,66.60 526.70,66.60 527.20,66.60 527.70,66.60 528.20,66.60 528.70,66.60 529.20,66.60 529.70,66.60 530.20,66.60 530.70,66.60 531.20,66.60 531.70,66.60 532.20,66.60 532.70,66.60 533.20,66.60 533.70,66.60 534.20,66.60 534.70,66.60 535.20,66.60 535.70,66.60 536.20,66.60 536.70,66.60 537.20,66.60 537.70,66.60 538.20,66.60 538.70,66.60 539.20,66.60 539.70,66.60 540.20,66.60 540.70,66.60 541.20,66.60 541.70,66.60 542.20,66.60 542.70,66.60 543.20,66.60 543.70,66.60 544.20,66.60 544.70,66.60 545.20,66.60 545.70,66.60 546.20,66.60 546.70,66.60 547.20,66.60 547.70,66.60 548.20,66.60 548.70,66.60 549.20,66.60 549.70,66.60 550.20,66.60 550.70,66.60 551.20,66.60 551.70,66.60 552.20,66.60 552.70,66.60 553.20,66.60 553.70,66.60 554.20,66.60 554.70,66.60 555.20,66.60 555.70,66.60 556.20,66.60 556.70,66.60 557.20,66.60 557.70,66.60 558.20,66.60 558.70,66.60 559.20,66.60 559.70,66.60 560.20,66.60 560.70,66.60 561.20,66.60 561.70,66.60 562.20,66.59 562.70,66.59 563.20,66.59 563.70,66.59 564.20,66.59 564.70,66.59 565.20,66.59 565.70,66.59 566.20,66.59 566.70,66.59 567.20,66.59 567.70,66.59 568.20,66.59 568.70,66.59 569.20,66.59 569.70,66.59 570.20,66.59 570.70,66.59 571.20,66.59 571.70,66.59 572.20,66.59 572.70,66.59 573.20,66.59 573.70,66.59 574.20,66.59 574.70,66.59 575.20,66.59 575.70,66.59 576.20,66.59 576.70,66.59 577.20,66.59 577.70,66.59 578.20,66.59 578.70,66.59 579.20,66.59 579.70,66.59 580.20,66.59 580.70,66.59 581.20,66.59 581.70,66.59 582.20,66.59 582.70,66.59 583.20,66.59 583.70,66.59 584.20,66.59 584.70,66.59 585.20,66.59 585.70,66.59 586.20,66.59 586.70,66.59 587.20,66.59 587.70,66.59 588.20,66.58 588.70,66.58 589.20,66.58 589.70,66.58 590.20,66.58 590.70,66.58 591.20,66.58 591.70,66.58 592.20,66.58 592.70,66.58 593.20,66.58 593.70,66.58 594.20,66.58 594.70,66.58 595.20,66.58 595.70,66.58 596.20,66.57 596.70,66.57 597.20,66.57 597.70,66.57 598.20,66.57 598.70,66.57 599.20,66.57 599.70,66.57 600.20,66.56 600.70,66.56 601.20,66.56 601.70,66.56 602.20,66.56 602.70,66.55 603.20,66.55 603.70,66.55 604.20,66.55 604.70,66.54 605.20,66.54 605.70,66.54 606.20,66.53 606.70,66.53 607.20,66.53 607.70,66.52 608.20,66.52 608.70,66.51 609.20,66.50 609.70,66.50 610.20,66.49 610.70,66.48 611.20,66.47 611.70,66.46 612.20,66.44 612.70,66.43 613.20,66.41 613.70,66.38 614.20,66.35 614.70,66.31 615.20,66.26 615.70,66.19 616.20,66.11 616.70,66.00 617.20,65.87 617.70,65.71 618.20,65.52 618.70,65.30 619.20,65.05 619.70,64.78 620.20,64.50 620.70,64.22 621.20,63.96 621.70,63.76 622.20,63.63 622.70,63.60 623.20,63.67 623.70,63.83 624.20,64.06 624.70,64.33 625.20,64.61 625.70,64.89 626.20,65.15 626.70,65.39 627.20,65.60 627.70,65.78 628.20,65.92 628.70,66.05 629.20,66.14 629.70,66.22 630.20,66.28 630.70,66.33 631.20,66.36 631.70,66.39 632.20,66.42 632.70,66.43 633.20,66.45 633.70,66.46 634.20,66.47 634.70,66.48 635.20,66.49 635.70,66.50 636.20,66.51 636.70,66.51 637.20,66.52 637.70,66.52 638.20,66.53 638.70,66.53 639.20,66.54 639.70,66.54 640.20,66.54 640.70,66.55 641.20,66.55 641.70,66.55 642.20,66.55 642.70,66.56 643.20,66.56 643.70,66.56 644.20,66.56 644.70,66.56 645.20,66.56 645.70,66.57 646.20,66.57 646.70,66.57 647.20,66.57 647.70,66.57 648.20,66.57 648.70,66.57 649.20,66.57 649.70,66.58 650.20,66.58 650.70,66.58 651.20,66.58 651.70,66.58 652.20,66.58 652.70,66.58 653.20,66.58 653.70,66.58 654.20,66.58 654.70,66.58 655.20,66.58 655.70,66.58 656.20,66.58 656.70,66.58 657.20,66.58 657.70,66.59 658.20,66.59 658.70,66.59 659.20,66.59 659.70,66.59 660.20,66.59 660.70,66.59 661.20,66.59 661.70,66.59 662.20,66.59 662.70,66.59 663.20,66.59 663.70,66.59 664.20,66.59 664.70,66.59 665.20,66.59 665.70,66.59 666.20,66.59 666.70,66.59 667.20,66.59 667.70,66.59 668.20,66.59 668.70,66.59 669.20,66.59 669.70,66.59 670.20,66.59 670.70,66.59 671.20,66.59 671.70,66.59 672.20,66.59 672.70,66.59 673.20,66.59 673.70,66.59 674.20,66.59 674.70,66.59 675.20,66.59 675.70,66.59 676.20,66.59 676.70,66.59 677.20,66.59 677.70,66.59 678.20,66.59 678.70,66.59 679.20,66.59 679.70,66.59 680.20,66.59 680.70,66.59 681.20,66.59 681.70,66.59 682.20,66.59" fill="none" stroke="#52cfb3" stroke-width="1.3" stroke-linejoin="round" stroke-linecap="round" />
<polyline points="501.70,66.60 502.20,66.60 502.70,66.60 503.20,66.60 503.70,66.60 504.20,66.60 504.70,66.60 505.20,66.60 505.70,66.60 506.20,66.60 506.70,66.60 507.20,66.60 507.70,66.60 508.20,66.60 508.70,66.60 509.20,66.60 509.70,66.60 510.20,66.60 510.70,66.60 511.20,66.60 511.70,66.60 512.20,66.60 512.70,66.60 513.20,66.60 513.70,66.60 514.20,66.60 514.70,66.60 515.20,66.60 515.70,66.60 516.20,66.60 516.70,66.60 517.20,66.60 517.70,66.60 518.20,66.60 518.70,66.60 519.20,66.60 519.70,66.60 520.20,66.60 520.70,66.60 521.20,66.60 521.70,66.60 522.20,66.60 522.70,66.60 523.20,66.60 523.70,66.60 524.20,66.60 524.70,66.60 525.20,66.60 525.70,66.60 526.20,66.60 526.70,66.60 527.20,66.60 527.70,66.60 528.20,66.60 528.70,66.60 529.20,66.60 529.70,66.60 530.20,66.60 530.70,66.60 531.20,66.60 531.70,66.60 532.20,66.60 532.70,66.60 533.20,66.60 533.70,66.60 534.20,66.60 534.70,66.60 535.20,66.60 535.70,66.60 536.20,66.60 536.70,66.60 537.20,66.60 537.70,66.60 538.20,66.60 538.70,66.60 539.20,66.60 539.70,66.60 540.20,66.60 540.70,66.59 541.20,66.59 541.70,66.59 542.20,66.59 542.70,66.59 543.20,66.59 543.70,66.59 544.20,66.59 544.70,66.59 545.20,66.59 545.70,66.59 546.20,66.59 546.70,66.59 547.20,66.59 547.70,66.59 548.20,66.59 548.70,66.59 549.20,66.59 549.70,66.59 550.20,66.59 550.70,66.59 551.20,66.59 551.70,66.59 552.20,66.59 552.70,66.59 553.20,66.59 553.70,66.59 554.20,66.59 554.70,66.59 555.20,66.59 555.70,66.59 556.20,66.59 556.70,66.59 557.20,66.59 557.70,66.59 558.20,66.59 558.70,66.59 559.20,66.59 559.70,66.59 560.20,66.59 560.70,66.59 561.20,66.59 561.70,66.59 562.20,66.59 562.70,66.59 563.20,66.59 563.70,66.58 564.20,66.58 564.70,66.58 565.20,66.58 565.70,66.58 566.20,66.58 566.70,66.58 567.20,66.58 567.70,66.58 568.20,66.58 568.70,66.58 569.20,66.58 569.70,66.58 570.20,66.58 570.70,66.58 571.20,66.57 571.70,66.57 572.20,66.57 572.70,66.57 573.20,66.57 573.70,66.57 574.20,66.57 574.70,66.56 575.20,66.56 575.70,66.56 576.20,66.56 576.70,66.56 577.20,66.55 577.70,66.55 578.20,66.55 578.70,66.54 579.20,66.54 579.70,66.53 580.20,66.53 580.70,66.52 581.20,66.51 581.70,66.50 582.20,66.49 582.70,66.48 583.20,66.46 583.70,66.45 584.20,66.43 584.70,66.41 585.20,66.38 585.70,66.36 586.20,66.33 586.70,66.30 587.20,66.26 587.70,66.22 588.20,66.18 588.70,66.14 589.20,66.10 589.70,66.06 590.20,66.01 590.70,65.97 591.20,65.93 591.70,65.89 592.20,65.86 592.70,65.83 593.20,65.81 593.70,65.80 594.20,65.80 594.70,65.81 595.20,65.83 595.70,65.85 596.20,65.88 596.70,65.92 597.20,65.96 597.70,66.00 598.20,66.05 598.70,66.09 599.20,66.13 599.70,66.18 600.20,66.22 600.70,66.25 601.20,66.29 601.70,66.32 602.20,66.35 602.70,66.38 603.20,66.40 603.70,66.42 604.20,66.44 604.70,66.46 605.20,66.48 605.70,66.49 606.20,66.50 606.70,66.51 607.20,66.52 607.70,66.52 608.20,66.53 608.70,66.54 609.20,66.54 609.70,66.55 610.20,66.55 610.70,66.55 611.20,66.56 611.70,66.56 612.20,66.56 612.70,66.56 613.20,66.56 613.70,66.57 614.20,66.57 614.70,66.57 615.20,66.57 615.70,66.57 616.20,66.57 616.70,66.57 617.20,66.57 617.70,66.58 618.20,66.58 618.70,66.58 619.20,66.58 619.70,66.58 620.20,66.58 620.70,66.58 621.20,66.58 621.70,66.58 622.20,66.58 622.70,66.58 623.20,66.58 623.70,66.58 624.20,66.58 624.70,66.59 625.20,66.59 625.70,66.59 626.20,66.59 626.70,66.59 627.20,66.59 627.70,66.59 628.20,66.59 628.70,66.59 629.20,66.59 629.70,66.59 630.20,66.59 630.70,66.59 631.20,66.59 631.70,66.59 632.20,66.59 632.70,66.59 633.20,66.59 633.70,66.59 634.20,66.59 634.70,66.59 635.20,66.59 635.70,66.59 636.20,66.59 636.70,66.59 637.20,66.59 637.70,66.59 638.20,66.59 638.70,66.59 639.20,66.59 639.70,66.59 640.20,66.59 640.70,66.59 641.20,66.59 641.70,66.59 642.20,66.59 642.70,66.59 643.20,66.59 643.70,66.59 644.20,66.59 644.70,66.59 645.20,66.59 645.70,66.59 646.20,66.59 646.70,66.59 647.20,66.59 647.70,66.60 648.20,66.60 648.70,66.60 649.20,66.60 649.70,66.60 650.20,66.60 650.70,66.60 651.20,66.60 651.70,66.60 652.20,66.60 652.70,66.60 653.20,66.60 653.70,66.60 654.20,66.60 654.70,66.60 655.20,66.60 655.70,66.60 656.20,66.60 656.70,66.60 657.20,66.60 657.70,66.60 658.20,66.60 658.70,66.60 659.20,66.60 659.70,66.60 660.20,66.60 660.70,66.60 661.20,66.60 661.70,66.60 662.20,66.60 662.70,66.60 663.20,66.60 663.70,66.60 664.20,66.60 664.70,66.60 665.20,66.60 665.70,66.60 666.20,66.60 666.70,66.60 667.20,66.60 667.70,66.60 668.20,66.60 668.70,66.60 669.20,66.60 669.70,66.60 670.20,66.60 670.70,66.60 671.20,66.60 671.70,66.60 672.20,66.60 672.70,66.60 673.20,66.60 673.70,66.60 674.20,66.60 674.70,66.60 675.20,66.60 675.70,66.60 676.20,66.60 676.70,66.60 677.20,66.60 677.70,66.60 678.20,66.60 678.70,66.60 679.20,66.60 679.70,66.60 680.20,66.60 680.70,66.60 681.20,66.60 681.70,66.60 682.20,66.60" fill="none" stroke="#52cfb3" stroke-width="1.3" stroke-linejoin="round" stroke-linecap="round" />
<polyline points="501.70,66.58 502.20,66.58 502.70,66.58 503.20,66.58 503.70,66.58 504.20,66.58 504.70,66.58 505.20,66.58 505.70,66.58 506.20,66.58 506.70,66.58 507.20,66.58 507.70,66.58 508.20,66.58 508.70,66.58 509.20,66.58 509.70,66.58 510.20,66.58 510.70,66.58 511.20,66.58 511.70,66.58 512.20,66.58 512.70,66.58 513.20,66.58 513.70,66.58 514.20,66.58 514.70,66.58 515.20,66.58 515.70,66.58 516.20,66.58 516.70,66.58 517.20,66.58 517.70,66.58 518.20,66.58 518.70,66.58 519.20,66.58 519.70,66.57 520.20,66.57 520.70,66.57 521.20,66.57 521.70,66.57 522.20,66.57 522.70,66.57 523.20,66.57 523.70,66.57 524.20,66.57 524.70,66.57 525.20,66.57 525.70,66.57 526.20,66.57 526.70,66.57 527.20,66.57 527.70,66.57 528.20,66.57 528.70,66.57 529.20,66.57 529.70,66.57 530.20,66.57 530.70,66.57 531.20,66.57 531.70,66.57 532.20,66.57 532.70,66.56 533.20,66.56 533.70,66.56 534.20,66.56 534.70,66.56 535.20,66.56 535.70,66.56 536.20,66.56 536.70,66.56 537.20,66.56 537.70,66.56 538.20,66.56 538.70,66.56 539.20,66.56 539.70,66.56 540.20,66.56 540.70,66.55 541.20,66.55 541.70,66.55 542.20,66.55 542.70,66.55 543.20,66.55 543.70,66.55 544.20,66.55 544.70,66.55 545.20,66.55 545.70,66.55 546.20,66.55 546.70,66.54 547.20,66.54 547.70,66.54 548.20,66.54 548.70,66.54 549.20,66.54 549.70,66.54 550.20,66.54 550.70,66.54 551.20,66.53 551.70,66.53 552.20,66.53 552.70,66.53 553.20,66.53 553.70,66.53 554.20,66.53 554.70,66.52 555.20,66.52 555.70,66.52 556.20,66.52 556.70,66.52 557.20,66.52 557.70,66.51 558.20,66.51 558.70,66.51 559.20,66.51 559.70,66.50 560.20,66.50 560.70,66.50 561.20,66.50 561.70,66.49 562.20,66.49 562.70,66.49 563.20,66.48 563.70,66.48 564.20,66.47 564.70,66.47 565.20,66.46 565.70,66.46 566.20,66.45 566.70,66.45 567.20,66.44 567.70,66.44 568.20,66.43 568.70,66.42 569.20,66.42 569.70,66.41 570.20,66.40 570.70,66.39 571.20,66.38 571.70,66.37 572.20,66.36 572.70,66.35 573.20,66.34 573.70,66.33 574.20,66.31 574.70,66.30 575.20,66.29 575.70,66.27 576.20,66.26 576.70,66.24 577.20,66.22 577.70,66.20 578.20,66.19 578.70,66.17 579.20,66.15 579.70,66.12 580.20,66.10 580.70,66.08 581.20,66.06 581.70,66.03 582.20,66.01 582.70,65.98 583.20,65.95 583.70,65.93 584.20,65.90 584.70,65.87 585.20,65.84 585.70,65.81 586.20,65.78 586.70,65.75 587.20,65.71 587.70,65.68 588.20,65.65 588.70,65.62 589.20,65.58 589.70,65.55 590.20,65.52 590.70,65.48 591.20,65.45 591.70,65.42 592.20,65.39 592.70,65.36 593.20,65.33 593.70,65.30 594.20,65.27 594.70,65.25 595.20,65.22 595.70,65.20 596.20,65.18 596.70,65.16 597.20,65.14 597.70,65.13 598.20,65.12 598.70,65.11 599.20,65.10 599.70,65.10 600.20,65.10 600.70,65.10 601.20,65.11 601.70,65.12 602.20,65.13 602.70,65.14 603.20,65.16 603.70,65.17 604.20,65.19 604.70,65.22 605.20,65.24 605.70,65.27 606.20,65.29 606.70,65.32 607.20,65.35 607.70,65.38 608.20,65.41 608.70,65.44 609.20,65.48 609.70,65.51 610.20,65.54 610.70,65.58 611.20,65.61 611.70,65.64 612.20,65.67 612.70,65.71 613.20,65.74 613.70,65.77 614.20,65.80 614.70,65.83 615.20,65.86 615.70,65.89 616.20,65.92 616.70,65.95 617.20,65.97 617.70,66.00 618.20,66.03 618.70,66.05 619.20,66.07 619.70,66.10 620.20,66.12 620.70,66.14 621.20,66.16 621.70,66.18 622.20,66.20 622.70,66.22 623.20,66.24 623.70,66.25 624.20,66.27 624.70,66.28 625.20,66.30 625.70,66.31 626.20,66.32 626.70,66.34 627.20,66.35 627.70,66.36 628.20,66.37 628.70,66.38 629.20,66.39 629.70,66.40 630.20,66.41 630.70,66.41 631.20,66.42 631.70,66.43 632.20,66.44 632.70,66.44 633.20,66.45 633.70,66.45 634.20,66.46 634.70,66.46 635.20,66.47 635.70,66.47 636.20,66.48 636.70,66.48 637.20,66.48 637.70,66.49 638.20,66.49 638.70,66.49 639.20,66.50 639.70,66.50 640.20,66.50 640.70,66.51 641.20,66.51 641.70,66.51 642.20,66.51 642.70,66.51 643.20,66.52 643.70,66.52 644.20,66.52 644.70,66.52 645.20,66.52 645.70,66.53 646.20,66.53 646.70,66.53 647.20,66.53 647.70,66.53 648.20,66.53 648.70,66.53 649.20,66.54 649.70,66.54 650.20,66.54 650.70,66.54 651.20,66.54 651.70,66.54 652.20,66.54 652.70,66.54 653.20,66.54 653.70,66.55 654.20,66.55 654.70,66.55 655.20,66.55 655.70,66.55 656.20,66.55 656.70,66.55 657.20,66.55 657.70,66.55 658.20,66.55 658.70,66.55 659.20,66.55 659.70,66.56 660.20,66.56 660.70,66.56 661.20,66.56 661.70,66.56 662.20,66.56 662.70,66.56 663.20,66.56 663.70,66.56 664.20,66.56 664.70,66.56 665.20,66.56 665.70,66.56 666.20,66.56 666.70,66.56 667.20,66.56 667.70,66.56 668.20,66.57 668.70,66.57 669.20,66.57 669.70,66.57 670.20,66.57 670.70,66.57 671.20,66.57 671.70,66.57 672.20,66.57 672.70,66.57 673.20,66.57 673.70,66.57 674.20,66.57 674.70,66.57 675.20,66.57 675.70,66.57 676.20,66.57 676.70,66.57 677.20,66.57 677.70,66.57 678.20,66.57 678.70,66.57 679.20,66.57 679.70,66.57 680.20,66.57 680.70,66.57 681.20,66.58 681.70,66.58 682.20,66.58" fill="none" stroke="#bfe4ad" stroke-width="1.3" stroke-linejoin="round" stroke-linecap="round" />
<polyline points="501.70,66.51 502.20,66.51 502.70,66.51 503.20,66.51 503.70,66.51 504.20,66.50 504.70,66.50 505.20,66.50 505.70,66.50 506.20,66.50 506.70,66.50 507.20,66.50 507.70,66.50 508.20,66.49 508.70,66.49 509.20,66.49 509.70,66.49 510.20,66.49 510.70,66.49 511.20,66.48 511.70,66.48 512.20,66.48 512.70,66.48 513.20,66.48 513.70,66.48 514.20,66.47 514.70,66.47 515.20,66.47 515.70,66.47 516.20,66.47 516.70,66.46 517.20,66.46 517.70,66.46 518.20,66.46 518.70,66.46 519.20,66.45 519.70,66.45 520.20,66.45 520.70,66.45 521.20,66.44 521.70,66.44 522.20,66.44 522.70,66.44 523.20,66.43 523.70,66.43 524.20,66.43 524.70,66.42 525.20,66.42 525.70,66.42 526.20,66.41 526.70,66.41 527.20,66.41 527.70,66.40 528.20,66.40 528.70,66.40 529.20,66.39 529.70,66.39 530.20,66.38 530.70,66.38 531.20,66.38 531.70,66.37 532.20,66.37 532.70,66.36 533.20,66.36 533.70,66.35 534.20,66.35 534.70,66.34 535.20,66.34 535.70,66.33 536.20,66.32 536.70,66.32 537.20,66.31 537.70,66.31 538.20,66.30 538.70,66.29 539.20,66.28 539.70,66.28 540.20,66.27 540.70,66.26 541.20,66.25 541.70,66.24 542.20,66.24 542.70,66.23 543.20,66.22 543.70,66.21 544.20,66.20 544.70,66.19 545.20,66.18 545.70,66.16 546.20,66.15 546.70,66.14 547.20,66.13 547.70,66.11 548.20,66.10 548.70,66.08 549.20,66.07 549.70,66.05 550.20,66.03 550.70,66.01 551.20,65.99 551.70,65.97 552.20,65.95 552.70,65.92 553.20,65.90 553.70,65.87 554.20,65.84 554.70,65.81 555.20,65.77 555.70,65.74 556.20,65.70 556.70,65.65 557.20,65.60 557.70,65.55 558.20,65.49 558.70,65.43 559.20,65.36 559.70,65.28 560.20,65.20 560.70,65.10 561.20,65.00 561.70,64.89 562.20,64.77 562.70,64.64 563.20,64.49 563.70,64.34 564.20,64.17 564.70,63.98 565.20,63.78 565.70,63.57 566.20,63.34 566.70,63.09 567.20,62.83 567.70,62.55 568.20,62.25 568.70,61.93 569.20,61.60 569.70,61.25 570.20,60.89 570.70,60.51 571.20,60.11 571.70,59.71 572.20,59.29 572.70,58.86 573.20,58.43 573.70,58.00 574.20,57.56 574.70,57.13 575.20,56.71 575.70,56.30 576.20,55.91 576.70,55.55 577.20,55.21 577.70,54.91 578.20,54.65 578.70,54.43 579.20,54.27 579.70,54.16 580.20,54.10 580.70,54.11 581.20,54.17 581.70,54.30 582.20,54.47 582.70,54.69 583.20,54.96 583.70,55.27 584.20,55.62 584.70,55.99 585.20,56.38 585.70,56.80 586.20,57.22 586.70,57.65 587.20,58.09 587.70,58.52 588.20,58.95 588.70,59.37 589.20,59.79 589.70,60.19 590.20,60.58 590.70,60.96 591.20,61.32 591.70,61.67 592.20,62.00 592.70,62.31 593.20,62.60 593.70,62.88 594.20,63.14 594.70,63.39 595.20,63.61 595.70,63.83 596.20,64.02 596.70,64.20 597.20,64.37 597.70,64.52 598.20,64.67 598.70,64.80 599.20,64.91 599.70,65.02 600.20,65.12 600.70,65.21 601.20,65.30 601.70,65.37 602.20,65.44 602.70,65.50 603.20,65.56 603.70,65.61 604.20,65.66 604.70,65.70 605.20,65.74 605.70,65.78 606.20,65.82 606.70,65.85 607.20,65.88 607.70,65.90 608.20,65.93 608.70,65.95 609.20,65.98 609.70,66.00 610.20,66.02 610.70,66.04 611.20,66.05 611.70,66.07 612.20,66.09 612.70,66.10 613.20,66.11 613.70,66.13 614.20,66.14 614.70,66.15 615.20,66.17 615.70,66.18 616.20,66.19 616.70,66.20 617.20,66.21 617.70,66.22 618.20,66.23 618.70,66.24 619.20,66.25 619.70,66.25 620.20,66.26 620.70,66.27 621.20,66.28 621.70,66.29 622.20,66.29 622.70,66.30 623.20,66.31 623.70,66.31 624.20,66.32 624.70,66.33 625.20,66.33 625.70,66.34 626.20,66.34 626.70,66.35 627.20,66.35 627.70,66.36 628.20,66.36 628.70,66.37 629.20,66.37 629.70,66.38 630.20,66.38 630.70,66.38 631.20,66.39 631.70,66.39 632.20,66.40 632.70,66.40 633.20,66.40 633.70,66.41 634.20,66.41 634.70,66.41 635.20,66.42 635.70,66.42 636.20,66.42 636.70,66.43 637.20,66.43 637.70,66.43 638.20,66.44 638.70,66.44 639.20,66.44 639.70,66.44 640.20,66.45 640.70,66.45 641.20,66.45 641.70,66.45 642.20,66.46 642.70,66.46 643.20,66.46 643.70,66.46 644.20,66.46 644.70,66.47 645.20,66.47 645.70,66.47 646.20,66.47 646.70,66.47 647.20,66.48 647.70,66.48 648.20,66.48 648.70,66.48 649.20,66.48 649.70,66.48 650.20,66.49 650.70,66.49 651.20,66.49 651.70,66.49 652.20,66.49 652.70,66.49 653.20,66.50 653.70,66.50 654.20,66.50 654.70,66.50 655.20,66.50 655.70,66.50 656.20,66.50 656.70,66.50 657.20,66.51 657.70,66.51 658.20,66.51 658.70,66.51 659.20,66.51 659.70,66.51 660.20,66.51 660.70,66.51 661.20,66.51 661.70,66.52 662.20,66.52 662.70,66.52 663.20,66.52 663.70,66.52 664.20,66.52 664.70,66.52 665.20,66.52 665.70,66.52 666.20,66.52 666.70,66.53 667.20,66.53 667.70,66.53 668.20,66.53 668.70,66.53 669.20,66.53 669.70,66.53 670.20,66.53 670.70,66.53 671.20,66.53 671.70,66.53 672.20,66.53 672.70,66.53 673.20,66.54 673.70,66.54 674.20,66.54 674.70,66.54 675.20,66.54 675.70,66.54 676.20,66.54 676.70,66.54 677.20,66.54 677.70,66.54 678.20,66.54 678.70,66.54 679.20,66.54 679.70,66.54 680.20,66.54 680.70,66.54 681.20,66.54 681.70,66.55 682.20,66.55" fill="none" stroke="#fac6a4" stroke-width="1.3" stroke-linejoin="round" stroke-linecap="round" />
<polyline points="501.70,66.15 502.20,66.14 502.70,66.13 503.20,66.12 503.70,66.12 504.20,66.11 504.70,66.10 505.20,66.09 505.70,66.08 506.20,66.08 506.70,66.07 507.20,66.06 507.70,66.05 508.20,66.04 508.70,66.03 509.20,66.02 509.70,66.01 510.20,66.00 510.70,65.99 511.20,65.97 511.70,65.96 512.20,65.95 512.70,65.94 513.20,65.93 513.70,65.91 514.20,65.90 514.70,65.89 515.20,65.87 515.70,65.86 516.20,65.84 516.70,65.83 517.20,65.81 517.70,65.79 518.20,65.78 518.70,65.76 519.20,65.74 519.70,65.72 520.20,65.70 520.70,65.68 521.20,65.66 521.70,65.64 522.20,65.62 522.70,65.60 523.20,65.57 523.70,65.55 524.20,65.52 524.70,65.50 525.20,65.47 525.70,65.44 526.20,65.41 526.70,65.38 527.20,65.35 527.70,65.32 528.20,65.28 528.70,65.25 529.20,65.21 529.70,65.17 530.20,65.13 530.70,65.09 531.20,65.04 531.70,65.00 532.20,64.95 532.70,64.90 533.20,64.85 533.70,64.80 534.20,64.74 534.70,64.68 535.20,64.62 535.70,64.55 536.20,64.49 536.70,64.41 537.20,64.34 537.70,64.26 538.20,64.18 538.70,64.09 539.20,64.00 539.70,63.90 540.20,63.79 540.70,63.68 541.20,63.57 541.70,63.45 542.20,63.31 542.70,63.17 543.20,63.03 543.70,62.87 544.20,62.70 544.70,62.51 545.20,62.32 545.70,62.10 546.20,61.88 546.70,61.63 547.20,61.36 547.70,61.07 548.20,60.76 548.70,60.41 549.20,60.04 549.70,59.63 550.20,59.19 550.70,58.71 551.20,58.18 551.70,57.61 552.20,56.99 552.70,56.31 553.20,55.57 553.70,54.77 554.20,53.90 554.70,52.96 555.20,51.95 555.70,50.86 556.20,49.69 556.70,48.44 557.20,47.11 557.70,45.70 558.20,44.23 558.70,42.68 559.20,41.09 559.70,39.47 560.20,37.83 560.70,36.21 561.20,34.64 561.70,33.16 562.20,31.83 562.70,30.68 563.20,29.76 563.70,29.11 564.20,28.76 564.70,28.73 565.20,29.01 565.70,29.60 566.20,30.47 566.70,31.58 567.20,32.88 567.70,34.34 568.20,35.89 568.70,37.50 569.20,39.14 569.70,40.77 570.20,42.37 570.70,43.92 571.20,45.41 571.70,46.83 572.20,48.18 572.70,49.44 573.20,50.63 573.70,51.73 574.20,52.76 574.70,53.72 575.20,54.60 575.70,55.41 576.20,56.17 576.70,56.86 577.20,57.49 577.70,58.07 578.20,58.61 578.70,59.10 579.20,59.55 579.70,59.96 580.20,60.34 580.70,60.69 581.20,61.01 581.70,61.30 582.20,61.58 582.70,61.83 583.20,62.06 583.70,62.27 584.20,62.47 584.70,62.66 585.20,62.83 585.70,62.99 586.20,63.15 586.70,63.29 587.20,63.42 587.70,63.54 588.20,63.66 588.70,63.77 589.20,63.88 589.70,63.98 590.20,64.07 590.70,64.16 591.20,64.24 591.70,64.32 592.20,64.40 592.70,64.47 593.20,64.54 593.70,64.61 594.20,64.67 594.70,64.73 595.20,64.79 595.70,64.84 596.20,64.89 596.70,64.94 597.20,64.99 597.70,65.04 598.20,65.08 598.70,65.12 599.20,65.16 599.70,65.20 600.20,65.24 600.70,65.27 601.20,65.31 601.70,65.34 602.20,65.37 602.70,65.40 603.20,65.43 603.70,65.46 604.20,65.49 604.70,65.52 605.20,65.54 605.70,65.57 606.20,65.59 606.70,65.61 607.20,65.64 607.70,65.66 608.20,65.68 608.70,65.70 609.20,65.72 609.70,65.74 610.20,65.76 610.70,65.77 611.20,65.79 611.70,65.81 612.20,65.82 612.70,65.84 613.20,65.85 613.70,65.87 614.20,65.88 614.70,65.90 615.20,65.91 615.70,65.92 616.20,65.94 616.70,65.95 617.20,65.96 617.70,65.97 618.20,65.98 618.70,65.99 619.20,66.01 619.70,66.02 620.20,66.03 620.70,66.04 621.20,66.05 621.70,66.06 622.20,66.06 622.70,66.07 623.20,66.08 623.70,66.09 624.20,66.10 624.70,66.11 625.20,66.12 625.70,66.12 626.20,66.13 626.70,66.14 627.20,66.15 627.70,66.15 628.20,66.16 628.70,66.17 629.20,66.17 629.70,66.18 630.20,66.19 630.70,66.19 631.20,66.20 631.70,66.20 632.20,66.21 632.70,66.22 633.20,66.22 633.70,66.23 634.20,66.23 634.70,66.24 635.20,66.24 635.70,66.25 636.20,66.25 636.70,66.26 637.20,66.26 637.70,66.27 638.20,66.27 638.70,66.27 639.20,66.28 639.70,66.28 640.20,66.29 640.70,66.29 641.20,66.29 641.70,66.30 642.20,66.30 642.70,66.31 643.20,66.31 643.70,66.31 644.20,66.32 644.70,66.32 645.20,66.32 645.70,66.33 646.20,66.33 646.70,66.33 647.20,66.34 647.70,66.34 648.20,66.34 648.70,66.35 649.20,66.35 649.70,66.35 650.20,66.36 650.70,66.36 651.20,66.36 651.70,66.36 652.20,66.37 652.70,66.37 653.20,66.37 653.70,66.37 654.20,66.38 654.70,66.38 655.20,66.38 655.70,66.38 656.20,66.39 656.70,66.39 657.20,66.39 657.70,66.39 658.20,66.39 658.70,66.40 659.20,66.40 659.70,66.40 660.20,66.40 660.70,66.41 661.20,66.41 661.70,66.41 662.20,66.41 662.70,66.41 663.20,66.42 663.70,66.42 664.20,66.42 664.70,66.42 665.20,66.42 665.70,66.42 666.20,66.43 666.70,66.43 667.20,66.43 667.70,66.43 668.20,66.43 668.70,66.43 669.20,66.44 669.70,66.44 670.20,66.44 670.70,66.44 671.20,66.44 671.70,66.44 672.20,66.44 672.70,66.45 673.20,66.45 673.70,66.45 674.20,66.45 674.70,66.45 675.20,66.45 675.70,66.45 676.20,66.46 676.70,66.46 677.20,66.46 677.70,66.46 678.20,66.46 678.70,66.46 679.20,66.46 679.70,66.46 680.20,66.47 680.70,66.47 681.20,66.47 681.70,66.47 682.20,66.47" fill="none" stroke="#878769" stroke-width="1.3" stroke-linejoin="round" stroke-linecap="round" />
<polyline points="501.70,111.16 502.20,111.15 502.70,111.15 503.20,111.14 503.70,111.14 504.20,111.13 504.70,111.13 505.20,111.12 505.70,111.11 506.20,111.11 506.70,111.10 507.20,111.10 507.70,111.09 508.20,111.08 508.70,111.08 509.20,111.07 509.70,111.06 510.20,111.05 510.70,111.05 511.20,111.04 511.70,111.03 512.20,111.02 512.70,111.01 513.20,111.01 513.70,111.00 514.20,110.99 514.70,110.98 515.20,110.97 515.70,110.96 516.20,110.95 516.70,110.94 517.20,110.93 517.70,110.91 518.20,110.90 518.70,110.89 519.20,110.88 519.70,110.87 520.20,110.85 520.70,110.84 521.20,110.83 521.70,110.81 522.20,110.80 522.70,110.78 523.20,110.77 523.70,110.75 524.20,110.73 524.70,110.71 525.20,110.70 525.70,110.68 526.20,110.66 526.70,110.64 527.20,110.62 527.70,110.59 528.20,110.57 528.70,110.55 529.20,110.52 529.70,110.50 530.20,110.47 530.70,110.44 531.20,110.41 531.70,110.38 532.20,110.35 532.70,110.32 533.20,110.29 533.70,110.25 534.20,110.21 534.70,110.17 535.20,110.13 535.70,110.09 536.20,110.05 536.70,110.00 537.20,109.95 537.70,109.90 538.20,109.84 538.70,109.79 539.20,109.73 539.70,109.66 540.20,109.59 540.70,109.52 541.20,109.45 541.70,109.37 542.20,109.28 542.70,109.19 543.20,109.09 543.70,108.99 544.20,108.88 544.70,108.76 545.20,108.63 545.70,108.49 546.20,108.34 546.70,108.18 547.20,108.01 547.70,107.82 548.20,107.62 548.70,107.40 549.20,107.16 549.70,106.90 550.20,106.62 550.70,106.31 551.20,105.98 551.70,105.62 552.20,105.22 552.70,104.80 553.20,104.34 553.70,103.84 554.20,103.30 554.70,102.73 555.20,102.11 555.70,101.44 556.20,100.73 556.70,99.98 557.20,99.19 557.70,98.35 558.20,97.48 558.70,96.57 559.20,95.65 559.70,94.71 560.20,93.78 560.70,92.86 561.20,91.99 561.70,91.19 562.20,90.47 562.70,89.86 563.20,89.40 563.70,89.09 564.20,88.95 564.70,88.99 565.20,89.20 565.70,89.57 566.20,90.09 566.70,90.74 567.20,91.48 567.70,92.30 568.20,93.16 568.70,94.06 569.20,94.97 569.70,95.86 570.20,96.75 570.70,97.60 571.20,98.41 571.70,99.19 572.20,99.93 572.70,100.61 573.20,101.26 573.70,101.86 574.20,102.42 574.70,102.93 575.20,103.40 575.70,103.84 576.20,104.23 576.70,104.60 577.20,104.92 577.70,105.22 578.20,105.49 578.70,105.74 579.20,105.96 579.70,106.16 580.20,106.33 580.70,106.49 581.20,106.63 581.70,106.75 582.20,106.86 582.70,106.96 583.20,107.05 583.70,107.12 584.20,107.18 584.70,107.24 585.20,107.29 585.70,107.33 586.20,107.36 586.70,107.39 587.20,107.41 587.70,107.43 588.20,107.45 588.70,107.47 589.20,107.48 589.70,107.49 590.20,107.50 590.70,107.51 591.20,107.52 591.70,107.54 592.20,107.55 592.70,107.56 593.20,107.58 593.70,107.60 594.20,107.61 594.70,107.63 595.20,107.65 595.70,107.67 596.20,107.70 596.70,107.72 597.20,107.74 597.70,107.76 598.20,107.78 598.70,107.81 599.20,107.83 599.70,107.85 600.20,107.87 600.70,107.89 601.20,107.91 601.70,107.93 602.20,107.95 602.70,107.97 603.20,107.99 603.70,108.00 604.20,108.02 604.70,108.04 605.20,108.06 605.70,108.07 606.20,108.09 606.70,108.11 607.20,108.13 607.70,108.15 608.20,108.17 608.70,108.20 609.20,108.22 609.70,108.25 610.20,108.27 610.70,108.30 611.20,108.33 611.70,108.37 612.20,108.40 612.70,108.44 613.20,108.48 613.70,108.52 614.20,108.56 614.70,108.61 615.20,108.66 615.70,108.71 616.20,108.76 616.70,108.81 617.20,108.86 617.70,108.91 618.20,108.97 618.70,109.02 619.20,109.08 619.70,109.14 620.20,109.19 620.70,109.25 621.20,109.31 621.70,109.36 622.20,109.42 622.70,109.47 623.20,109.53 623.70,109.58 624.20,109.63 624.70,109.69 625.20,109.74 625.70,109.79 626.20,109.84 626.70,109.89 627.20,109.93 627.70,109.98 628.20,110.03 628.70,110.07 629.20,110.11 629.70,110.16 630.20,110.20 630.70,110.24 631.20,110.28 631.70,110.31 632.20,110.35 632.70,110.38 633.20,110.42 633.70,110.45 634.20,110.48 634.70,110.51 635.20,110.54 635.70,110.57 636.20,110.60 636.70,110.62 637.20,110.65 637.70,110.67 638.20,110.70 638.70,110.72 639.20,110.74 639.70,110.76 640.20,110.78 640.70,110.80 641.20,110.82 641.70,110.84 642.20,110.85 642.70,110.87 643.20,110.89 643.70,110.90 644.20,110.92 644.70,110.93 645.20,110.95 645.70,110.96 646.20,110.97 646.70,110.98 647.20,110.99 647.70,111.01 648.20,111.02 648.70,111.03 649.20,111.04 649.70,111.05 650.20,111.06 650.70,111.07 651.20,111.07 651.70,111.08 652.20,111.09 652.70,111.10 653.20,111.11 653.70,111.11 654.20,111.12 654.70,111.13 655.20,111.14 655.70,111.14 656.20,111.15 656.70,111.15 657.20,111.16 657.70,111.17 658.20,111.17 658.70,111.18 659.20,111.18 659.70,111.19 660.20,111.19 660.70,111.20 661.20,111.20 661.70,111.21 662.20,111.21 662.70,111.22 663.20,111.22 663.70,111.22 664.20,111.23 664.70,111.23 665.20,111.24 665.70,111.24 666.20,111.24 666.70,111.25 667.20,111.25 667.70,111.25 668.20,111.26 668.70,111.26 669.20,111.26 669.70,111.27 670.20,111.27 670.70,111.27 671.20,111.27 671.70,111.28 672.20,111.28 672.70,111.28 673.20,111.29 673.70,111.29 674.20,111.29 674.70,111.29 675.20,111.30 675.70,111.30 676.20,111.30 676.70,111.30 677.20,111.30 677.70,111.31 678.20,111.31 678.70,111.31 679.20,111.31 679.70,111.32 680.20,111.32 680.70,111.32 681.20,111.32 681.70,111.32 682.20,111.32" fill="none" stroke="#ff2424" stroke-width="1.6" stroke-linejoin="round" stroke-linecap="round" />
<polyline points="501.70,111.50 502.20,111.50 502.70,111.50 503.20,111.49 503.70,111.49 504.20,111.49 504.70,111.49 505.20,111.49 505.70,111.49 506.20,111.49 506.70,111.49 507.20,111.49 507.70,111.49 508.20,111.49 508.70,111.49 509.20,111.49 509.70,111.49 510.20,111.49 510.70,111.49 511.20,111.49 511.70,111.49 512.20,111.49 512.70,111.49 513.20,111.49 513.70,111.49 514.20,111.49 514.70,111.49 515.20,111.49 515.70,111.49 516.20,111.49 516.70,111.49 517.20,111.49 517.70,111.49 518.20,111.49 518.70,111.49 519.20,111.49 519.70,111.49 520.20,111.49 520.70,111.49 521.20,111.49 521.70,111.49 522.20,111.49 522.70,111.49 523.20,111.49 523.70,111.49 524.20,111.49 524.70,111.49 525.20,111.49 525.70,111.49 526.20,111.49 526.70,111.49 527.20,111.49 527.70,111.49 528.20,111.49 528.70,111.49 529.20,111.49 529.70,111.49 530.20,111.49 530.70,111.49 531.20,111.49 531.70,111.49 532.20,111.49 532.70,111.49 533.20,111.49 533.70,111.49 534.20,111.49 534.70,111.49 535.20,111.49 535.70,111.49 536.20,111.49 536.70,111.49 537.20,111.49 537.70,111.49 538.20,111.49 538.70,111.49 539.20,111.49 539.70,111.49 540.20,111.49 540.70,111.49 541.20,111.49 541.70,111.48 542.20,111.48 542.70,111.48 543.20,111.48 543.70,111.48 544.20,111.48 544.70,111.48 545.20,111.48 545.70,111.48 546.20,111.48 546.70,111.48 547.20,111.48 547.70,111.48 548.20,111.48 548.70,111.48 549.20,111.48 549.70,111.48 550.20,111.48 550.70,111.48 551.20,111.48 551.70,111.48 552.20,111.48 552.70,111.48 553.20,111.48 553.70,111.47 554.20,111.47 554.70,111.47 555.20,111.47 555.70,111.47 556.20,111.47 556.70,111.47 557.20,111.47 557.70,111.47 558.20,111.47 558.70,111.47 559.20,111.47 559.70,111.46 560.20,111.46 560.70,111.46 561.20,111.46 561.70,111.46 562.20,111.46 562.70,111.46 563.20,111.46 563.70,111.45 564.20,111.45 564.70,111.45 565.20,111.45 565.70,111.45 566.20,111.44 566.70,111.44 567.20,111.44 567.70,111.44 568.20,111.43 568.70,111.43 569.20,111.42 569.70,111.42 570.20,111.42 570.70,111.41 571.20,111.40 571.70,111.40 572.20,111.39 572.70,111.39 573.20,111.38 573.70,111.37 574.20,111.36 574.70,111.35 575.20,111.34 575.70,111.33 576.20,111.31 576.70,111.30 577.20,111.29 577.70,111.27 578.20,111.26 578.70,111.24 579.20,111.22 579.70,111.20 580.20,111.18 580.70,111.16 581.20,111.14 581.70,111.11 582.20,111.09 582.70,111.07 583.20,111.04 583.70,111.02 584.20,110.99 584.70,110.96 585.20,110.94 585.70,110.91 586.20,110.88 586.70,110.86 587.20,110.83 587.70,110.81 588.20,110.79 588.70,110.77 589.20,110.75 589.70,110.73 590.20,110.72 590.70,110.71 591.20,110.70 591.70,110.70 592.20,110.70 592.70,110.70 593.20,110.71 593.70,110.72 594.20,110.73 594.70,110.75 595.20,110.76 595.70,110.78 596.20,110.81 596.70,110.83 597.20,110.85 597.70,110.88 598.20,110.90 598.70,110.93 599.20,110.96 599.70,110.98 600.20,111.01 600.70,111.04 601.20,111.06 601.70,111.09 602.20,111.11 602.70,111.13 603.20,111.15 603.70,111.18 604.20,111.20 604.70,111.22 605.20,111.23 605.70,111.25 606.20,111.27 606.70,111.28 607.20,111.30 607.70,111.31 608.20,111.32 608.70,111.34 609.20,111.35 609.70,111.36 610.20,111.37 610.70,111.38 611.20,111.38 611.70,111.39 612.20,111.40 612.70,111.40 613.20,111.41 613.70,111.41 614.20,111.42 614.70,111.42 615.20,111.43 615.70,111.43 616.20,111.43 616.70,111.44 617.20,111.44 617.70,111.44 618.20,111.45 618.70,111.45 619.20,111.45 619.70,111.45 620.20,111.45 620.70,111.46 621.20,111.46 621.70,111.46 622.20,111.46 622.70,111.46 623.20,111.46 623.70,111.46 624.20,111.46 624.70,111.47 625.20,111.47 625.70,111.47 626.20,111.47 626.70,111.47 627.20,111.47 627.70,111.47 628.20,111.47 628.70,111.47 629.20,111.47 629.70,111.47 630.20,111.47 630.70,111.47 631.20,111.48 631.70,111.48 632.20,111.48 632.70,111.48 633.20,111.48 633.70,111.48 634.20,111.48 634.70,111.48 635.20,111.48 635.70,111.48 636.20,111.48 636.70,111.48 637.20,111.48 637.70,111.48 638.20,111.48 638.70,111.48 639.20,111.48 639.70,111.48 640.20,111.48 640.70,111.48 641.20,111.48 641.70,111.48 642.20,111.48 642.70,111.49 643.20,111.49 643.70,111.49 644.20,111.49 644.70,111.49 645.20,111.49 645.70,111.49 646.20,111.49 646.70,111.49 647.20,111.49 647.70,111.49 648.20,111.49 648.70,111.49 649.20,111.49 649.70,111.49 650.20,111.49 650.70,111.49 651.20,111.49 651.70,111.49 652.20,111.49 652.70,111.49 653.20,111.49 653.70,111.49 654.20,111.49 654.70,111.49 655.20,111.49 655.70,111.49 656.20,111.49 656.70,111.49 657.20,111.49 657.70,111.49 658.20,111.49 658.70,111.49 659.20,111.49 659.70,111.49 660.20,111.49 660.70,111.49 661.20,111.49 661.70,111.49 662.20,111.49 662.70,111.49 663.20,111.49 663.70,111.49 664.20,111.49 664.70,111.49 665.20,111.49 665.70,111.49 666.20,111.49 666.70,111.49 667.20,111.49 667.70,111.49 668.20,111.49 668.70,111.49 669.20,111.49 669.70,111.49 670.20,111.49 670.70,111.49 671.20,111.49 671.70,111.49 672.20,111.49 672.70,111.49 673.20,111.49 673.70,111.49 674.20,111.49 674.70,111.49 675.20,111.49 675.70,111.49 676.20,111.49 676.70,111.49 677.20,111.49 677.70,111.49 678.20,111.49 678.70,111.49 679.20,111.49 679.70,111.49 680.20,111.49 680.70,111.49 681.20,111.50 681.70,111.50 682.20,111.50" fill="none" stroke="#bfe4ad" stroke-width="1.3" stroke-linejoin="round" stroke-linecap="round" />
<polyline points="501.70,111.49 502.20,111.49 502.70,111.49 503.20,111.49 503.70,111.49 504.20,111.49 504.70,111.49 505.20,111.49 505.70,111.49 506.20,111.49 506.70,111.49 507.20,111.49 507.70,111.49 508.20,111.49 508.70,111.49 509.20,111.49 509.70,111.49 510.20,111.49 510.70,111.49 511.20,111.49 511.70,111.49 512.20,111.49 512.70,111.49 513.20,111.49 513.70,111.49 514.20,111.49 514.70,111.49 515.20,111.49 515.70,111.49 516.20,111.49 516.70,111.49 517.20,111.49 517.70,111.49 518.20,111.49 518.70,111.49 519.20,111.49 519.70,111.49 520.20,111.49 520.70,111.49 521.20,111.49 521.70,111.49 522.20,111.49 522.70,111.49 523.20,111.49 523.70,111.49 524.20,111.49 524.70,111.48 525.20,111.48 525.70,111.48 526.20,111.48 526.70,111.48 527.20,111.48 527.70,111.48 528.20,111.48 528.70,111.48 529.20,111.48 529.70,111.48 530.20,111.48 530.70,111.48 531.20,111.48 531.70,111.48 532.20,111.48 532.70,111.48 533.20,111.48 533.70,111.48 534.20,111.48 534.70,111.48 535.20,111.48 535.70,111.48 536.20,111.48 536.70,111.48 537.20,111.48 537.70,111.48 538.20,111.48 538.70,111.48 539.20,111.48 539.70,111.48 540.20,111.48 540.70,111.48 541.20,111.48 541.70,111.48 542.20,111.48 542.70,111.48 543.20,111.48 543.70,111.48 544.20,111.48 544.70,111.48 545.20,111.47 545.70,111.47 546.20,111.47 546.70,111.47 547.20,111.47 547.70,111.47 548.20,111.47 548.70,111.47 549.20,111.47 549.70,111.47 550.20,111.47 550.70,111.47 551.20,111.47 551.70,111.47 552.20,111.47 552.70,111.47 553.20,111.47 553.70,111.47 554.20,111.47 554.70,111.47 555.20,111.47 555.70,111.47 556.20,111.46 556.70,111.46 557.20,111.46 557.70,111.46 558.20,111.46 558.70,111.46 559.20,111.46 559.70,111.46 560.20,111.46 560.70,111.46 561.20,111.46 561.70,111.46 562.20,111.46 562.70,111.46 563.20,111.45 563.70,111.45 564.20,111.45 564.70,111.45 565.20,111.45 565.70,111.45 566.20,111.45 566.70,111.45 567.20,111.45 567.70,111.44 568.20,111.44 568.70,111.44 569.20,111.44 569.70,111.44 570.20,111.44 570.70,111.44 571.20,111.44 571.70,111.43 572.20,111.43 572.70,111.43 573.20,111.43 573.70,111.43 574.20,111.42 574.70,111.42 575.20,111.42 575.70,111.42 576.20,111.41 576.70,111.41 577.20,111.41 577.70,111.40 578.20,111.40 578.70,111.40 579.20,111.39 579.70,111.39 580.20,111.39 580.70,111.38 581.20,111.38 581.70,111.37 582.20,111.37 582.70,111.36 583.20,111.35 583.70,111.35 584.20,111.34 584.70,111.33 585.20,111.32 585.70,111.32 586.20,111.31 586.70,111.30 587.20,111.29 587.70,111.28 588.20,111.26 588.70,111.25 589.20,111.24 589.70,111.23 590.20,111.21 590.70,111.20 591.20,111.18 591.70,111.17 592.20,111.15 592.70,111.13 593.20,111.11 593.70,111.09 594.20,111.07 594.70,111.05 595.20,111.03 595.70,111.01 596.20,110.99 596.70,110.96 597.20,110.94 597.70,110.92 598.20,110.89 598.70,110.86 599.20,110.84 599.70,110.81 600.20,110.78 600.70,110.75 601.20,110.73 601.70,110.70 602.20,110.67 602.70,110.64 603.20,110.61 603.70,110.59 604.20,110.56 604.70,110.53 605.20,110.51 605.70,110.48 606.20,110.46 606.70,110.43 607.20,110.41 607.70,110.39 608.20,110.37 608.70,110.35 609.20,110.34 609.70,110.33 610.20,110.32 610.70,110.31 611.20,110.30 611.70,110.30 612.20,110.30 612.70,110.30 613.20,110.31 613.70,110.31 614.20,110.32 614.70,110.34 615.20,110.35 615.70,110.37 616.20,110.39 616.70,110.41 617.20,110.43 617.70,110.45 618.20,110.47 618.70,110.50 619.20,110.53 619.70,110.55 620.20,110.58 620.70,110.61 621.20,110.64 621.70,110.66 622.20,110.69 622.70,110.72 623.20,110.75 623.70,110.78 624.20,110.80 624.70,110.83 625.20,110.86 625.70,110.88 626.20,110.91 626.70,110.94 627.20,110.96 627.70,110.98 628.20,111.01 628.70,111.03 629.20,111.05 629.70,111.07 630.20,111.09 630.70,111.11 631.20,111.13 631.70,111.15 632.20,111.16 632.70,111.18 633.20,111.20 633.70,111.21 634.20,111.22 634.70,111.24 635.20,111.25 635.70,111.26 636.20,111.27 636.70,111.28 637.20,111.29 637.70,111.30 638.20,111.31 638.70,111.32 639.20,111.33 639.70,111.34 640.20,111.35 640.70,111.35 641.20,111.36 641.70,111.36 642.20,111.37 642.70,111.38 643.20,111.38 643.70,111.38 644.20,111.39 644.70,111.39 645.20,111.40 645.70,111.40 646.20,111.40 646.70,111.41 647.20,111.41 647.70,111.41 648.20,111.42 648.70,111.42 649.20,111.42 649.70,111.42 650.20,111.43 650.70,111.43 651.20,111.43 651.70,111.43 652.20,111.43 652.70,111.43 653.20,111.44 653.70,111.44 654.20,111.44 654.70,111.44 655.20,111.44 655.70,111.44 656.20,111.44 656.70,111.45 657.20,111.45 657.70,111.45 658.20,111.45 658.70,111.45 659.20,111.45 659.70,111.45 660.20,111.45 660.70,111.45 661.20,111.45 661.70,111.46 662.20,111.46 662.70,111.46 663.20,111.46 663.70,111.46 664.20,111.46 664.70,111.46 665.20,111.46 665.70,111.46 666.20,111.46 666.70,111.46 667.20,111.46 667.70,111.46 668.20,111.46 668.70,111.47 669.20,111.47 669.70,111.47 670.20,111.47 670.70,111.47 671.20,111.47 671.70,111.47 672.20,111.47 672.70,111.47 673.20,111.47 673.70,111.47 674.20,111.47 674.70,111.47 675.20,111.47 675.70,111.47 676.20,111.47 676.70,111.47 677.20,111.47 677.70,111.47 678.20,111.47 678.70,111.47 679.20,111.48 679.70,111.48 680.20,111.48 680.70,111.48 681.20,111.48 681.70,111.48 682.20,111.48" fill="none" stroke="#52cfb3" stroke-width="1.3" stroke-linejoin="round" stroke-linecap="round" />
<polyline points="501.70,111.45 502.20,111.45 502.70,111.45 503.20,111.45 503.70,111.45 504.20,111.45 504.70,111.45 505.20,111.45 505.70,111.45 506.20,111.45 506.70,111.45 507.20,111.45 507.70,111.45 508.20,111.44 508.70,111.44 509.20,111.44 509.70,111.44 510.20,111.44 510.70,111.44 511.20,111.44 511.70,111.44 512.20,111.44 512.70,111.44 513.20,111.44 513.70,111.44 514.20,111.44 514.70,111.44 515.20,111.44 515.70,111.44 516.20,111.43 516.70,111.43 517.20,111.43 517.70,111.43 518.20,111.43 518.70,111.43 519.20,111.43 519.70,111.43 520.20,111.43 520.70,111.43 521.20,111.43 521.70,111.43 522.20,111.42 522.70,111.42 523.20,111.42 523.70,111.42 524.20,111.42 524.70,111.42 525.20,111.42 525.70,111.42 526.20,111.42 526.70,111.41 527.20,111.41 527.70,111.41 528.20,111.41 528.70,111.41 529.20,111.41 529.70,111.41 530.20,111.41 530.70,111.40 531.20,111.40 531.70,111.40 532.20,111.40 532.70,111.40 533.20,111.40 533.70,111.39 534.20,111.39 534.70,111.39 535.20,111.39 535.70,111.39 536.20,111.38 536.70,111.38 537.20,111.38 537.70,111.38 538.20,111.38 538.70,111.37 539.20,111.37 539.70,111.37 540.20,111.37 540.70,111.36 541.20,111.36 541.70,111.36 542.20,111.35 542.70,111.35 543.20,111.35 543.70,111.34 544.20,111.34 544.70,111.34 545.20,111.33 545.70,111.33 546.20,111.33 546.70,111.32 547.20,111.32 547.70,111.31 548.20,111.31 548.70,111.30 549.20,111.30 549.70,111.29 550.20,111.29 550.70,111.28 551.20,111.28 551.70,111.27 552.20,111.26 552.70,111.26 553.20,111.25 553.70,111.25 554.20,111.24 554.70,111.23 555.20,111.22 555.70,111.22 556.20,111.21 556.70,111.20 557.20,111.19 557.70,111.18 558.20,111.17 558.70,111.16 559.20,111.16 559.70,111.15 560.20,111.14 560.70,111.13 561.20,111.11 561.70,111.10 562.20,111.09 562.70,111.08 563.20,111.07 563.70,111.06 564.20,111.04 564.70,111.03 565.20,111.02 565.70,111.01 566.20,110.99 566.70,110.98 567.20,110.96 567.70,110.95 568.20,110.93 568.70,110.92 569.20,110.90 569.70,110.89 570.20,110.87 570.70,110.85 571.20,110.84 571.70,110.82 572.20,110.80 572.70,110.79 573.20,110.77 573.70,110.75 574.20,110.73 574.70,110.71 575.20,110.69 575.70,110.67 576.20,110.65 576.70,110.63 577.20,110.61 577.70,110.59 578.20,110.57 578.70,110.55 579.20,110.53 579.70,110.51 580.20,110.49 580.70,110.47 581.20,110.45 581.70,110.43 582.20,110.41 582.70,110.38 583.20,110.36 583.70,110.34 584.20,110.32 584.70,110.30 585.20,110.28 585.70,110.26 586.20,110.24 586.70,110.22 587.20,110.20 587.70,110.18 588.20,110.16 588.70,110.14 589.20,110.12 589.70,110.10 590.20,110.09 590.70,110.07 591.20,110.05 591.70,110.04 592.20,110.02 592.70,110.01 593.20,110.00 593.70,109.98 594.20,109.97 594.70,109.96 595.20,109.95 595.70,109.94 596.20,109.93 596.70,109.92 597.20,109.92 597.70,109.91 598.20,109.91 598.70,109.90 599.20,109.90 599.70,109.90 600.20,109.90 600.70,109.90 601.20,109.90 601.70,109.91 602.20,109.91 602.70,109.92 603.20,109.92 603.70,109.93 604.20,109.94 604.70,109.95 605.20,109.96 605.70,109.97 606.20,109.98 606.70,109.99 607.20,110.01 607.70,110.02 608.20,110.04 608.70,110.05 609.20,110.07 609.70,110.08 610.20,110.10 610.70,110.12 611.20,110.14 611.70,110.16 612.20,110.18 612.70,110.20 613.20,110.21 613.70,110.24 614.20,110.26 614.70,110.28 615.20,110.30 615.70,110.32 616.20,110.34 616.70,110.36 617.20,110.38 617.70,110.40 618.20,110.42 618.70,110.44 619.20,110.47 619.70,110.49 620.20,110.51 620.70,110.53 621.20,110.55 621.70,110.57 622.20,110.59 622.70,110.61 623.20,110.63 623.70,110.65 624.20,110.67 624.70,110.69 625.20,110.71 625.70,110.73 626.20,110.75 626.70,110.76 627.20,110.78 627.70,110.80 628.20,110.82 628.70,110.83 629.20,110.85 629.70,110.87 630.20,110.88 630.70,110.90 631.20,110.92 631.70,110.93 632.20,110.95 632.70,110.96 633.20,110.97 633.70,110.99 634.20,111.00 634.70,111.02 635.20,111.03 635.70,111.04 636.20,111.05 636.70,111.07 637.20,111.08 637.70,111.09 638.20,111.10 638.70,111.11 639.20,111.12 639.70,111.13 640.20,111.14 640.70,111.15 641.20,111.16 641.70,111.17 642.20,111.18 642.70,111.19 643.20,111.20 643.70,111.21 644.20,111.21 644.70,111.22 645.20,111.23 645.70,111.24 646.20,111.24 646.70,111.25 647.20,111.26 647.70,111.26 648.20,111.27 648.70,111.28 649.20,111.28 649.70,111.29 650.20,111.29 650.70,111.30 651.20,111.30 651.70,111.31 652.20,111.31 652.70,111.32 653.20,111.32 653.70,111.32 654.20,111.33 654.70,111.33 655.20,111.34 655.70,111.34 656.20,111.34 656.70,111.35 657.20,111.35 657.70,111.35 658.20,111.36 658.70,111.36 659.20,111.36 659.70,111.37 660.20,111.37 660.70,111.37 661.20,111.37 661.70,111.38 662.20,111.38 662.70,111.38 663.20,111.38 663.70,111.38 664.20,111.39 664.70,111.39 665.20,111.39 665.70,111.39 666.20,111.39 666.70,111.40 667.20,111.40 667.70,111.40 668.20,111.40 668.70,111.40 669.20,111.40 669.70,111.41 670.20,111.41 670.70,111.41 671.20,111.41 671.70,111.41 672.20,111.41 672.70,111.41 673.20,111.41 673.70,111.42 674.20,111.42 674.70,111.42 675.20,111.42 675.70,111.42 676.20,111.42 676.70,111.42 677.20,111.42 677.70,111.42 678.20,111.42 678.70,111.43 679.20,111.43 679.70,111.43 680.20,111.43 680.70,111.43 681.20,111.43 681.70,111.43 682.20,111.43" fill="none" stroke="#fac6a4" stroke-width="1.3" stroke-linejoin="round" stroke-linecap="round" />
<polyline points="501.70,111.22 502.20,111.22 502.70,111.21 503.20,111.21 503.70,111.20 504.20,111.20 504.70,111.19 505.20,111.19 505.70,111.18 506.20,111.18 506.70,111.17 507.20,111.17 507.70,111.16 508.20,111.15 508.70,111.15 509.20,111.14 509.70,111.14 510.20,111.13 510.70,111.12 511.20,111.11 511.70,111.11 512.20,111.10 512.70,111.09 513.20,111.08 513.70,111.08 514.20,111.07 514.70,111.06 515.20,111.05 515.70,111.04 516.20,111.03 516.70,111.02 517.20,111.01 517.70,111.00 518.20,110.99 518.70,110.98 519.20,110.97 519.70,110.96 520.20,110.95 520.70,110.93 521.20,110.92 521.70,110.91 522.20,110.89 522.70,110.88 523.20,110.87 523.70,110.85 524.20,110.84 524.70,110.82 525.20,110.80 525.70,110.78 526.20,110.77 526.70,110.75 527.20,110.73 527.70,110.71 528.20,110.69 528.70,110.66 529.20,110.64 529.70,110.62 530.20,110.59 530.70,110.57 531.20,110.54 531.70,110.51 532.20,110.48 532.70,110.45 533.20,110.42 533.70,110.39 534.20,110.35 534.70,110.31 535.20,110.28 535.70,110.24 536.20,110.19 536.70,110.15 537.20,110.10 537.70,110.05 538.20,110.00 538.70,109.95 539.20,109.89 539.70,109.83 540.20,109.76 540.70,109.70 541.20,109.62 541.70,109.55 542.20,109.46 542.70,109.38 543.20,109.28 543.70,109.18 544.20,109.08 544.70,108.96 545.20,108.84 545.70,108.71 546.20,108.56 546.70,108.41 547.20,108.24 547.70,108.06 548.20,107.86 548.70,107.64 549.20,107.41 549.70,107.16 550.20,106.88 550.70,106.58 551.20,106.25 551.70,105.90 552.20,105.51 552.70,105.10 553.20,104.64 553.70,104.15 554.20,103.62 554.70,103.06 555.20,102.44 555.70,101.79 556.20,101.09 556.70,100.35 557.20,99.56 557.70,98.74 558.20,97.87 558.70,96.98 559.20,96.07 559.70,95.14 560.20,94.22 560.70,93.32 561.20,92.46 561.70,91.66 562.20,90.96 562.70,90.37 563.20,89.92 563.70,89.63 564.20,89.50 564.70,89.56 565.20,89.78 565.70,90.17 566.20,90.71 566.70,91.37 567.20,92.13 567.70,92.97 568.20,93.86 568.70,94.77 569.20,95.70 569.70,96.62 570.20,97.52 570.70,98.40 571.20,99.24 571.70,100.04 572.20,100.80 572.70,101.51 573.20,102.19 573.70,102.82 574.20,103.40 574.70,103.95 575.20,104.45 575.70,104.92 576.20,105.35 576.70,105.75 577.20,106.12 577.70,106.45 578.20,106.76 578.70,107.05 579.20,107.31 579.70,107.55 580.20,107.78 580.70,107.98 581.20,108.17 581.70,108.34 582.20,108.50 582.70,108.65 583.20,108.79 583.70,108.91 584.20,109.03 584.70,109.14 585.20,109.25 585.70,109.34 586.20,109.43 586.70,109.51 587.20,109.59 587.70,109.67 588.20,109.74 588.70,109.80 589.20,109.87 589.70,109.92 590.20,109.98 590.70,110.03 591.20,110.08 591.70,110.13 592.20,110.18 592.70,110.22 593.20,110.26 593.70,110.30 594.20,110.34 594.70,110.37 595.20,110.41 595.70,110.44 596.20,110.47 596.70,110.50 597.20,110.53 597.70,110.56 598.20,110.58 598.70,110.61 599.20,110.63 599.70,110.66 600.20,110.68 600.70,110.70 601.20,110.72 601.70,110.74 602.20,110.76 602.70,110.78 603.20,110.79 603.70,110.81 604.20,110.83 604.70,110.84 605.20,110.86 605.70,110.87 606.20,110.89 606.70,110.90 607.20,110.92 607.70,110.93 608.20,110.94 608.70,110.95 609.20,110.97 609.70,110.98 610.20,110.99 610.70,111.00 611.20,111.01 611.70,111.02 612.20,111.03 612.70,111.04 613.20,111.05 613.70,111.06 614.20,111.07 614.70,111.07 615.20,111.08 615.70,111.09 616.20,111.10 616.70,111.10 617.20,111.11 617.70,111.12 618.20,111.13 618.70,111.13 619.20,111.14 619.70,111.15 620.20,111.15 620.70,111.16 621.20,111.16 621.70,111.17 622.20,111.18 622.70,111.18 623.20,111.19 623.70,111.19 624.20,111.20 624.70,111.20 625.20,111.21 625.70,111.21 626.20,111.22 626.70,111.22 627.20,111.22 627.70,111.23 628.20,111.23 628.70,111.24 629.20,111.24 629.70,111.24 630.20,111.25 630.70,111.25 631.20,111.26 631.70,111.26 632.20,111.26 632.70,111.27 633.20,111.27 633.70,111.27 634.20,111.28 634.70,111.28 635.20,111.28 635.70,111.29 636.20,111.29 636.70,111.29 637.20,111.29 637.70,111.30 638.20,111.30 638.70,111.30 639.20,111.30 639.70,111.31 640.20,111.31 640.70,111.31 641.20,111.31 641.70,111.32 642.20,111.32 642.70,111.32 643.20,111.32 643.70,111.33 644.20,111.33 644.70,111.33 645.20,111.33 645.70,111.33 646.20,111.34 646.70,111.34 647.20,111.34 647.70,111.34 648.20,111.34 648.70,111.35 649.20,111.35 649.70,111.35 650.20,111.35 650.70,111.35 651.20,111.35 651.70,111.36 652.20,111.36 652.70,111.36 653.20,111.36 653.70,111.36 654.20,111.36 654.70,111.37 655.20,111.37 655.70,111.37 656.20,111.37 656.70,111.37 657.20,111.37 657.70,111.37 658.20,111.38 658.70,111.38 659.20,111.38 659.70,111.38 660.20,111.38 660.70,111.38 661.20,111.38 661.70,111.38 662.20,111.39 662.70,111.39 663.20,111.39 663.70,111.39 664.20,111.39 664.70,111.39 665.20,111.39 665.70,111.39 666.20,111.39 666.70,111.39 667.20,111.40 667.70,111.40 668.20,111.40 668.70,111.40 669.20,111.40 669.70,111.40 670.20,111.40 670.70,111.40 671.20,111.40 671.70,111.40 672.20,111.41 672.70,111.41 673.20,111.41 673.70,111.41 674.20,111.41 674.70,111.41 675.20,111.41 675.70,111.41 676.20,111.41 676.70,111.41 677.20,111.41 677.70,111.41 678.20,111.41 678.70,111.42 679.20,111.42 679.70,111.42 680.20,111.42 680.70,111.42 681.20,111.42 681.70,111.42 682.20,111.42" fill="none" stroke="#878769" stroke-width="1.3" stroke-linejoin="round" stroke-linecap="round" />
<polyline points="501.70,155.33 502.20,155.32 502.70,155.32 503.20,155.31 503.70,155.31 504.20,155.31 504.70,155.30 505.20,155.30 505.70,155.29 506.20,155.29 506.70,155.28 507.20,155.28 507.70,155.27 508.20,155.26 508.70,155.26 509.20,155.25 509.70,155.25 510.20,155.24 510.70,155.23 511.20,155.23 511.70,155.22 512.20,155.21 512.70,155.21 513.20,155.20 513.70,155.19 514.20,155.18 514.70,155.18 515.20,155.17 515.70,155.16 516.20,155.15 516.70,155.14 517.20,155.13 517.70,155.12 518.20,155.11 518.70,155.10 519.20,155.09 519.70,155.08 520.20,155.07 520.70,155.06 521.20,155.05 521.70,155.04 522.20,155.02 522.70,155.01 523.20,155.00 523.70,154.98 524.20,154.97 524.70,154.95 525.20,154.94 525.70,154.92 526.20,154.91 526.70,154.89 527.20,154.87 527.70,154.85 528.20,154.83 528.70,154.81 529.20,154.79 529.70,154.77 530.20,154.75 530.70,154.73 531.20,154.70 531.70,154.68 532.20,154.65 532.70,154.62 533.20,154.59 533.70,154.56 534.20,154.53 534.70,154.50 535.20,154.46 535.70,154.43 536.20,154.39 536.70,154.35 537.20,154.31 537.70,154.26 538.20,154.22 538.70,154.17 539.20,154.12 539.70,154.06 540.20,154.01 540.70,153.95 541.20,153.88 541.70,153.81 542.20,153.74 542.70,153.66 543.20,153.58 543.70,153.49 544.20,153.39 544.70,153.29 545.20,153.18 545.70,153.06 546.20,152.93 546.70,152.80 547.20,152.65 547.70,152.49 548.20,152.31 548.70,152.13 549.20,151.92 549.70,151.70 550.20,151.47 550.70,151.21 551.20,150.94 551.70,150.64 552.20,150.32 552.70,149.97 553.20,149.60 553.70,149.21 554.20,148.78 554.70,148.33 555.20,147.85 555.70,147.34 556.20,146.80 556.70,146.23 557.20,145.64 557.70,145.03 558.20,144.39 558.70,143.75 559.20,143.09 559.70,142.44 560.20,141.80 560.70,141.19 561.20,140.62 561.70,140.10 562.20,139.66 562.70,139.29 563.20,139.02 563.70,138.86 564.20,138.80 564.70,138.85 565.20,139.00 565.70,139.25 566.20,139.58 566.70,139.98 567.20,140.43 567.70,140.91 568.20,141.41 568.70,141.92 569.20,142.42 569.70,142.91 570.20,143.37 570.70,143.80 571.20,144.20 571.70,144.56 572.20,144.88 572.70,145.16 573.20,145.40 573.70,145.61 574.20,145.77 574.70,145.90 575.20,146.00 575.70,146.07 576.20,146.12 576.70,146.15 577.20,146.17 577.70,146.19 578.20,146.20 578.70,146.21 579.20,146.23 579.70,146.25 580.20,146.28 580.70,146.32 581.20,146.36 581.70,146.39 582.20,146.42 582.70,146.44 583.20,146.45 583.70,146.44 584.20,146.41 584.70,146.37 585.20,146.31 585.70,146.24 586.20,146.16 586.70,146.09 587.20,146.01 587.70,145.96 588.20,145.92 588.70,145.93 589.20,145.97 589.70,146.07 590.20,146.22 590.70,146.43 591.20,146.70 591.70,147.01 592.20,147.36 592.70,147.75 593.20,148.15 593.70,148.57 594.20,149.00 594.70,149.42 595.20,149.84 595.70,150.24 596.20,150.63 596.70,151.00 597.20,151.35 597.70,151.68 598.20,151.98 598.70,152.26 599.20,152.52 599.70,152.75 600.20,152.96 600.70,153.15 601.20,153.33 601.70,153.48 602.20,153.61 602.70,153.73 603.20,153.83 603.70,153.92 604.20,154.00 604.70,154.07 605.20,154.12 605.70,154.17 606.20,154.20 606.70,154.23 607.20,154.25 607.70,154.26 608.20,154.26 608.70,154.26 609.20,154.24 609.70,154.22 610.20,154.19 610.70,154.15 611.20,154.11 611.70,154.06 612.20,154.01 612.70,153.94 613.20,153.88 613.70,153.81 614.20,153.74 614.70,153.67 615.20,153.61 615.70,153.55 616.20,153.50 616.70,153.46 617.20,153.44 617.70,153.43 618.20,153.45 618.70,153.48 619.20,153.52 619.70,153.59 620.20,153.66 620.70,153.74 621.20,153.84 621.70,153.93 622.20,154.03 622.70,154.13 623.20,154.22 623.70,154.32 624.20,154.41 624.70,154.49 625.20,154.57 625.70,154.64 626.20,154.71 626.70,154.77 627.20,154.83 627.70,154.88 628.20,154.92 628.70,154.96 629.20,155.00 629.70,155.03 630.20,155.06 630.70,155.09 631.20,155.11 631.70,155.13 632.20,155.15 632.70,155.16 633.20,155.18 633.70,155.19 634.20,155.20 634.70,155.21 635.20,155.22 635.70,155.23 636.20,155.24 636.70,155.25 637.20,155.26 637.70,155.27 638.20,155.28 638.70,155.28 639.20,155.29 639.70,155.29 640.20,155.30 640.70,155.31 641.20,155.31 641.70,155.32 642.20,155.32 642.70,155.33 643.20,155.33 643.70,155.34 644.20,155.34 644.70,155.35 645.20,155.35 645.70,155.36 646.20,155.36 646.70,155.36 647.20,155.37 647.70,155.37 648.20,155.37 648.70,155.38 649.20,155.38 649.70,155.38 650.20,155.39 650.70,155.39 651.20,155.39 651.70,155.40 652.20,155.40 652.70,155.40 653.20,155.41 653.70,155.41 654.20,155.41 654.70,155.41 655.20,155.42 655.70,155.42 656.20,155.42 656.70,155.42 657.20,155.43 657.70,155.43 658.20,155.43 658.70,155.43 659.20,155.43 659.70,155.44 660.20,155.44 660.70,155.44 661.20,155.44 661.70,155.44 662.20,155.45 662.70,155.45 663.20,155.45 663.70,155.45 664.20,155.45 664.70,155.46 665.20,155.46 665.70,155.46 666.20,155.46 666.70,155.46 667.20,155.46 667.70,155.46 668.20,155.47 668.70,155.47 669.20,155.47 669.70,155.47 670.20,155.47 670.70,155.47 671.20,155.47 671.70,155.48 672.20,155.48 672.70,155.48 673.20,155.48 673.70,155.48 674.20,155.48 674.70,155.48 675.20,155.48 675.70,155.49 676.20,155.49 676.70,155.49 677.20,155.49 677.70,155.49 678.20,155.49 678.70,155.49 679.20,155.49 679.70,155.49 680.20,155.50 680.70,155.50 681.20,155.50 681.70,155.50 682.20,155.50" fill="none" stroke="#ff2424" stroke-width="1.6" stroke-linejoin="round" stroke-linecap="round" />
<polyline points="501.70,155.60 502.20,155.60 502.70,155.60 503.20,155.60 503.70,155.60 504.20,155.60 504.70,155.60 505.20,155.60 505.70,155.60 506.20,155.60 506.70,155.60 507.20,155.60 507.70,155.60 508.20,155.60 508.70,155.60 509.20,155.60 509.70,155.60 510.20,155.60 510.70,155.60 511.20,155.60 511.70,155.60 512.20,155.60 512.70,155.60 513.20,155.60 513.70,155.60 514.20,155.60 514.70,155.60 515.20,155.60 515.70,155.60 516.20,155.60 516.70,155.60 517.20,155.60 517.70,155.60 518.20,155.60 518.70,155.60 519.20,155.60 519.70,155.60 520.20,155.60 520.70,155.60 521.20,155.60 521.70,155.60 522.20,155.60 522.70,155.60 523.20,155.60 523.70,155.60 524.20,155.60 524.70,155.60 525.20,155.60 525.70,155.60 526.20,155.60 526.70,155.60 527.20,155.60 527.70,155.60 528.20,155.60 528.70,155.60 529.20,155.60 529.70,155.60 530.20,155.60 530.70,155.60 531.20,155.60 531.70,155.60 532.20,155.60 532.70,155.60 533.20,155.60 533.70,155.60 534.20,155.60 534.70,155.60 535.20,155.60 535.70,155.60 536.20,155.60 536.70,155.60 537.20,155.60 537.70,155.60 538.20,155.60 538.70,155.60 539.20,155.60 539.70,155.60 540.20,155.60 540.70,155.60 541.20,155.60 541.70,155.60 542.20,155.60 542.70,155.59 543.20,155.59 543.70,155.59 544.20,155.59 544.70,155.59 545.20,155.59 545.70,155.59 546.20,155.59 546.70,155.59 547.20,155.59 547.70,155.59 548.20,155.59 548.70,155.59 549.20,155.59 549.70,155.59 550.20,155.59 550.70,155.59 551.20,155.59 551.70,155.59 552.20,155.59 552.70,155.59 553.20,155.59 553.70,155.59 554.20,155.59 554.70,155.59 555.20,155.59 555.70,155.59 556.20,155.59 556.70,155.59 557.20,155.59 557.70,155.59 558.20,155.59 558.70,155.59 559.20,155.59 559.70,155.59 560.20,155.59 560.70,155.59 561.20,155.59 561.70,155.59 562.20,155.59 562.70,155.59 563.20,155.59 563.70,155.59 564.20,155.59 564.70,155.59 565.20,155.59 565.70,155.59 566.20,155.59 566.70,155.59 567.20,155.59 567.70,155.59 568.20,155.59 568.70,155.59 569.20,155.59 569.70,155.59 570.20,155.59 570.70,155.59 571.20,155.59 571.70,155.59 572.20,155.59 572.70,155.59 573.20,155.59 573.70,155.59 574.20,155.59 574.70,155.58 575.20,155.58 575.70,155.58 576.20,155.58 576.70,155.58 577.20,155.58 577.70,155.58 578.20,155.58 578.70,155.58 579.20,155.58 579.70,155.58 580.20,155.58 580.70,155.58 581.20,155.58 581.70,155.58 582.20,155.58 582.70,155.58 583.20,155.58 583.70,155.58 584.20,155.58 584.70,155.57 585.20,155.57 585.70,155.57 586.20,155.57 586.70,155.57 587.20,155.57 587.70,155.57 588.20,155.57 588.70,155.57 589.20,155.57 589.70,155.57 590.20,155.56 590.70,155.56 591.20,155.56 591.70,155.56 592.20,155.56 592.70,155.56 593.20,155.56 593.70,155.55 594.20,155.55 594.70,155.55 595.20,155.55 595.70,155.55 596.20,155.54 596.70,155.54 597.20,155.54 597.70,155.54 598.20,155.53 598.70,155.53 599.20,155.53 599.70,155.52 600.20,155.52 600.70,155.51 601.20,155.51 601.70,155.50 602.20,155.49 602.70,155.48 603.20,155.48 603.70,155.46 604.20,155.45 604.70,155.44 605.20,155.42 605.70,155.40 606.20,155.38 606.70,155.36 607.20,155.33 607.70,155.29 608.20,155.26 608.70,155.21 609.20,155.17 609.70,155.11 610.20,155.05 610.70,154.99 611.20,154.92 611.70,154.85 612.20,154.77 612.70,154.68 613.20,154.60 613.70,154.51 614.20,154.42 614.70,154.34 615.20,154.26 615.70,154.18 616.20,154.11 616.70,154.06 617.20,154.02 617.70,154.00 618.20,154.00 618.70,154.02 619.20,154.05 619.70,154.10 620.20,154.17 620.70,154.24 621.20,154.32 621.70,154.41 622.20,154.49 622.70,154.58 623.20,154.67 623.70,154.75 624.20,154.83 624.70,154.91 625.20,154.98 625.70,155.04 626.20,155.10 626.70,155.16 627.20,155.20 627.70,155.25 628.20,155.29 628.70,155.32 629.20,155.35 629.70,155.38 630.20,155.40 630.70,155.42 631.20,155.44 631.70,155.45 632.20,155.46 632.70,155.47 633.20,155.48 633.70,155.49 634.20,155.50 634.70,155.50 635.20,155.51 635.70,155.52 636.20,155.52 636.70,155.52 637.20,155.53 637.70,155.53 638.20,155.53 638.70,155.54 639.20,155.54 639.70,155.54 640.20,155.55 640.70,155.55 641.20,155.55 641.70,155.55 642.20,155.55 642.70,155.56 643.20,155.56 643.70,155.56 644.20,155.56 644.70,155.56 645.20,155.56 645.70,155.56 646.20,155.57 646.70,155.57 647.20,155.57 647.70,155.57 648.20,155.57 648.70,155.57 649.20,155.57 649.70,155.57 650.20,155.57 650.70,155.57 651.20,155.57 651.70,155.58 652.20,155.58 652.70,155.58 653.20,155.58 653.70,155.58 654.20,155.58 654.70,155.58 655.20,155.58 655.70,155.58 656.20,155.58 656.70,155.58 657.20,155.58 657.70,155.58 658.20,155.58 658.70,155.58 659.20,155.58 659.70,155.58 660.20,155.58 660.70,155.58 661.20,155.58 661.70,155.59 662.20,155.59 662.70,155.59 663.20,155.59 663.70,155.59 664.20,155.59 664.70,155.59 665.20,155.59 665.70,155.59 666.20,155.59 666.70,155.59 667.20,155.59 667.70,155.59 668.20,155.59 668.70,155.59 669.20,155.59 669.70,155.59 670.20,155.59 670.70,155.59 671.20,155.59 671.70,155.59 672.20,155.59 672.70,155.59 673.20,155.59 673.70,155.59 674.20,155.59 674.70,155.59 675.20,155.59 675.70,155.59 676.20,155.59 676.70,155.59 677.20,155.59 677.70,155.59 678.20,155.59 678.70,155.59 679.20,155.59 679.70,155.59 680.20,155.59 680.70,155.59 681.20,155.59 681.70,155.59 682.20,155.59" fill="none" stroke="#52cfb3" stroke-width="1.3" stroke-linejoin="round" stroke-linecap="round" />
<polyline points="501.70,155.58 502.20,155.58 502.70,155.58 503.20,155.58 503.70,155.58 504.20,155.58 504.70,155.58 505.20,155.58 505.70,155.58 506.20,155.58 506.70,155.58 507.20,155.58 507.70,155.58 508.20,155.58 508.70,155.58 509.20,155.58 509.70,155.58 510.20,155.58 510.70,155.58 511.20,155.58 511.70,155.58 512.20,155.58 512.70,155.58 513.20,155.58 513.70,155.57 514.20,155.57 514.70,155.57 515.20,155.57 515.70,155.57 516.20,155.57 516.70,155.57 517.20,155.57 517.70,155.57 518.20,155.57 518.70,155.57 519.20,155.57 519.70,155.57 520.20,155.57 520.70,155.57 521.20,155.57 521.70,155.57 522.20,155.57 522.70,155.57 523.20,155.57 523.70,155.57 524.20,155.57 524.70,155.57 525.20,155.57 525.70,155.56 526.20,155.56 526.70,155.56 527.20,155.56 527.70,155.56 528.20,155.56 528.70,155.56 529.20,155.56 529.70,155.56 530.20,155.56 530.70,155.56 531.20,155.56 531.70,155.56 532.20,155.56 532.70,155.56 533.20,155.55 533.70,155.55 534.20,155.55 534.70,155.55 535.20,155.55 535.70,155.55 536.20,155.55 536.70,155.55 537.20,155.55 537.70,155.55 538.20,155.55 538.70,155.54 539.20,155.54 539.70,155.54 540.20,155.54 540.70,155.54 541.20,155.54 541.70,155.54 542.20,155.54 542.70,155.54 543.20,155.53 543.70,155.53 544.20,155.53 544.70,155.53 545.20,155.53 545.70,155.53 546.20,155.52 546.70,155.52 547.20,155.52 547.70,155.52 548.20,155.52 548.70,155.52 549.20,155.51 549.70,155.51 550.20,155.51 550.70,155.51 551.20,155.50 551.70,155.50 552.20,155.50 552.70,155.50 553.20,155.49 553.70,155.49 554.20,155.49 554.70,155.49 555.20,155.48 555.70,155.48 556.20,155.48 556.70,155.47 557.20,155.47 557.70,155.46 558.20,155.46 558.70,155.46 559.20,155.45 559.70,155.45 560.20,155.44 560.70,155.44 561.20,155.43 561.70,155.42 562.20,155.42 562.70,155.41 563.20,155.41 563.70,155.40 564.20,155.39 564.70,155.38 565.20,155.37 565.70,155.37 566.20,155.36 566.70,155.35 567.20,155.34 567.70,155.32 568.20,155.31 568.70,155.30 569.20,155.29 569.70,155.27 570.20,155.25 570.70,155.24 571.20,155.22 571.70,155.19 572.20,155.17 572.70,155.14 573.20,155.11 573.70,155.07 574.20,155.04 574.70,154.99 575.20,154.94 575.70,154.88 576.20,154.81 576.70,154.73 577.20,154.64 577.70,154.54 578.20,154.43 578.70,154.30 579.20,154.15 579.70,153.99 580.20,153.81 580.70,153.60 581.20,153.38 581.70,153.14 582.20,152.88 582.70,152.59 583.20,152.29 583.70,151.97 584.20,151.64 584.70,151.29 585.20,150.94 585.70,150.58 586.20,150.23 586.70,149.89 587.20,149.57 587.70,149.28 588.20,149.03 588.70,148.83 589.20,148.69 589.70,148.61 590.20,148.61 590.70,148.67 591.20,148.80 591.70,148.99 592.20,149.23 592.70,149.51 593.20,149.82 593.70,150.16 594.20,150.51 594.70,150.87 595.20,151.22 595.70,151.57 596.20,151.90 596.70,152.23 597.20,152.53 597.70,152.82 598.20,153.09 598.70,153.33 599.20,153.56 599.70,153.77 600.20,153.95 600.70,154.12 601.20,154.27 601.70,154.40 602.20,154.52 602.70,154.63 603.20,154.72 603.70,154.80 604.20,154.87 604.70,154.93 605.20,154.98 605.70,155.03 606.20,155.07 606.70,155.10 607.20,155.14 607.70,155.16 608.20,155.19 608.70,155.21 609.20,155.23 609.70,155.25 610.20,155.27 610.70,155.28 611.20,155.30 611.70,155.31 612.20,155.32 612.70,155.33 613.20,155.34 613.70,155.35 614.20,155.36 614.70,155.37 615.20,155.38 615.70,155.39 616.20,155.40 616.70,155.40 617.20,155.41 617.70,155.42 618.20,155.42 618.70,155.43 619.20,155.43 619.70,155.44 620.20,155.45 620.70,155.45 621.20,155.45 621.70,155.46 622.20,155.46 622.70,155.47 623.20,155.47 623.70,155.47 624.20,155.48 624.70,155.48 625.20,155.48 625.70,155.49 626.20,155.49 626.70,155.49 627.20,155.50 627.70,155.50 628.20,155.50 628.70,155.50 629.20,155.51 629.70,155.51 630.20,155.51 630.70,155.51 631.20,155.51 631.70,155.52 632.20,155.52 632.70,155.52 633.20,155.52 633.70,155.52 634.20,155.53 634.70,155.53 635.20,155.53 635.70,155.53 636.20,155.53 636.70,155.53 637.20,155.53 637.70,155.54 638.20,155.54 638.70,155.54 639.20,155.54 639.70,155.54 640.20,155.54 640.70,155.54 641.20,155.54 641.70,155.55 642.20,155.55 642.70,155.55 643.20,155.55 643.70,155.55 644.20,155.55 644.70,155.55 645.20,155.55 645.70,155.55 646.20,155.55 646.70,155.55 647.20,155.56 647.70,155.56 648.20,155.56 648.70,155.56 649.20,155.56 649.70,155.56 650.20,155.56 650.70,155.56 651.20,155.56 651.70,155.56 652.20,155.56 652.70,155.56 653.20,155.56 653.70,155.56 654.20,155.56 654.70,155.57 655.20,155.57 655.70,155.57 656.20,155.57 656.70,155.57 657.20,155.57 657.70,155.57 658.20,155.57 658.70,155.57 659.20,155.57 659.70,155.57 660.20,155.57 660.70,155.57 661.20,155.57 661.70,155.57 662.20,155.57 662.70,155.57 663.20,155.57 663.70,155.57 664.20,155.57 664.70,155.57 665.20,155.57 665.70,155.57 666.20,155.57 666.70,155.58 667.20,155.58 667.70,155.58 668.20,155.58 668.70,155.58 669.20,155.58 669.70,155.58 670.20,155.58 670.70,155.58 671.20,155.58 671.70,155.58 672.20,155.58 672.70,155.58 673.20,155.58 673.70,155.58 674.20,155.58 674.70,155.58 675.20,155.58 675.70,155.58 676.20,155.58 676.70,155.58 677.20,155.58 677.70,155.58 678.20,155.58 678.70,155.58 679.20,155.58 679.70,155.58 680.20,155.58 680.70,155.58 681.20,155.58 681.70,155.58 682.20,155.58" fill="none" stroke="#bfe4ad" stroke-width="1.3" stroke-linejoin="round" stroke-linecap="round" />
<polyline points="501.70,155.58 502.20,155.58 502.70,155.58 503.20,155.58 503.70,155.58 504.20,155.58 504.70,155.58 505.20,155.58 505.70,155.58 506.20,155.58 506.70,155.58 507.20,155.58 507.70,155.58 508.20,155.58 508.70,155.58 509.20,155.58 509.70,155.58 510.20,155.58 510.70,155.58 511.20,155.58 511.70,155.58 512.20,155.58 512.70,155.57 513.20,155.57 513.70,155.57 514.20,155.57 514.70,155.57 515.20,155.57 515.70,155.57 516.20,155.57 516.70,155.57 517.20,155.57 517.70,155.57 518.20,155.57 518.70,155.57 519.20,155.57 519.70,155.57 520.20,155.57 520.70,155.57 521.20,155.57 521.70,155.57 522.20,155.57 522.70,155.57 523.20,155.56 523.70,155.56 524.20,155.56 524.70,155.56 525.20,155.56 525.70,155.56 526.20,155.56 526.70,155.56 527.20,155.56 527.70,155.56 528.20,155.56 528.70,155.56 529.20,155.56 529.70,155.56 530.20,155.55 530.70,155.55 531.20,155.55 531.70,155.55 532.20,155.55 532.70,155.55 533.20,155.55 533.70,155.55 534.20,155.55 534.70,155.54 535.20,155.54 535.70,155.54 536.20,155.54 536.70,155.54 537.20,155.54 537.70,155.54 538.20,155.54 538.70,155.53 539.20,155.53 539.70,155.53 540.20,155.53 540.70,155.53 541.20,155.53 541.70,155.52 542.20,155.52 542.70,155.52 543.20,155.52 543.70,155.51 544.20,155.51 544.70,155.51 545.20,155.51 545.70,155.50 546.20,155.50 546.70,155.50 547.20,155.50 547.70,155.49 548.20,155.49 548.70,155.49 549.20,155.48 549.70,155.48 550.20,155.47 550.70,155.47 551.20,155.47 551.70,155.46 552.20,155.46 552.70,155.45 553.20,155.45 553.70,155.44 554.20,155.43 554.70,155.43 555.20,155.42 555.70,155.41 556.20,155.41 556.70,155.40 557.20,155.39 557.70,155.38 558.20,155.37 558.70,155.36 559.20,155.35 559.70,155.33 560.20,155.32 560.70,155.30 561.20,155.28 561.70,155.26 562.20,155.24 562.70,155.21 563.20,155.18 563.70,155.15 564.20,155.11 564.70,155.07 565.20,155.02 565.70,154.96 566.20,154.90 566.70,154.83 567.20,154.75 567.70,154.66 568.20,154.56 568.70,154.46 569.20,154.34 569.70,154.20 570.20,154.06 570.70,153.91 571.20,153.74 571.70,153.56 572.20,153.38 572.70,153.18 573.20,152.98 573.70,152.76 574.20,152.55 574.70,152.33 575.20,152.12 575.70,151.91 576.20,151.71 576.70,151.52 577.20,151.36 577.70,151.22 578.20,151.11 578.70,151.04 579.20,151.00 579.70,151.01 580.20,151.05 580.70,151.13 581.20,151.25 581.70,151.39 582.20,151.56 582.70,151.75 583.20,151.95 583.70,152.16 584.20,152.38 584.70,152.59 585.20,152.81 585.70,153.02 586.20,153.22 586.70,153.42 587.20,153.60 587.70,153.78 588.20,153.94 588.70,154.09 589.20,154.23 589.70,154.36 590.20,154.48 590.70,154.58 591.20,154.68 591.70,154.77 592.20,154.84 592.70,154.91 593.20,154.97 593.70,155.03 594.20,155.08 594.70,155.12 595.20,155.16 595.70,155.19 596.20,155.22 596.70,155.24 597.20,155.27 597.70,155.29 598.20,155.30 598.70,155.32 599.20,155.34 599.70,155.35 600.20,155.36 600.70,155.37 601.20,155.38 601.70,155.39 602.20,155.40 602.70,155.41 603.20,155.42 603.70,155.42 604.20,155.43 604.70,155.44 605.20,155.44 605.70,155.45 606.20,155.45 606.70,155.46 607.20,155.46 607.70,155.47 608.20,155.47 608.70,155.48 609.20,155.48 609.70,155.48 610.20,155.49 610.70,155.49 611.20,155.49 611.70,155.50 612.20,155.50 612.70,155.50 613.20,155.51 613.70,155.51 614.20,155.51 614.70,155.51 615.20,155.52 615.70,155.52 616.20,155.52 616.70,155.52 617.20,155.52 617.70,155.53 618.20,155.53 618.70,155.53 619.20,155.53 619.70,155.53 620.20,155.53 620.70,155.54 621.20,155.54 621.70,155.54 622.20,155.54 622.70,155.54 623.20,155.54 623.70,155.54 624.20,155.55 624.70,155.55 625.20,155.55 625.70,155.55 626.20,155.55 626.70,155.55 627.20,155.55 627.70,155.55 628.20,155.55 628.70,155.55 629.20,155.56 629.70,155.56 630.20,155.56 630.70,155.56 631.20,155.56 631.70,155.56 632.20,155.56 632.70,155.56 633.20,155.56 633.70,155.56 634.20,155.56 634.70,155.56 635.20,155.56 635.70,155.56 636.20,155.57 636.70,155.57 637.20,155.57 637.70,155.57 638.20,155.57 638.70,155.57 639.20,155.57 639.70,155.57 640.20,155.57 640.70,155.57 641.20,155.57 641.70,155.57 642.20,155.57 642.70,155.57 643.20,155.57 643.70,155.57 644.20,155.57 644.70,155.57 645.20,155.57 645.70,155.57 646.20,155.58 646.70,155.58 647.20,155.58 647.70,155.58 648.20,155.58 648.70,155.58 649.20,155.58 649.70,155.58 650.20,155.58 650.70,155.58 651.20,155.58 651.70,155.58 652.20,155.58 652.70,155.58 653.20,155.58 653.70,155.58 654.20,155.58 654.70,155.58 655.20,155.58 655.70,155.58 656.20,155.58 656.70,155.58 657.20,155.58 657.70,155.58 658.20,155.58 658.70,155.58 659.20,155.58 659.70,155.58 660.20,155.58 660.70,155.58 661.20,155.58 661.70,155.58 662.20,155.58 662.70,155.58 663.20,155.58 663.70,155.58 664.20,155.58 664.70,155.58 665.20,155.58 665.70,155.58 666.20,155.59 666.70,155.59 667.20,155.59 667.70,155.59 668.20,155.59 668.70,155.59 669.20,155.59 669.70,155.59 670.20,155.59 670.70,155.59 671.20,155.59 671.70,155.59 672.20,155.59 672.70,155.59 673.20,155.59 673.70,155.59 674.20,155.59 674.70,155.59 675.20,155.59 675.70,155.59 676.20,155.59 676.70,155.59 677.20,155.59 677.70,155.59 678.20,155.59 678.70,155.59 679.20,155.59 679.70,155.59 680.20,155.59 680.70,155.59 681.20,155.59 681.70,155.59 682.20,155.59" fill="none" stroke="#fac6a4" stroke-width="1.3" stroke-linejoin="round" stroke-linecap="round" />
<polyline points="501.70,155.37 502.20,155.36 502.70,155.36 503.20,155.36 503.70,155.35 504.20,155.35 504.70,155.34 505.20,155.34 505.70,155.33 506.20,155.33 506.70,155.33 507.20,155.32 507.70,155.32 508.20,155.31 508.70,155.31 509.20,155.30 509.70,155.29 510.20,155.29 510.70,155.28 511.20,155.28 511.70,155.27 512.20,155.27 512.70,155.26 513.20,155.25 513.70,155.25 514.20,155.24 514.70,155.23 515.20,155.22 515.70,155.22 516.20,155.21 516.70,155.20 517.20,155.19 517.70,155.18 518.20,155.17 518.70,155.17 519.20,155.16 519.70,155.15 520.20,155.14 520.70,155.13 521.20,155.12 521.70,155.10 522.20,155.09 522.70,155.08 523.20,155.07 523.70,155.06 524.20,155.04 524.70,155.03 525.20,155.01 525.70,155.00 526.20,154.98 526.70,154.97 527.20,154.95 527.70,154.94 528.20,154.92 528.70,154.90 529.20,154.88 529.70,154.86 530.20,154.84 530.70,154.82 531.20,154.79 531.70,154.77 532.20,154.75 532.70,154.72 533.20,154.69 533.70,154.67 534.20,154.64 534.70,154.61 535.20,154.57 535.70,154.54 536.20,154.50 536.70,154.47 537.20,154.43 537.70,154.39 538.20,154.34 538.70,154.30 539.20,154.25 539.70,154.20 540.20,154.14 540.70,154.08 541.20,154.02 541.70,153.96 542.20,153.89 542.70,153.81 543.20,153.73 543.70,153.65 544.20,153.55 544.70,153.46 545.20,153.35 545.70,153.24 546.20,153.11 546.70,152.98 547.20,152.84 547.70,152.68 548.20,152.51 548.70,152.33 549.20,152.13 549.70,151.92 550.20,151.69 550.70,151.44 551.20,151.17 551.70,150.88 552.20,150.57 552.70,150.23 553.20,149.87 553.70,149.48 554.20,149.07 554.70,148.62 555.20,148.15 555.70,147.65 556.20,147.13 556.70,146.57 557.20,145.99 557.70,145.39 558.20,144.77 558.70,144.14 559.20,143.50 559.70,142.87 560.20,142.25 560.70,141.66 561.20,141.12 561.70,140.63 562.20,140.21 562.70,139.88 563.20,139.64 563.70,139.52 564.20,139.51 564.70,139.61 565.20,139.82 565.70,140.13 566.20,140.54 566.70,141.01 567.20,141.55 567.70,142.13 568.20,142.75 568.70,143.38 569.20,144.01 569.70,144.65 570.20,145.27 570.70,145.87 571.20,146.46 571.70,147.02 572.20,147.55 572.70,148.06 573.20,148.53 573.70,148.98 574.20,149.40 574.70,149.79 575.20,150.16 575.70,150.50 576.20,150.82 576.70,151.12 577.20,151.39 577.70,151.64 578.20,151.88 578.70,152.09 579.20,152.29 579.70,152.48 580.20,152.65 580.70,152.81 581.20,152.95 581.70,153.09 582.20,153.21 582.70,153.33 583.20,153.43 583.70,153.53 584.20,153.63 584.70,153.71 585.20,153.80 585.70,153.87 586.20,153.94 586.70,154.01 587.20,154.07 587.70,154.13 588.20,154.18 588.70,154.24 589.20,154.29 589.70,154.33 590.20,154.38 590.70,154.42 591.20,154.46 591.70,154.50 592.20,154.53 592.70,154.57 593.20,154.60 593.70,154.63 594.20,154.66 594.70,154.69 595.20,154.72 595.70,154.74 596.20,154.77 596.70,154.79 597.20,154.81 597.70,154.84 598.20,154.86 598.70,154.88 599.20,154.90 599.70,154.91 600.20,154.93 600.70,154.95 601.20,154.97 601.70,154.98 602.20,155.00 602.70,155.01 603.20,155.03 603.70,155.04 604.20,155.05 604.70,155.07 605.20,155.08 605.70,155.09 606.20,155.10 606.70,155.11 607.20,155.12 607.70,155.13 608.20,155.14 608.70,155.15 609.20,155.16 609.70,155.17 610.20,155.18 610.70,155.19 611.20,155.20 611.70,155.21 612.20,155.22 612.70,155.22 613.20,155.23 613.70,155.24 614.20,155.24 614.70,155.25 615.20,155.26 615.70,155.26 616.20,155.27 616.70,155.28 617.20,155.28 617.70,155.29 618.20,155.29 618.70,155.30 619.20,155.30 619.70,155.31 620.20,155.31 620.70,155.32 621.20,155.32 621.70,155.33 622.20,155.33 622.70,155.34 623.20,155.34 623.70,155.35 624.20,155.35 624.70,155.35 625.20,155.36 625.70,155.36 626.20,155.37 626.70,155.37 627.20,155.37 627.70,155.38 628.20,155.38 628.70,155.38 629.20,155.39 629.70,155.39 630.20,155.39 630.70,155.40 631.20,155.40 631.70,155.40 632.20,155.40 632.70,155.41 633.20,155.41 633.70,155.41 634.20,155.42 634.70,155.42 635.20,155.42 635.70,155.42 636.20,155.43 636.70,155.43 637.20,155.43 637.70,155.43 638.20,155.43 638.70,155.44 639.20,155.44 639.70,155.44 640.20,155.44 640.70,155.45 641.20,155.45 641.70,155.45 642.20,155.45 642.70,155.45 643.20,155.45 643.70,155.46 644.20,155.46 644.70,155.46 645.20,155.46 645.70,155.46 646.20,155.47 646.70,155.47 647.20,155.47 647.70,155.47 648.20,155.47 648.70,155.47 649.20,155.47 649.70,155.48 650.20,155.48 650.70,155.48 651.20,155.48 651.70,155.48 652.20,155.48 652.70,155.48 653.20,155.49 653.70,155.49 654.20,155.49 654.70,155.49 655.20,155.49 655.70,155.49 656.20,155.49 656.70,155.49 657.20,155.49 657.70,155.50 658.20,155.50 658.70,155.50 659.20,155.50 659.70,155.50 660.20,155.50 660.70,155.50 661.20,155.50 661.70,155.50 662.20,155.51 662.70,155.51 663.20,155.51 663.70,155.51 664.20,155.51 664.70,155.51 665.20,155.51 665.70,155.51 666.20,155.51 666.70,155.51 667.20,155.51 667.70,155.51 668.20,155.52 668.70,155.52 669.20,155.52 669.70,155.52 670.20,155.52 670.70,155.52 671.20,155.52 671.70,155.52 672.20,155.52 672.70,155.52 673.20,155.52 673.70,155.52 674.20,155.52 674.70,155.53 675.20,155.53 675.70,155.53 676.20,155.53 676.70,155.53 677.20,155.53 677.70,155.53 678.20,155.53 678.70,155.53 679.20,155.53 679.70,155.53 680.20,155.53 680.70,155.53 681.20,155.53 681.70,155.53 682.20,155.53" fill="none" stroke="#878769" stroke-width="1.3" stroke-linejoin="round" stroke-linecap="round" />
<polyline points="501.70,198.26 502.20,198.25 502.70,198.25 503.20,198.25 503.70,198.25 504.20,198.25 504.70,198.24 505.20,198.24 505.70,198.24 506.20,198.24 506.70,198.23 507.20,198.23 507.70,198.23 508.20,198.23 508.70,198.22 509.20,198.22 509.70,198.22 510.20,198.22 510.70,198.21 511.20,198.21 511.70,198.21 512.20,198.20 512.70,198.20 513.20,198.20 513.70,198.19 514.20,198.19 514.70,198.19 515.20,198.18 515.70,198.18 516.20,198.17 516.70,198.17 517.20,198.17 517.70,198.16 518.20,198.16 518.70,198.15 519.20,198.15 519.70,198.14 520.20,198.14 520.70,198.13 521.20,198.13 521.70,198.12 522.20,198.12 522.70,198.11 523.20,198.11 523.70,198.10 524.20,198.10 524.70,198.09 525.20,198.08 525.70,198.08 526.20,198.07 526.70,198.06 527.20,198.05 527.70,198.05 528.20,198.04 528.70,198.03 529.20,198.02 529.70,198.01 530.20,198.00 530.70,197.99 531.20,197.98 531.70,197.97 532.20,197.96 532.70,197.95 533.20,197.94 533.70,197.93 534.20,197.92 534.70,197.90 535.20,197.89 535.70,197.87 536.20,197.86 536.70,197.84 537.20,197.83 537.70,197.81 538.20,197.79 538.70,197.77 539.20,197.75 539.70,197.73 540.20,197.71 540.70,197.69 541.20,197.67 541.70,197.64 542.20,197.61 542.70,197.58 543.20,197.55 543.70,197.52 544.20,197.49 544.70,197.45 545.20,197.41 545.70,197.37 546.20,197.33 546.70,197.28 547.20,197.23 547.70,197.17 548.20,197.11 548.70,197.04 549.20,196.97 549.70,196.90 550.20,196.81 550.70,196.72 551.20,196.62 551.70,196.51 552.20,196.39 552.70,196.26 553.20,196.12 553.70,195.97 554.20,195.80 554.70,195.62 555.20,195.43 555.70,195.22 556.20,194.99 556.70,194.75 557.20,194.49 557.70,194.22 558.20,193.93 558.70,193.63 559.20,193.32 559.70,193.01 560.20,192.69 560.70,192.38 561.20,192.09 561.70,191.81 562.20,191.57 562.70,191.36 563.20,191.19 563.70,191.07 564.20,191.00 564.70,190.98 565.20,190.99 565.70,191.04 566.20,191.10 566.70,191.18 567.20,191.26 567.70,191.34 568.20,191.40 568.70,191.44 569.20,191.45 569.70,191.43 570.20,191.38 570.70,191.30 571.20,191.18 571.70,191.03 572.20,190.84 572.70,190.61 573.20,190.36 573.70,190.07 574.20,189.76 574.70,189.42 575.20,189.06 575.70,188.68 576.20,188.29 576.70,187.89 577.20,187.49 577.70,187.10 578.20,186.72 578.70,186.36 579.20,186.03 579.70,185.74 580.20,185.49 580.70,185.29 581.20,185.14 581.70,185.06 582.20,185.04 582.70,185.09 583.20,185.19 583.70,185.35 584.20,185.55 584.70,185.80 585.20,186.08 585.70,186.38 586.20,186.71 586.70,187.03 587.20,187.37 587.70,187.69 588.20,188.01 588.70,188.31 589.20,188.60 589.70,188.87 590.20,189.12 590.70,189.35 591.20,189.57 591.70,189.78 592.20,189.98 592.70,190.17 593.20,190.37 593.70,190.58 594.20,190.80 594.70,191.04 595.20,191.30 595.70,191.57 596.20,191.85 596.70,192.14 597.20,192.43 597.70,192.72 598.20,192.99 598.70,193.25 599.20,193.50 599.70,193.73 600.20,193.94 600.70,194.12 601.20,194.28 601.70,194.43 602.20,194.55 602.70,194.65 603.20,194.74 603.70,194.81 604.20,194.86 604.70,194.91 605.20,194.94 605.70,194.98 606.20,195.01 606.70,195.04 607.20,195.07 607.70,195.11 608.20,195.16 608.70,195.22 609.20,195.28 609.70,195.36 610.20,195.44 610.70,195.53 611.20,195.63 611.70,195.73 612.20,195.84 612.70,195.95 613.20,196.07 613.70,196.18 614.20,196.29 614.70,196.40 615.20,196.51 615.70,196.61 616.20,196.72 616.70,196.81 617.20,196.91 617.70,197.00 618.20,197.08 618.70,197.16 619.20,197.23 619.70,197.30 620.20,197.37 620.70,197.43 621.20,197.48 621.70,197.53 622.20,197.58 622.70,197.62 623.20,197.66 623.70,197.70 624.20,197.73 624.70,197.76 625.20,197.79 625.70,197.82 626.20,197.84 626.70,197.86 627.20,197.88 627.70,197.90 628.20,197.92 628.70,197.94 629.20,197.95 629.70,197.96 630.20,197.98 630.70,197.99 631.20,198.00 631.70,198.01 632.20,198.02 632.70,198.03 633.20,198.04 633.70,198.05 634.20,198.06 634.70,198.07 635.20,198.07 635.70,198.08 636.20,198.09 636.70,198.09 637.20,198.10 637.70,198.11 638.20,198.11 638.70,198.12 639.20,198.13 639.70,198.13 640.20,198.14 640.70,198.14 641.20,198.15 641.70,198.15 642.20,198.16 642.70,198.16 643.20,198.16 643.70,198.17 644.20,198.17 644.70,198.18 645.20,198.18 645.70,198.19 646.20,198.19 646.70,198.19 647.20,198.20 647.70,198.20 648.20,198.20 648.70,198.21 649.20,198.21 649.70,198.21 650.20,198.22 650.70,198.22 651.20,198.22 651.70,198.22 652.20,198.23 652.70,198.23 653.20,198.23 653.70,198.23 654.20,198.24 654.70,198.24 655.20,198.24 655.70,198.24 656.20,198.25 656.70,198.25 657.20,198.25 657.70,198.25 658.20,198.25 658.70,198.26 659.20,198.26 659.70,198.26 660.20,198.26 660.70,198.26 661.20,198.27 661.70,198.27 662.20,198.27 662.70,198.27 663.20,198.27 663.70,198.27 664.20,198.28 664.70,198.28 665.20,198.28 665.70,198.28 666.20,198.28 666.70,198.28 667.20,198.29 667.70,198.29 668.20,198.29 668.70,198.29 669.20,198.29 669.70,198.29 670.20,198.29 670.70,198.29 671.20,198.30 671.70,198.30 672.20,198.30 672.70,198.30 673.20,198.30 673.70,198.30 674.20,198.30 674.70,198.30 675.20,198.30 675.70,198.31 676.20,198.31 676.70,198.31 677.20,198.31 677.70,198.31 678.20,198.31 678.70,198.31 679.20,198.31 679.70,198.31 680.20,198.31 680.70,198.32 681.20,198.32 681.70,198.32 682.20,198.32" fill="none" stroke="#ff2424" stroke-width="1.6" stroke-linejoin="round" stroke-linecap="round" />
<polyline points="501.70,198.39 502.20,198.39 502.70,198.39 503.20,198.39 503.70,198.39 504.20,198.39 504.70,198.39 505.20,198.39 505.70,198.39 506.20,198.39 506.70,198.39 507.20,198.39 507.70,198.39 508.20,198.39 508.70,198.39 509.20,198.39 509.70,198.39 510.20,198.39 510.70,198.39 511.20,198.39 511.70,198.39 512.20,198.39 512.70,198.39 513.20,198.39 513.70,198.39 514.20,198.39 514.70,198.39 515.20,198.39 515.70,198.39 516.20,198.39 516.70,198.39 517.20,198.39 517.70,198.39 518.20,198.39 518.70,198.39 519.20,198.39 519.70,198.39 520.20,198.39 520.70,198.39 521.20,198.39 521.70,198.39 522.20,198.39 522.70,198.39 523.20,198.39 523.70,198.39 524.20,198.39 524.70,198.39 525.20,198.39 525.70,198.39 526.20,198.39 526.70,198.39 527.20,198.39 527.70,198.39 528.20,198.39 528.70,198.39 529.20,198.39 529.70,198.39 530.20,198.39 530.70,198.39 531.20,198.39 531.70,198.39 532.20,198.39 532.70,198.39 533.20,198.39 533.70,198.39 534.20,198.39 534.70,198.39 535.20,198.39 535.70,198.39 536.20,198.39 536.70,198.39 537.20,198.39 537.70,198.39 538.20,198.39 538.70,198.39 539.20,198.39 539.70,198.39 540.20,198.39 540.70,198.38 541.20,198.38 541.70,198.38 542.20,198.38 542.70,198.38 543.20,198.38 543.70,198.38 544.20,198.38 544.70,198.38 545.20,198.38 545.70,198.38 546.20,198.38 546.70,198.38 547.20,198.38 547.70,198.38 548.20,198.38 548.70,198.38 549.20,198.38 549.70,198.38 550.20,198.38 550.70,198.38 551.20,198.38 551.70,198.38 552.20,198.38 552.70,198.38 553.20,198.38 553.70,198.38 554.20,198.38 554.70,198.38 555.20,198.38 555.70,198.38 556.20,198.37 556.70,198.37 557.20,198.37 557.70,198.37 558.20,198.37 558.70,198.37 559.20,198.37 559.70,198.37 560.20,198.37 560.70,198.37 561.20,198.37 561.70,198.37 562.20,198.37 562.70,198.37 563.20,198.37 563.70,198.37 564.20,198.36 564.70,198.36 565.20,198.36 565.70,198.36 566.20,198.36 566.70,198.36 567.20,198.36 567.70,198.36 568.20,198.36 568.70,198.36 569.20,198.36 569.70,198.35 570.20,198.35 570.70,198.35 571.20,198.35 571.70,198.35 572.20,198.35 572.70,198.35 573.20,198.35 573.70,198.34 574.20,198.34 574.70,198.34 575.20,198.34 575.70,198.34 576.20,198.34 576.70,198.33 577.20,198.33 577.70,198.33 578.20,198.33 578.70,198.33 579.20,198.32 579.70,198.32 580.20,198.32 580.70,198.31 581.20,198.31 581.70,198.31 582.20,198.30 582.70,198.30 583.20,198.30 583.70,198.29 584.20,198.29 584.70,198.28 585.20,198.28 585.70,198.27 586.20,198.27 586.70,198.26 587.20,198.25 587.70,198.24 588.20,198.24 588.70,198.23 589.20,198.21 589.70,198.20 590.20,198.19 590.70,198.17 591.20,198.16 591.70,198.14 592.20,198.12 592.70,198.09 593.20,198.07 593.70,198.04 594.20,198.00 594.70,197.97 595.20,197.93 595.70,197.89 596.20,197.84 596.70,197.79 597.20,197.73 597.70,197.67 598.20,197.61 598.70,197.54 599.20,197.47 599.70,197.40 600.20,197.32 600.70,197.23 601.20,197.15 601.70,197.06 602.20,196.97 602.70,196.88 603.20,196.79 603.70,196.70 604.20,196.61 604.70,196.53 605.20,196.45 605.70,196.38 606.20,196.32 606.70,196.27 607.20,196.23 607.70,196.21 608.20,196.20 608.70,196.20 609.20,196.22 609.70,196.26 610.20,196.30 610.70,196.36 611.20,196.42 611.70,196.50 612.20,196.58 612.70,196.66 613.20,196.75 613.70,196.84 614.20,196.93 614.70,197.02 615.20,197.11 615.70,197.20 616.20,197.28 616.70,197.36 617.20,197.44 617.70,197.52 618.20,197.58 618.70,197.65 619.20,197.71 619.70,197.77 620.20,197.82 620.70,197.87 621.20,197.91 621.70,197.95 622.20,197.99 622.70,198.02 623.20,198.05 623.70,198.08 624.20,198.11 624.70,198.13 625.20,198.15 625.70,198.17 626.20,198.18 626.70,198.20 627.20,198.21 627.70,198.22 628.20,198.23 628.70,198.24 629.20,198.25 629.70,198.26 630.20,198.26 630.70,198.27 631.20,198.28 631.70,198.28 632.20,198.29 632.70,198.29 633.20,198.30 633.70,198.30 634.20,198.30 634.70,198.31 635.20,198.31 635.70,198.31 636.20,198.32 636.70,198.32 637.20,198.32 637.70,198.32 638.20,198.33 638.70,198.33 639.20,198.33 639.70,198.33 640.20,198.33 640.70,198.34 641.20,198.34 641.70,198.34 642.20,198.34 642.70,198.34 643.20,198.35 643.70,198.35 644.20,198.35 644.70,198.35 645.20,198.35 645.70,198.35 646.20,198.35 646.70,198.35 647.20,198.36 647.70,198.36 648.20,198.36 648.70,198.36 649.20,198.36 649.70,198.36 650.20,198.36 650.70,198.36 651.20,198.36 651.70,198.36 652.20,198.36 652.70,198.37 653.20,198.37 653.70,198.37 654.20,198.37 654.70,198.37 655.20,198.37 655.70,198.37 656.20,198.37 656.70,198.37 657.20,198.37 657.70,198.37 658.20,198.37 658.70,198.37 659.20,198.37 659.70,198.37 660.20,198.37 660.70,198.37 661.20,198.38 661.70,198.38 662.20,198.38 662.70,198.38 663.20,198.38 663.70,198.38 664.20,198.38 664.70,198.38 665.20,198.38 665.70,198.38 666.20,198.38 666.70,198.38 667.20,198.38 667.70,198.38 668.20,198.38 668.70,198.38 669.20,198.38 669.70,198.38 670.20,198.38 670.70,198.38 671.20,198.38 671.70,198.38 672.20,198.38 672.70,198.38 673.20,198.38 673.70,198.38 674.20,198.38 674.70,198.38 675.20,198.38 675.70,198.38 676.20,198.38 676.70,198.39 677.20,198.39 677.70,198.39 678.20,198.39 678.70,198.39 679.20,198.39 679.70,198.39 680.20,198.39 680.70,198.39 681.20,198.39 681.70,198.39 682.20,198.39" fill="none" stroke="#52cfb3" stroke-width="1.3" stroke-linejoin="round" stroke-linecap="round" />
<polyline points="501.70,198.39 502.20,198.39 502.70,198.39 503.20,198.39 503.70,198.39 504.20,198.39 504.70,198.39 505.20,198.39 505.70,198.39 506.20,198.39 506.70,198.39 507.20,198.39 507.70,198.39 508.20,198.39 508.70,198.39 509.20,198.39 509.70,198.39 510.20,198.39 510.70,198.39 511.20,198.39 511.70,198.39 512.20,198.39 512.70,198.39 513.20,198.39 513.70,198.39 514.20,198.39 514.70,198.39 515.20,198.39 515.70,198.39 516.20,198.39 516.70,198.39 517.20,198.39 517.70,198.39 518.20,198.39 518.70,198.39 519.20,198.39 519.70,198.39 520.20,198.39 520.70,198.39 521.20,198.39 521.70,198.39 522.20,198.39 522.70,198.39 523.20,198.39 523.70,198.39 524.20,198.39 524.70,198.39 525.20,198.39 525.70,198.39 526.20,198.39 526.70,198.39 527.20,198.39 527.70,198.39 528.20,198.39 528.70,198.39 529.20,198.39 529.70,198.39 530.20,198.38 530.70,198.38 531.20,198.38 531.70,198.38 532.20,198.38 532.70,198.38 533.20,198.38 533.70,198.38 534.20,198.38 534.70,198.38 535.20,198.38 535.70,198.38 536.20,198.38 536.70,198.38 537.20,198.38 537.70,198.38 538.20,198.38 538.70,198.38 539.20,198.38 539.70,198.38 540.20,198.38 540.70,198.38 541.20,198.38 541.70,198.38 542.20,198.38 542.70,198.38 543.20,198.38 543.70,198.38 544.20,198.38 544.70,198.37 545.20,198.37 545.70,198.37 546.20,198.37 546.70,198.37 547.20,198.37 547.70,198.37 548.20,198.37 548.70,198.37 549.20,198.37 549.70,198.37 550.20,198.37 550.70,198.37 551.20,198.37 551.70,198.37 552.20,198.37 552.70,198.36 553.20,198.36 553.70,198.36 554.20,198.36 554.70,198.36 555.20,198.36 555.70,198.36 556.20,198.36 556.70,198.36 557.20,198.36 557.70,198.35 558.20,198.35 558.70,198.35 559.20,198.35 559.70,198.35 560.20,198.35 560.70,198.35 561.20,198.34 561.70,198.34 562.20,198.34 562.70,198.34 563.20,198.34 563.70,198.34 564.20,198.33 564.70,198.33 565.20,198.33 565.70,198.33 566.20,198.32 566.70,198.32 567.20,198.32 567.70,198.32 568.20,198.31 568.70,198.31 569.20,198.31 569.70,198.30 570.20,198.30 570.70,198.30 571.20,198.29 571.70,198.29 572.20,198.28 572.70,198.28 573.20,198.27 573.70,198.27 574.20,198.26 574.70,198.25 575.20,198.24 575.70,198.24 576.20,198.23 576.70,198.22 577.20,198.21 577.70,198.19 578.20,198.18 578.70,198.17 579.20,198.15 579.70,198.13 580.20,198.10 580.70,198.08 581.20,198.05 581.70,198.01 582.20,197.97 582.70,197.92 583.20,197.87 583.70,197.80 584.20,197.73 584.70,197.65 585.20,197.55 585.70,197.45 586.20,197.33 586.70,197.21 587.20,197.07 587.70,196.92 588.20,196.75 588.70,196.58 589.20,196.40 589.70,196.21 590.20,196.02 590.70,195.83 591.20,195.64 591.70,195.46 592.20,195.29 592.70,195.15 593.20,195.03 593.70,194.95 594.20,194.91 594.70,194.90 595.20,194.94 595.70,195.02 596.20,195.12 596.70,195.26 597.20,195.42 597.70,195.60 598.20,195.79 598.70,195.98 599.20,196.17 599.70,196.36 600.20,196.54 600.70,196.72 601.20,196.88 601.70,197.04 602.20,197.18 602.70,197.31 603.20,197.43 603.70,197.53 604.20,197.63 604.70,197.71 605.20,197.79 605.70,197.85 606.20,197.91 606.70,197.96 607.20,198.00 607.70,198.04 608.20,198.07 608.70,198.10 609.20,198.12 609.70,198.14 610.20,198.16 610.70,198.18 611.20,198.19 611.70,198.20 612.20,198.22 612.70,198.23 613.20,198.23 613.70,198.24 614.20,198.25 614.70,198.26 615.20,198.26 615.70,198.27 616.20,198.28 616.70,198.28 617.20,198.29 617.70,198.29 618.20,198.29 618.70,198.30 619.20,198.30 619.70,198.31 620.20,198.31 620.70,198.31 621.20,198.32 621.70,198.32 622.20,198.32 622.70,198.32 623.20,198.33 623.70,198.33 624.20,198.33 624.70,198.33 625.20,198.34 625.70,198.34 626.20,198.34 626.70,198.34 627.20,198.34 627.70,198.34 628.20,198.35 628.70,198.35 629.20,198.35 629.70,198.35 630.20,198.35 630.70,198.35 631.20,198.35 631.70,198.36 632.20,198.36 632.70,198.36 633.20,198.36 633.70,198.36 634.20,198.36 634.70,198.36 635.20,198.36 635.70,198.36 636.20,198.36 636.70,198.37 637.20,198.37 637.70,198.37 638.20,198.37 638.70,198.37 639.20,198.37 639.70,198.37 640.20,198.37 640.70,198.37 641.20,198.37 641.70,198.37 642.20,198.37 642.70,198.37 643.20,198.37 643.70,198.37 644.20,198.37 644.70,198.38 645.20,198.38 645.70,198.38 646.20,198.38 646.70,198.38 647.20,198.38 647.70,198.38 648.20,198.38 648.70,198.38 649.20,198.38 649.70,198.38 650.20,198.38 650.70,198.38 651.20,198.38 651.70,198.38 652.20,198.38 652.70,198.38 653.20,198.38 653.70,198.38 654.20,198.38 654.70,198.38 655.20,198.38 655.70,198.38 656.20,198.38 656.70,198.38 657.20,198.38 657.70,198.38 658.20,198.38 658.70,198.38 659.20,198.39 659.70,198.39 660.20,198.39 660.70,198.39 661.20,198.39 661.70,198.39 662.20,198.39 662.70,198.39 663.20,198.39 663.70,198.39 664.20,198.39 664.70,198.39 665.20,198.39 665.70,198.39 666.20,198.39 666.70,198.39 667.20,198.39 667.70,198.39 668.20,198.39 668.70,198.39 669.20,198.39 669.70,198.39 670.20,198.39 670.70,198.39 671.20,198.39 671.70,198.39 672.20,198.39 672.70,198.39 673.20,198.39 673.70,198.39 674.20,198.39 674.70,198.39 675.20,198.39 675.70,198.39 676.20,198.39 676.70,198.39 677.20,198.39 677.70,198.39 678.20,198.39 678.70,198.39 679.20,198.39 679.70,198.39 680.20,198.39 680.70,198.39 681.20,198.39 681.70,198.39 682.20,198.39" fill="none" stroke="#bfe4ad" stroke-width="1.3" stroke-linejoin="round" stroke-linecap="round" />
<polyline points="501.70,198.33 502.20,198.33 502.70,198.33 503.20,198.33 503.70,198.33 504.20,198.33 504.70,198.33 505.20,198.33 505.70,198.33 506.20,198.32 506.70,198.32 507.20,198.32 507.70,198.32 508.20,198.32 508.70,198.32 509.20,198.32 509.70,198.32 510.20,198.32 510.70,198.31 511.20,198.31 511.70,198.31 512.20,198.31 512.70,198.31 513.20,198.31 513.70,198.31 514.20,198.31 514.70,198.30 515.20,198.30 515.70,198.30 516.20,198.30 516.70,198.30 517.20,198.30 517.70,198.30 518.20,198.29 518.70,198.29 519.20,198.29 519.70,198.29 520.20,198.29 520.70,198.28 521.20,198.28 521.70,198.28 522.20,198.28 522.70,198.28 523.20,198.28 523.70,198.27 524.20,198.27 524.70,198.27 525.20,198.27 525.70,198.26 526.20,198.26 526.70,198.26 527.20,198.26 527.70,198.25 528.20,198.25 528.70,198.25 529.20,198.25 529.70,198.24 530.20,198.24 530.70,198.24 531.20,198.23 531.70,198.23 532.20,198.23 532.70,198.22 533.20,198.22 533.70,198.22 534.20,198.21 534.70,198.21 535.20,198.21 535.70,198.20 536.20,198.20 536.70,198.19 537.20,198.19 537.70,198.18 538.20,198.18 538.70,198.17 539.20,198.17 539.70,198.16 540.20,198.16 540.70,198.15 541.20,198.15 541.70,198.14 542.20,198.13 542.70,198.13 543.20,198.12 543.70,198.11 544.20,198.11 544.70,198.10 545.20,198.09 545.70,198.08 546.20,198.07 546.70,198.07 547.20,198.06 547.70,198.05 548.20,198.04 548.70,198.03 549.20,198.02 549.70,198.00 550.20,197.99 550.70,197.98 551.20,197.97 551.70,197.95 552.20,197.94 552.70,197.92 553.20,197.91 553.70,197.89 554.20,197.87 554.70,197.86 555.20,197.84 555.70,197.82 556.20,197.79 556.70,197.77 557.20,197.74 557.70,197.71 558.20,197.68 558.70,197.65 559.20,197.61 559.70,197.57 560.20,197.53 560.70,197.48 561.20,197.43 561.70,197.37 562.20,197.31 562.70,197.24 563.20,197.16 563.70,197.07 564.20,196.98 564.70,196.87 565.20,196.75 565.70,196.62 566.20,196.47 566.70,196.32 567.20,196.14 567.70,195.95 568.20,195.74 568.70,195.51 569.20,195.27 569.70,195.00 570.20,194.71 570.70,194.40 571.20,194.07 571.70,193.72 572.20,193.35 572.70,192.96 573.20,192.55 573.70,192.13 574.20,191.69 574.70,191.23 575.20,190.77 575.70,190.29 576.20,189.82 576.70,189.35 577.20,188.88 577.70,188.43 578.20,188.01 578.70,187.60 579.20,187.24 579.70,186.92 580.20,186.65 580.70,186.44 581.20,186.29 581.70,186.21 582.20,186.21 582.70,186.27 583.20,186.40 583.70,186.60 584.20,186.86 584.70,187.17 585.20,187.53 585.70,187.92 586.20,188.35 586.70,188.79 587.20,189.25 587.70,189.73 588.20,190.20 588.70,190.67 589.20,191.14 589.70,191.60 590.20,192.04 590.70,192.47 591.20,192.88 591.70,193.28 592.20,193.65 592.70,194.01 593.20,194.34 593.70,194.65 594.20,194.94 594.70,195.21 595.20,195.47 595.70,195.70 596.20,195.91 596.70,196.10 597.20,196.28 597.70,196.44 598.20,196.59 598.70,196.72 599.20,196.85 599.70,196.95 600.20,197.05 600.70,197.14 601.20,197.22 601.70,197.30 602.20,197.36 602.70,197.42 603.20,197.47 603.70,197.52 604.20,197.57 604.70,197.61 605.20,197.64 605.70,197.68 606.20,197.71 606.70,197.74 607.20,197.76 607.70,197.79 608.20,197.81 608.70,197.83 609.20,197.85 609.70,197.87 610.20,197.89 610.70,197.91 611.20,197.92 611.70,197.94 612.20,197.95 612.70,197.96 613.20,197.98 613.70,197.99 614.20,198.00 614.70,198.01 615.20,198.02 615.70,198.04 616.20,198.05 616.70,198.05 617.20,198.06 617.70,198.07 618.20,198.08 618.70,198.09 619.20,198.10 619.70,198.10 620.20,198.11 620.70,198.12 621.20,198.13 621.70,198.13 622.20,198.14 622.70,198.15 623.20,198.15 623.70,198.16 624.20,198.16 624.70,198.17 625.20,198.17 625.70,198.18 626.20,198.18 626.70,198.19 627.20,198.19 627.70,198.20 628.20,198.20 628.70,198.20 629.20,198.21 629.70,198.21 630.20,198.22 630.70,198.22 631.20,198.22 631.70,198.23 632.20,198.23 632.70,198.23 633.20,198.24 633.70,198.24 634.20,198.24 634.70,198.25 635.20,198.25 635.70,198.25 636.20,198.25 636.70,198.26 637.20,198.26 637.70,198.26 638.20,198.26 638.70,198.27 639.20,198.27 639.70,198.27 640.20,198.27 640.70,198.27 641.20,198.28 641.70,198.28 642.20,198.28 642.70,198.28 643.20,198.28 643.70,198.29 644.20,198.29 644.70,198.29 645.20,198.29 645.70,198.29 646.20,198.29 646.70,198.30 647.20,198.30 647.70,198.30 648.20,198.30 648.70,198.30 649.20,198.30 649.70,198.31 650.20,198.31 650.70,198.31 651.20,198.31 651.70,198.31 652.20,198.31 652.70,198.31 653.20,198.31 653.70,198.32 654.20,198.32 654.70,198.32 655.20,198.32 655.70,198.32 656.20,198.32 656.70,198.32 657.20,198.32 657.70,198.32 658.20,198.33 658.70,198.33 659.20,198.33 659.70,198.33 660.20,198.33 660.70,198.33 661.20,198.33 661.70,198.33 662.20,198.33 662.70,198.33 663.20,198.33 663.70,198.33 664.20,198.34 664.70,198.34 665.20,198.34 665.70,198.34 666.20,198.34 666.70,198.34 667.20,198.34 667.70,198.34 668.20,198.34 668.70,198.34 669.20,198.34 669.70,198.34 670.20,198.34 670.70,198.34 671.20,198.35 671.70,198.35 672.20,198.35 672.70,198.35 673.20,198.35 673.70,198.35 674.20,198.35 674.70,198.35 675.20,198.35 675.70,198.35 676.20,198.35 676.70,198.35 677.20,198.35 677.70,198.35 678.20,198.35 678.70,198.35 679.20,198.35 679.70,198.35 680.20,198.35 680.70,198.36 681.20,198.36 681.70,198.36 682.20,198.36" fill="none" stroke="#fac6a4" stroke-width="1.3" stroke-linejoin="round" stroke-linecap="round" />
<polyline points="501.70,198.34 502.20,198.34 502.70,198.33 503.20,198.33 503.70,198.33 504.20,198.33 504.70,198.33 505.20,198.33 505.70,198.33 506.20,198.33 506.70,198.33 507.20,198.32 507.70,198.32 508.20,198.32 508.70,198.32 509.20,198.32 509.70,198.32 510.20,198.32 510.70,198.31 511.20,198.31 511.70,198.31 512.20,198.31 512.70,198.31 513.20,198.31 513.70,198.30 514.20,198.30 514.70,198.30 515.20,198.30 515.70,198.30 516.20,198.29 516.70,198.29 517.20,198.29 517.70,198.29 518.20,198.28 518.70,198.28 519.20,198.28 519.70,198.28 520.20,198.27 520.70,198.27 521.20,198.27 521.70,198.26 522.20,198.26 522.70,198.26 523.20,198.25 523.70,198.25 524.20,198.25 524.70,198.24 525.20,198.24 525.70,198.24 526.20,198.23 526.70,198.23 527.20,198.22 527.70,198.22 528.20,198.21 528.70,198.21 529.20,198.20 529.70,198.20 530.20,198.19 530.70,198.18 531.20,198.18 531.70,198.17 532.20,198.16 532.70,198.16 533.20,198.15 533.70,198.14 534.20,198.13 534.70,198.12 535.20,198.11 535.70,198.10 536.20,198.09 536.70,198.08 537.20,198.07 537.70,198.06 538.20,198.05 538.70,198.04 539.20,198.02 539.70,198.01 540.20,197.99 540.70,197.97 541.20,197.96 541.70,197.94 542.20,197.92 542.70,197.90 543.20,197.87 543.70,197.85 544.20,197.82 544.70,197.80 545.20,197.76 545.70,197.73 546.20,197.70 546.70,197.66 547.20,197.62 547.70,197.57 548.20,197.52 548.70,197.47 549.20,197.41 549.70,197.34 550.20,197.27 550.70,197.19 551.20,197.11 551.70,197.01 552.20,196.91 552.70,196.79 553.20,196.67 553.70,196.54 554.20,196.39 554.70,196.23 555.20,196.05 555.70,195.87 556.20,195.67 556.70,195.45 557.20,195.22 557.70,194.98 558.20,194.72 558.70,194.46 559.20,194.19 559.70,193.91 560.20,193.64 560.70,193.38 561.20,193.14 561.70,192.93 562.20,192.75 562.70,192.61 563.20,192.53 563.70,192.50 564.20,192.53 564.70,192.61 565.20,192.75 565.70,192.93 566.20,193.14 566.70,193.38 567.20,193.64 567.70,193.91 568.20,194.19 568.70,194.46 569.20,194.72 569.70,194.98 570.20,195.22 570.70,195.45 571.20,195.67 571.70,195.87 572.20,196.05 572.70,196.23 573.20,196.39 573.70,196.54 574.20,196.67 574.70,196.79 575.20,196.91 575.70,197.01 576.20,197.11 576.70,197.19 577.20,197.27 577.70,197.34 578.20,197.41 578.70,197.47 579.20,197.52 579.70,197.57 580.20,197.62 580.70,197.66 581.20,197.70 581.70,197.73 582.20,197.76 582.70,197.80 583.20,197.82 583.70,197.85 584.20,197.87 584.70,197.90 585.20,197.92 585.70,197.94 586.20,197.96 586.70,197.97 587.20,197.99 587.70,198.01 588.20,198.02 588.70,198.04 589.20,198.05 589.70,198.06 590.20,198.07 590.70,198.08 591.20,198.09 591.70,198.10 592.20,198.11 592.70,198.12 593.20,198.13 593.70,198.14 594.20,198.15 594.70,198.16 595.20,198.16 595.70,198.17 596.20,198.18 596.70,198.18 597.20,198.19 597.70,198.20 598.20,198.20 598.70,198.21 599.20,198.21 599.70,198.22 600.20,198.22 600.70,198.23 601.20,198.23 601.70,198.24 602.20,198.24 602.70,198.24 603.20,198.25 603.70,198.25 604.20,198.25 604.70,198.26 605.20,198.26 605.70,198.26 606.20,198.27 606.70,198.27 607.20,198.27 607.70,198.28 608.20,198.28 608.70,198.28 609.20,198.28 609.70,198.29 610.20,198.29 610.70,198.29 611.20,198.29 611.70,198.30 612.20,198.30 612.70,198.30 613.20,198.30 613.70,198.30 614.20,198.31 614.70,198.31 615.20,198.31 615.70,198.31 616.20,198.31 616.70,198.31 617.20,198.32 617.70,198.32 618.20,198.32 618.70,198.32 619.20,198.32 619.70,198.32 620.20,198.32 620.70,198.33 621.20,198.33 621.70,198.33 622.20,198.33 622.70,198.33 623.20,198.33 623.70,198.33 624.20,198.33 624.70,198.33 625.20,198.34 625.70,198.34 626.20,198.34 626.70,198.34 627.20,198.34 627.70,198.34 628.20,198.34 628.70,198.34 629.20,198.34 629.70,198.34 630.20,198.35 630.70,198.35 631.20,198.35 631.70,198.35 632.20,198.35 632.70,198.35 633.20,198.35 633.70,198.35 634.20,198.35 634.70,198.35 635.20,198.35 635.70,198.35 636.20,198.35 636.70,198.35 637.20,198.35 637.70,198.36 638.20,198.36 638.70,198.36 639.20,198.36 639.70,198.36 640.20,198.36 640.70,198.36 641.20,198.36 641.70,198.36 642.20,198.36 642.70,198.36 643.20,198.36 643.70,198.36 644.20,198.36 644.70,198.36 645.20,198.36 645.70,198.36 646.20,198.36 646.70,198.36 647.20,198.37 647.70,198.37 648.20,198.37 648.70,198.37 649.20,198.37 649.70,198.37 650.20,198.37 650.70,198.37 651.20,198.37 651.70,198.37 652.20,198.37 652.70,198.37 653.20,198.37 653.70,198.37 654.20,198.37 654.70,198.37 655.20,198.37 655.70,198.37 656.20,198.37 656.70,198.37 657.20,198.37 657.70,198.37 658.20,198.37 658.70,198.37 659.20,198.37 659.70,198.37 660.20,198.37 660.70,198.37 661.20,198.37 661.70,198.37 662.20,198.37 662.70,198.38 663.20,198.38 663.70,198.38 664.20,198.38 664.70,198.38 665.20,198.38 665.70,198.38 666.20,198.38 666.70,198.38 667.20,198.38 667.70,198.38 668.20,198.38 668.70,198.38 669.20,198.38 669.70,198.38 670.20,198.38 670.70,198.38 671.20,198.38 671.70,198.38 672.20,198.38 672.70,198.38 673.20,198.38 673.70,198.38 674.20,198.38 674.70,198.38 675.20,198.38 675.70,198.38 676.20,198.38 676.70,198.38 677.20,198.38 677.70,198.38 678.20,198.38 678.70,198.38 679.20,198.38 679.70,198.38 680.20,198.38 680.70,198.38 681.20,198.38 681.70,198.38 682.20,198.38" fill="none" stroke="#878769" stroke-width="1.3" stroke-linejoin="round" stroke-linecap="round" />
<line x1="580.7" y1="41.9" x2="580.7" y2="51.1" stroke="#111" stroke-width="1.0"/>
<polygon points="578.8000000000001,50.5 582.6,50.5 580.7,54.1" fill="#111"/>
<line x1="594.7" y1="51" x2="594.7" y2="60.3" stroke="#111" stroke-width="1.0"/>
<polygon points="592.8000000000001,59.699999999999996 596.6,59.699999999999996 594.7,63.3" fill="#111"/>
<line x1="580.4" y1="98.8" x2="580.4" y2="108" stroke="#111" stroke-width="1.0"/>
<polygon points="578.5,107.4 582.3,107.4 580.4,111" fill="#111"/>
<line x1="580.4" y1="138.7" x2="580.4" y2="145.9" stroke="#111" stroke-width="1.0"/>
<polygon points="578.5,145.3 582.3,145.3 580.4,148.9" fill="#111"/>
<line x1="590.8" y1="137" x2="590.8" y2="145.3" stroke="#111" stroke-width="1.0"/>
<polygon points="588.9,144.70000000000002 592.6999999999999,144.70000000000002 590.8,148.3" fill="#111"/>
<line x1="582" y1="175" x2="582" y2="183.2" stroke="#111" stroke-width="1.0"/>
<polygon points="580.1,182.6 583.9,182.6 582,186.2" fill="#111"/>
<line x1="594.5" y1="183" x2="594.5" y2="192.2" stroke="#111" stroke-width="1.0"/>
<polygon points="592.6,191.6 596.4,191.6 594.5,195.2" fill="#111"/>
<text x="681.3" y="37.4" font-size="11.5" text-anchor="end" font-weight="normal" fill="#1a1a1a" stroke="#1a1a1a" stroke-width="0.2" >Nanosheet Zn-TCPP</text>
<text x="681.3" y="81.3" font-size="11.5" text-anchor="end" font-weight="normal" fill="#1a1a1a" stroke="#1a1a1a" stroke-width="0.2" >Bulk Zn-TCPP</text>
<text x="681.3" y="124.1" font-size="11.5" text-anchor="end" font-weight="normal" fill="#1a1a1a" stroke="#1a1a1a" stroke-width="0.2" >MOF-CT/PVA</text>
<text x="681.3" y="168.0" font-size="11.5" text-anchor="end" font-weight="normal" fill="#1a1a1a" stroke="#1a1a1a" stroke-width="0.2" >CT/PVA</text>
<rect x="501" y="25.8" width="182" height="174.2" fill="none" stroke="#111" stroke-width="1.3"/>
<line x1="501" y1="68.4" x2="683" y2="68.4" stroke="#111" stroke-width="1.3"/>
<line x1="501" y1="113.2" x2="683" y2="113.2" stroke="#111" stroke-width="1.3"/>
<line x1="501" y1="157.1" x2="683" y2="157.1" stroke="#111" stroke-width="1.3"/>
<line x1="508.13000000000005" y1="200" x2="508.13000000000005" y2="203.5" stroke="#111" stroke-width="1.2"/>
<line x1="522.7" y1="200" x2="522.7" y2="206.8" stroke="#111" stroke-width="1.2"/>
<text x="522.7" y="220.5" font-size="11.5" text-anchor="middle" font-weight="normal" fill="#1a1a1a" stroke="#1a1a1a" stroke-width="0.2" >282</text>
<line x1="537.2700000000001" y1="200" x2="537.2700000000001" y2="203.5" stroke="#111" stroke-width="1.2"/>
<line x1="551.84" y1="200" x2="551.84" y2="206.8" stroke="#111" stroke-width="1.2"/>
<text x="551.84" y="220.5" font-size="11.5" text-anchor="middle" font-weight="normal" fill="#1a1a1a" stroke="#1a1a1a" stroke-width="0.2" >284</text>
<line x1="566.4100000000001" y1="200" x2="566.4100000000001" y2="203.5" stroke="#111" stroke-width="1.2"/>
<line x1="580.98" y1="200" x2="580.98" y2="206.8" stroke="#111" stroke-width="1.2"/>
<text x="580.98" y="220.5" font-size="11.5" text-anchor="middle" font-weight="normal" fill="#1a1a1a" stroke="#1a1a1a" stroke-width="0.2" >286</text>
<line x1="595.5500000000001" y1="200" x2="595.5500000000001" y2="203.5" stroke="#111" stroke-width="1.2"/>
<line x1="610.12" y1="200" x2="610.12" y2="206.8" stroke="#111" stroke-width="1.2"/>
<text x="610.12" y="220.5" font-size="11.5" text-anchor="middle" font-weight="normal" fill="#1a1a1a" stroke="#1a1a1a" stroke-width="0.2" >288</text>
<line x1="624.69" y1="200" x2="624.69" y2="203.5" stroke="#111" stroke-width="1.2"/>
<line x1="639.26" y1="200" x2="639.26" y2="206.8" stroke="#111" stroke-width="1.2"/>
<text x="639.26" y="220.5" font-size="11.5" text-anchor="middle" font-weight="normal" fill="#1a1a1a" stroke="#1a1a1a" stroke-width="0.2" >290</text>
<line x1="653.83" y1="200" x2="653.83" y2="203.5" stroke="#111" stroke-width="1.2"/>
<line x1="668.4000000000001" y1="200" x2="668.4000000000001" y2="206.8" stroke="#111" stroke-width="1.2"/>
<text x="668.4000000000001" y="220.5" font-size="11.5" text-anchor="middle" font-weight="normal" fill="#1a1a1a" stroke="#1a1a1a" stroke-width="0.2" >292</text>
<line x1="682.97" y1="200" x2="682.97" y2="203.5" stroke="#111" stroke-width="1.2"/>
<text x="546.3" y="235.7" font-size="11.5" text-anchor="start" font-weight="normal" fill="#1a1a1a" stroke="#1a1a1a" stroke-width="0.2" >Binding energy (eV)</text>
<text x="-0.7" y="261.2" font-size="16" text-anchor="start" font-weight="bold" fill="#000" >d</text>
<defs>
<filter id="semA" x="0" y="0" width="1" height="1" color-interpolation-filters="sRGB"><feTurbulence type="fractalNoise" baseFrequency="0.95" numOctaves="2" seed="3"/><feColorMatrix type="matrix" values="0.17500000000000002 0 0 0 0.5725  0.17500000000000002 0 0 0 0.5725  0.17500000000000002 0 0 0 0.5725  0 0 0 0 1"/></filter>
<filter id="semB" x="0" y="0" width="1" height="1" color-interpolation-filters="sRGB"><feTurbulence type="fractalNoise" baseFrequency="0.42" numOctaves="3" seed="5"/><feColorMatrix type="matrix" values="0.4 0 0 0 0.27499999999999997  0.4 0 0 0 0.27499999999999997  0.4 0 0 0 0.27499999999999997  0 0 0 0 1"/></filter>
<filter id="grA" x="0" y="0" width="1" height="1" color-interpolation-filters="sRGB"><feTurbulence type="fractalNoise" baseFrequency="0.8" numOctaves="2" seed="7"/><feColorMatrix type="matrix" values="0.35000000000000003 0 0 0 0.18499999999999997  0.35000000000000003 0 0 0 0.18499999999999997  0.35000000000000003 0 0 0 0.18499999999999997  0 0 0 0 1"/></filter>
<filter id="grB" x="0" y="0" width="1" height="1" color-interpolation-filters="sRGB"><feTurbulence type="fractalNoise" baseFrequency="0.6" numOctaves="2" seed="9"/><feColorMatrix type="matrix" values="0.35000000000000003 0 0 0 0.345  0.35000000000000003 0 0 0 0.345  0.35000000000000003 0 0 0 0.345  0 0 0 0 1"/></filter>
<filter id="grC" x="0" y="0" width="1" height="1" color-interpolation-filters="sRGB"><feTurbulence type="fractalNoise" baseFrequency="0.5" numOctaves="2" seed="11"/><feColorMatrix type="matrix" values="0.3 0 0 0 0.25  0.3 0 0 0 0.25  0.3 0 0 0 0.25  0 0 0 0 1"/></filter>
<filter id="grE" x="0" y="0" width="1" height="1" color-interpolation-filters="sRGB"><feTurbulence type="fractalNoise" baseFrequency="0.22" numOctaves="3" seed="17"/><feColorMatrix type="matrix" values="0.5 0 0 0 0.31000000000000005  0.5 0 0 0 0.31000000000000005  0.5 0 0 0 0.31000000000000005  0 0 0 0 1"/></filter>
<filter id="grF" x="0" y="0" width="1" height="1" color-interpolation-filters="sRGB"><feTurbulence type="fractalNoise" baseFrequency="0.8" numOctaves="2" seed="19"/><feColorMatrix type="matrix" values="0.325 0 0 0 0.13749999999999998  0.325 0 0 0 0.13749999999999998  0.325 0 0 0 0.13749999999999998  0 0 0 0 1"/></filter>
<filter id="grD" x="0" y="0" width="1" height="1" color-interpolation-filters="sRGB"><feTurbulence type="fractalNoise" baseFrequency="0.7" numOctaves="2" seed="13"/><feColorMatrix type="matrix" values="0.6 0 0 0 0.0  0.6 0 0 0 0.0  0.6 0 0 0 0.0  0 0 0 0 1"/><feComposite in2="SourceAlpha" operator="in"/></filter>
<clipPath id="cp3"><rect x="16" y="388.9" width="104.8" height="61"/></clipPath>
<clipPath id="cc00"><rect x="127.6" y="252.2" width="119.9" height="63.5"/></clipPath>
<clipPath id="cc10"><rect x="127.6" y="317.2" width="119.9" height="64.19999999999999"/></clipPath>
<clipPath id="cc20"><rect x="127.6" y="382.5" width="119.9" height="68.5"/></clipPath>
<clipPath id="cc01"><rect x="249.2" y="252.2" width="119.80000000000001" height="63.5"/></clipPath>
<clipPath id="cc11"><rect x="249.2" y="317.2" width="119.80000000000001" height="64.19999999999999"/></clipPath>
<clipPath id="cc21"><rect x="249.2" y="382.5" width="119.80000000000001" height="68.5"/></clipPath>
<linearGradient id="g11" x1="0" y1="0" x2="0" y2="1">
<stop offset="0" stop-color="#505050"/><stop offset="0.2" stop-color="#353535"/><stop offset="0.45" stop-color="#1e1e1e"/><stop offset="0.7" stop-color="#111"/><stop offset="1" stop-color="#080808"/></linearGradient>
<linearGradient id="gd1" x1="0" y1="0" x2="0" y2="1">
<stop offset="0" stop-color="#1a1a1a"/><stop offset="0.4" stop-color="#222"/><stop offset="0.75" stop-color="#2c2c2c"/><stop offset="1" stop-color="#333"/></linearGradient>
<linearGradient id="g3b" x1="0" y1="0" x2="0" y2="1">
<stop offset="0" stop-color="#0c0c0c"/><stop offset="0.4" stop-color="#111"/><stop offset="0.6" stop-color="#242424"/><stop offset="1" stop-color="#2e2e2e"/></linearGradient>

</defs>
<rect x="16" y="253" width="104.4" height="59.8" fill="#a6a6a6" filter="url(#semA)"/>
<rect x="16" y="321.2" width="104.2" height="59.6" fill="#767676" filter="url(#semB)"/>
<rect x="16" y="388.9" width="104.8" height="61" fill="#161616" />
<g clip-path="url(#cp3)">
<defs><linearGradient id="fl1" x1="0" y1="0" x2="1" y2="1"><stop offset="0" stop-color="#c8c8c8"/><stop offset="1" stop-color="#8a8a8a"/></linearGradient></defs>
<defs><linearGradient id="fl2" x1="0" y1="0" x2="1" y2="0"><stop offset="0" stop-color="#e0e0e0"/><stop offset="1" stop-color="#a0a0a0"/></linearGradient></defs>
<defs><linearGradient id="fl3" x1="0" y1="1" x2="1" y2="0"><stop offset="0" stop-color="#9a9a9a"/><stop offset="1" stop-color="#d4d4d4"/></linearGradient></defs>
<polygon points="15,415 40,418 44,426.7 42,446 36,451 15,451" fill="url(#fl1)"/>
<polygon points="78,411 104,408 107,428 84,431" fill="url(#fl3)"/>
<polygon points="15,392 30,389 33,396 24,404 15,406" fill="url(#fl2)"/>
<path d="M11.3,406.1 Q16.4,412.9 24.2,416.1 Q19.1,409.4 11.3,406.1Z" fill="#0c0c0c" stroke="#0c0c0c" stroke-width="0.5"/>
<path d="M9.8,404.2 Q15.1,410.7 22.7,414.2 Q17.5,407.7 9.8,404.2Z" fill="#d8d8d8" stroke="#fbfbfb" stroke-width="0.5"/>
<path d="M131.3,434.1 Q120.4,427.6 109.6,434.2 Q120.5,440.7 131.3,434.1Z" fill="#0c0c0c" stroke="#0c0c0c" stroke-width="0.5"/>
<path d="M129.8,432.2 Q118.9,426.6 108.1,432.3 Q119.0,438.0 129.8,432.2Z" fill="#cccccc" stroke="#efefef" stroke-width="0.5"/>
<path d="M94.3,423.3 Q87.9,430.6 84.7,439.8 Q91.1,432.4 94.3,423.3Z" fill="#0c0c0c" stroke="#0c0c0c" stroke-width="0.5"/>
<path d="M92.8,421.4 Q86.6,428.8 83.2,437.9 Q89.3,430.4 92.8,421.4Z" fill="#d4d4d4" stroke="#f7f7f7" stroke-width="0.5"/>
<path d="M31.9,425.4 Q30.4,437.5 31.9,449.6 Q33.3,437.5 31.9,425.4Z" fill="#0c0c0c" stroke="#0c0c0c" stroke-width="0.5"/>
<path d="M30.4,423.5 Q29.1,435.6 30.4,447.7 Q31.6,435.6 30.4,423.5Z" fill="#dddddd" stroke="#ffffff" stroke-width="0.5"/>
<path d="M42.8,398.9 Q37.4,405.9 35.8,414.6 Q41.2,407.6 42.8,398.9Z" fill="#0c0c0c" stroke="#0c0c0c" stroke-width="0.5"/>
<path d="M41.3,397.0 Q36.1,404.1 34.3,412.7 Q39.4,405.6 41.3,397.0Z" fill="#cbcbcb" stroke="#eeeeee" stroke-width="0.5"/>
<path d="M48.2,441.8 Q33.7,446.7 20.3,454.3 Q34.8,449.4 48.2,441.8Z" fill="#0c0c0c" stroke="#0c0c0c" stroke-width="0.5"/>
<path d="M46.7,439.9 Q32.2,445.0 18.8,452.4 Q33.3,447.3 46.7,439.9Z" fill="#cacaca" stroke="#ededed" stroke-width="0.5"/>
<path d="M38.7,391.4 Q30.6,402.2 25.5,414.7 Q33.6,403.9 38.7,391.4Z" fill="#0c0c0c" stroke="#0c0c0c" stroke-width="0.5"/>
<path d="M37.2,389.5 Q29.3,400.4 24.0,412.8 Q31.9,401.9 37.2,389.5Z" fill="#efefef" stroke="#ffffff" stroke-width="0.5"/>
<path d="M104.0,387.5 Q106.8,397.6 116.6,401.7 Q113.8,391.5 104.0,387.5Z" fill="#0c0c0c" stroke="#0c0c0c" stroke-width="0.5"/>
<path d="M102.5,385.6 Q105.8,395.3 115.1,399.8 Q111.8,390.0 102.5,385.6Z" fill="#c5c5c5" stroke="#e8e8e8" stroke-width="0.5"/>
<path d="M102.5,413.9 Q111.3,420.4 121.2,424.8 Q112.5,418.3 102.5,413.9Z" fill="#0c0c0c" stroke="#0c0c0c" stroke-width="0.5"/>
<path d="M101.0,412.0 Q109.8,418.4 119.7,422.9 Q110.9,416.5 101.0,412.0Z" fill="#bfbfbf" stroke="#e2e2e2" stroke-width="0.5"/>
<path d="M29.8,407.5 Q20.3,409.2 16.0,417.9 Q25.6,416.2 29.8,407.5Z" fill="#0c0c0c" stroke="#0c0c0c" stroke-width="0.5"/>
<path d="M28.3,405.6 Q19.1,407.8 14.5,416.0 Q23.7,413.9 28.3,405.6Z" fill="#a2a2a2" stroke="#c5c5c5" stroke-width="0.5"/>
<path d="M115.9,420.8 Q104.3,418.2 94.9,425.5 Q106.5,428.1 115.9,420.8Z" fill="#0c0c0c" stroke="#0c0c0c" stroke-width="0.5"/>
<path d="M114.4,418.9 Q102.9,416.9 93.4,423.6 Q104.9,425.6 114.4,418.9Z" fill="#c9c9c9" stroke="#ececec" stroke-width="0.5"/>
<path d="M60.3,427.9 Q69.9,432.8 80.6,433.9 Q71.0,429.0 60.3,427.9Z" fill="#0c0c0c" stroke="#0c0c0c" stroke-width="0.5"/>
<path d="M58.8,426.0 Q68.5,430.7 79.1,432.0 Q69.5,427.3 58.8,426.0Z" fill="#e3e3e3" stroke="#ffffff" stroke-width="0.5"/>
<path d="M80.2,417.4 Q81.4,426.6 84.5,435.3 Q83.3,426.1 80.2,417.4Z" fill="#0c0c0c" stroke="#0c0c0c" stroke-width="0.5"/>
<path d="M78.7,415.5 Q80.0,424.6 83.0,433.4 Q81.7,424.2 78.7,415.5Z" fill="#c8c8c8" stroke="#ebebeb" stroke-width="0.5"/>
<path d="M114.3,445.0 Q98.4,448.1 84.0,455.5 Q99.9,452.4 114.3,445.0Z" fill="#0c0c0c" stroke="#0c0c0c" stroke-width="0.5"/>
<path d="M112.8,443.1 Q97.0,446.5 82.5,453.6 Q98.3,450.2 112.8,443.1Z" fill="#d6d6d6" stroke="#f9f9f9" stroke-width="0.5"/>
<path d="M17.9,417.8 Q26.3,422.9 35.8,425.1 Q27.4,420.1 17.9,417.8Z" fill="#0c0c0c" stroke="#0c0c0c" stroke-width="0.5"/>
<path d="M16.4,415.9 Q24.9,420.8 34.3,423.2 Q25.9,418.4 16.4,415.9Z" fill="#dedede" stroke="#ffffff" stroke-width="0.5"/>
<path d="M76.7,413.6 Q85.1,422.8 97.5,424.5 Q89.1,415.3 76.7,413.6Z" fill="#0c0c0c" stroke="#0c0c0c" stroke-width="0.5"/>
<path d="M75.2,411.7 Q83.9,420.4 96.0,422.6 Q87.3,413.8 75.2,411.7Z" fill="#c3c3c3" stroke="#e6e6e6" stroke-width="0.5"/>
<path d="M27.4,400.2 Q38.5,409.3 52.3,405.4 Q41.2,396.4 27.4,400.2Z" fill="#0c0c0c" stroke="#0c0c0c" stroke-width="0.5"/>
<path d="M25.9,398.3 Q37.2,406.5 50.8,403.5 Q39.5,395.3 25.9,398.3Z" fill="#b6b6b6" stroke="#d9d9d9" stroke-width="0.5"/>
<path d="M121.0,396.0 Q112.3,408.6 118.3,422.6 Q127.0,410.1 121.0,396.0Z" fill="#0c0c0c" stroke="#0c0c0c" stroke-width="0.5"/>
<path d="M119.5,394.1 Q111.8,406.8 116.8,420.7 Q124.5,408.1 119.5,394.1Z" fill="#b7b7b7" stroke="#dadada" stroke-width="0.5"/>
<path d="M46.8,432.4 Q54.7,442.5 67.3,445.0 Q59.4,434.9 46.8,432.4Z" fill="#0c0c0c" stroke="#0c0c0c" stroke-width="0.5"/>
<path d="M45.3,430.5 Q53.5,440.1 65.8,443.1 Q57.6,433.5 45.3,430.5Z" fill="#c9c9c9" stroke="#ececec" stroke-width="0.5"/>
<path d="M92.5,399.8 Q81.6,403.3 82.9,414.6 Q93.8,411.1 92.5,399.8Z" fill="#0c0c0c" stroke="#0c0c0c" stroke-width="0.5"/>
<path d="M91.0,397.9 Q80.9,401.9 81.4,412.7 Q91.5,408.7 91.0,397.9Z" fill="#b3b3b3" stroke="#d6d6d6" stroke-width="0.5"/>
<path d="M110.9,443.1 Q119.4,449.6 130.0,448.1 Q121.5,441.6 110.9,443.1Z" fill="#0c0c0c" stroke="#0c0c0c" stroke-width="0.5"/>
<path d="M109.4,441.2 Q118.0,447.2 128.5,446.2 Q119.9,440.2 109.4,441.2Z" fill="#c0c0c0" stroke="#e3e3e3" stroke-width="0.5"/>
<path d="M97.1,446.8 Q84.7,445.8 73.7,451.7 Q86.1,452.7 97.1,446.8Z" fill="#0c0c0c" stroke="#0c0c0c" stroke-width="0.5"/>
<path d="M95.6,444.9 Q83.3,444.3 72.2,449.8 Q84.5,450.3 95.6,444.9Z" fill="#bebebe" stroke="#e1e1e1" stroke-width="0.5"/>
<path d="M105.5,437.0 Q92.8,438.2 86.7,449.3 Q99.4,448.1 105.5,437.0Z" fill="#0c0c0c" stroke="#0c0c0c" stroke-width="0.5"/>
<path d="M104.0,435.1 Q91.8,436.9 85.2,447.4 Q97.4,445.6 104.0,435.1Z" fill="#bcbcbc" stroke="#dfdfdf" stroke-width="0.5"/>
<path d="M122.0,421.2 Q111.9,425.3 114.7,435.7 Q124.8,431.7 122.0,421.2Z" fill="#0c0c0c" stroke="#0c0c0c" stroke-width="0.5"/>
<path d="M120.5,419.3 Q111.2,423.8 113.2,433.8 Q122.5,429.3 120.5,419.3Z" fill="#c0c0c0" stroke="#e3e3e3" stroke-width="0.5"/>
<path d="M77.9,391.0 Q88.7,401.5 103.7,400.1 Q92.9,389.7 77.9,391.0Z" fill="#0c0c0c" stroke="#0c0c0c" stroke-width="0.5"/>
<path d="M76.4,389.1 Q87.5,398.8 102.2,398.2 Q91.1,388.5 76.4,389.1Z" fill="#acacac" stroke="#cfcfcf" stroke-width="0.5"/>
<path d="M54.5,386.6 Q60.7,392.9 68.9,396.2 Q62.7,389.9 54.5,386.6Z" fill="#0c0c0c" stroke="#0c0c0c" stroke-width="0.5"/>
<path d="M53.0,384.7 Q59.3,390.8 67.4,394.3 Q61.0,388.2 53.0,384.7Z" fill="#e8e8e8" stroke="#ffffff" stroke-width="0.5"/>
<path d="M76.1,400.2 Q85.4,408.5 96.3,414.7 Q87.0,406.4 76.1,400.2Z" fill="#0c0c0c" stroke="#0c0c0c" stroke-width="0.5"/>
<path d="M74.6,398.3 Q84.0,406.5 94.8,412.8 Q85.4,404.6 74.6,398.3Z" fill="#cecece" stroke="#f1f1f1" stroke-width="0.5"/>
<path d="M64.8,394.8 Q57.7,407.0 53.2,420.3 Q60.3,408.2 64.8,394.8Z" fill="#0c0c0c" stroke="#0c0c0c" stroke-width="0.5"/>
<path d="M63.3,392.9 Q56.4,405.1 51.7,418.4 Q58.7,406.2 63.3,392.9Z" fill="#cfcfcf" stroke="#f2f2f2" stroke-width="0.5"/>
<path d="M94.8,402.7 Q100.2,419.6 107.8,435.7 Q102.4,418.8 94.8,402.7Z" fill="#0c0c0c" stroke="#0c0c0c" stroke-width="0.5"/>
<path d="M93.3,400.8 Q98.9,417.7 106.3,433.8 Q100.7,416.9 93.3,400.8Z" fill="#d1d1d1" stroke="#f4f4f4" stroke-width="0.5"/>
<path d="M37.7,436.5 Q40.2,446.6 50.1,449.6 Q47.6,439.5 37.7,436.5Z" fill="#0c0c0c" stroke="#0c0c0c" stroke-width="0.5"/>
<path d="M36.2,434.6 Q39.1,444.3 48.6,447.7 Q45.6,438.1 36.2,434.6Z" fill="#aaaaaa" stroke="#cdcdcd" stroke-width="0.5"/>
<path d="M112.1,430.8 Q100.7,442.5 93.0,456.9 Q104.4,445.2 112.1,430.8Z" fill="#0c0c0c" stroke="#0c0c0c" stroke-width="0.5"/>
<path d="M110.6,428.9 Q99.5,440.8 91.5,455.0 Q102.6,443.1 110.6,428.9Z" fill="#cacaca" stroke="#ededed" stroke-width="0.5"/>
<path d="M101.5,396.6 Q103.6,404.9 107.4,412.5 Q105.3,404.3 101.5,396.6Z" fill="#0c0c0c" stroke="#0c0c0c" stroke-width="0.5"/>
<path d="M100.0,394.7 Q102.2,403.0 105.9,410.6 Q103.7,402.4 100.0,394.7Z" fill="#c2c2c2" stroke="#e5e5e5" stroke-width="0.5"/>
<path d="M109.4,416.6 Q94.7,418.3 88.4,431.7 Q103.1,430.0 109.4,416.6Z" fill="#0c0c0c" stroke="#0c0c0c" stroke-width="0.5"/>
<path d="M107.9,414.7 Q93.7,417.2 86.9,429.8 Q101.0,427.3 107.9,414.7Z" fill="#d5d5d5" stroke="#f8f8f8" stroke-width="0.5"/>
<path d="M40.7,406.2 Q28.9,416.9 19.4,429.8 Q31.2,419.0 40.7,406.2Z" fill="#0c0c0c" stroke="#0c0c0c" stroke-width="0.5"/>
<path d="M39.2,404.3 Q27.5,415.1 17.9,427.9 Q29.6,417.0 39.2,404.3Z" fill="#c0c0c0" stroke="#e3e3e3" stroke-width="0.5"/>
<path d="M77.5,395.0 Q69.0,390.5 62.3,397.5 Q70.9,402.1 77.5,395.0Z" fill="#0c0c0c" stroke="#0c0c0c" stroke-width="0.5"/>
<path d="M76.0,393.1 Q67.6,389.3 60.8,395.6 Q69.3,399.4 76.0,393.1Z" fill="#bebebe" stroke="#e1e1e1" stroke-width="0.5"/>
<path d="M46.6,430.9 Q39.0,439.7 33.3,449.7 Q40.8,440.9 46.6,430.9Z" fill="#0c0c0c" stroke="#0c0c0c" stroke-width="0.5"/>
<path d="M45.1,429.0 Q37.7,437.9 31.8,447.8 Q39.2,439.0 45.1,429.0Z" fill="#eaeaea" stroke="#ffffff" stroke-width="0.5"/>
<path d="M84.3,436.7 Q86.5,446.7 91.9,455.4 Q89.7,445.4 84.3,436.7Z" fill="#0c0c0c" stroke="#0c0c0c" stroke-width="0.5"/>
<path d="M82.8,434.8 Q85.2,444.7 90.4,453.5 Q88.0,443.6 82.8,434.8Z" fill="#e7e7e7" stroke="#ffffff" stroke-width="0.5"/>
<path d="M95.0,402.3 Q79.4,402.1 64.2,405.7 Q79.8,405.9 95.0,402.3Z" fill="#0c0c0c" stroke="#0c0c0c" stroke-width="0.5"/>
<path d="M93.5,400.4 Q77.9,400.4 62.7,403.8 Q78.3,403.7 93.5,400.4Z" fill="#d8d8d8" stroke="#fbfbfb" stroke-width="0.5"/>
<path d="M32.7,381.2 Q34.6,395.4 45.1,405.2 Q43.2,391.0 32.7,381.2Z" fill="#0c0c0c" stroke="#0c0c0c" stroke-width="0.5"/>
<path d="M31.2,379.3 Q33.6,393.2 43.6,403.3 Q41.1,389.4 31.2,379.3Z" fill="#c3c3c3" stroke="#e6e6e6" stroke-width="0.5"/>
<path d="M86.9,419.0 Q96.1,431.9 107.9,442.4 Q98.7,429.5 86.9,419.0Z" fill="#0c0c0c" stroke="#0c0c0c" stroke-width="0.5"/>
<path d="M85.4,417.1 Q94.8,429.9 106.4,440.5 Q97.1,427.8 85.4,417.1Z" fill="#e3e3e3" stroke="#ffffff" stroke-width="0.5"/>
<path d="M55.6,398.4 Q46.2,398.4 37.7,402.5 Q47.1,402.5 55.6,398.4Z" fill="#0c0c0c" stroke="#0c0c0c" stroke-width="0.5"/>
<path d="M54.1,396.5 Q44.7,396.8 36.2,400.6 Q45.6,400.3 54.1,396.5Z" fill="#eaeaea" stroke="#ffffff" stroke-width="0.5"/>
<path d="M124.2,436.2 Q116.8,440.1 112.4,447.2 Q119.8,443.3 124.2,436.2Z" fill="#0c0c0c" stroke="#0c0c0c" stroke-width="0.5"/>
<path d="M122.7,434.3 Q115.5,438.4 110.9,445.3 Q118.1,441.2 122.7,434.3Z" fill="#cdcdcd" stroke="#f0f0f0" stroke-width="0.5"/>
<path d="M97.3,423.5 Q86.3,420.3 77.2,427.3 Q88.2,430.5 97.3,423.5Z" fill="#0c0c0c" stroke="#0c0c0c" stroke-width="0.5"/>
<path d="M95.8,421.6 Q84.9,419.0 75.7,425.4 Q86.6,427.9 95.8,421.6Z" fill="#c5c5c5" stroke="#e8e8e8" stroke-width="0.5"/>
<path d="M64.2,414.3 Q58.8,429.5 56.6,445.4 Q62.0,430.3 64.2,414.3Z" fill="#0c0c0c" stroke="#0c0c0c" stroke-width="0.5"/>
<path d="M62.7,412.4 Q57.5,427.6 55.1,443.5 Q60.3,428.3 62.7,412.4Z" fill="#dfdfdf" stroke="#ffffff" stroke-width="0.5"/>
<path d="M44.2,400.7 Q31.3,405.1 26.5,417.8 Q39.4,413.4 44.2,400.7Z" fill="#0c0c0c" stroke="#0c0c0c" stroke-width="0.5"/>
<path d="M42.7,398.8 Q30.4,403.7 25.0,415.9 Q37.4,411.0 42.7,398.8Z" fill="#cbcbcb" stroke="#eeeeee" stroke-width="0.5"/>
<path d="M75.3,423.6 Q65.9,430.2 66.4,441.7 Q75.8,435.1 75.3,423.6Z" fill="#0c0c0c" stroke="#0c0c0c" stroke-width="0.5"/>
<path d="M73.8,421.7 Q65.0,428.6 64.9,439.8 Q73.6,432.9 73.8,421.7Z" fill="#b7b7b7" stroke="#dadada" stroke-width="0.5"/>
<path d="M62.7,393.8 Q56.2,402.4 60.4,412.2 Q67.0,403.7 62.7,393.8Z" fill="#0c0c0c" stroke="#0c0c0c" stroke-width="0.5"/>
<path d="M61.2,391.9 Q55.4,400.5 58.9,410.3 Q64.8,401.7 61.2,391.9Z" fill="#adadad" stroke="#d0d0d0" stroke-width="0.5"/>
<path d="M41.1,439.4 Q51.8,446.3 63.4,441.1 Q52.7,434.2 41.1,439.4Z" fill="#0c0c0c" stroke="#0c0c0c" stroke-width="0.5"/>
<path d="M39.6,437.5 Q50.4,443.6 61.9,439.2 Q51.1,433.1 39.6,437.5Z" fill="#d3d3d3" stroke="#f6f6f6" stroke-width="0.5"/>
<path d="M31.8,431.1 Q42.8,440.2 56.5,436.5 Q45.6,427.4 31.8,431.1Z" fill="#0c0c0c" stroke="#0c0c0c" stroke-width="0.5"/>
<path d="M30.3,429.2 Q41.5,437.5 55.0,434.6 Q43.9,426.3 30.3,429.2Z" fill="#bcbcbc" stroke="#dfdfdf" stroke-width="0.5"/>
<path d="M59.2,443.0 Q68.5,448.9 79.1,446.0 Q69.8,440.1 59.2,443.0Z" fill="#0c0c0c" stroke="#0c0c0c" stroke-width="0.5"/>
<path d="M57.7,441.1 Q67.1,446.4 77.6,444.1 Q68.2,438.8 57.7,441.1Z" fill="#cacaca" stroke="#ededed" stroke-width="0.5"/>
<path d="M63.9,414.5 Q51.5,413.8 43.0,422.7 Q55.3,423.4 63.9,414.5Z" fill="#0c0c0c" stroke="#0c0c0c" stroke-width="0.5"/>
<path d="M62.4,412.6 Q50.3,412.5 41.5,420.8 Q53.6,420.9 62.4,412.6Z" fill="#c2c2c2" stroke="#e5e5e5" stroke-width="0.5"/>
<path d="M92.3,422.4 Q105.9,425.6 119.9,426.6 Q106.3,423.5 92.3,422.4Z" fill="#0c0c0c" stroke="#0c0c0c" stroke-width="0.5"/>
<path d="M90.8,420.5 Q104.5,423.5 118.4,424.7 Q104.7,421.7 90.8,420.5Z" fill="#d7d7d7" stroke="#fafafa" stroke-width="0.5"/>
<path d="M53.3,402.5 Q52.6,415.8 62.3,424.7 Q63.1,411.5 53.3,402.5Z" fill="#0c0c0c" stroke="#0c0c0c" stroke-width="0.5"/>
<path d="M51.8,400.6 Q51.8,413.6 60.8,422.8 Q60.9,409.9 51.8,400.6Z" fill="#a2a2a2" stroke="#c5c5c5" stroke-width="0.5"/>
<path d="M55.1,410.4 Q55.6,423.1 58.6,435.5 Q58.1,422.8 55.1,410.4Z" fill="#0c0c0c" stroke="#0c0c0c" stroke-width="0.5"/>
<path d="M53.6,408.5 Q54.3,421.2 57.1,433.6 Q56.4,420.9 53.6,408.5Z" fill="#e5e5e5" stroke="#ffffff" stroke-width="0.5"/>
<path d="M29.6,415.7 Q23.7,426.4 32.6,434.9 Q38.5,424.2 29.6,415.7Z" fill="#0c0c0c" stroke="#0c0c0c" stroke-width="0.5"/>
<path d="M28.1,413.8 Q23.2,424.4 31.1,433.0 Q36.0,422.4 28.1,413.8Z" fill="#b7b7b7" stroke="#dadada" stroke-width="0.5"/>
<path d="M31.7,432.0 Q21.6,429.4 12.8,434.9 Q22.9,437.5 31.7,432.0Z" fill="#0c0c0c" stroke="#0c0c0c" stroke-width="0.5"/>
<path d="M30.2,430.1 Q20.2,428.0 11.3,433.0 Q21.3,435.0 30.2,430.1Z" fill="#d1d1d1" stroke="#f4f4f4" stroke-width="0.5"/>
<path d="M125.9,391.1 Q111.4,393.7 104.0,406.4 Q118.5,403.8 125.9,391.1Z" fill="#0c0c0c" stroke="#0c0c0c" stroke-width="0.5"/>
<path d="M124.4,389.2 Q110.4,392.4 102.5,404.5 Q116.5,401.3 124.4,389.2Z" fill="#adadad" stroke="#d0d0d0" stroke-width="0.5"/>
<path d="M55.7,413.4 Q41.1,412.8 29.7,421.9 Q44.3,422.5 55.7,413.4Z" fill="#0c0c0c" stroke="#0c0c0c" stroke-width="0.5"/>
<path d="M54.2,411.5 Q39.8,411.5 28.2,420.0 Q42.6,419.9 54.2,411.5Z" fill="#dbdbdb" stroke="#fefefe" stroke-width="0.5"/>
<path d="M36.1,437.8 Q49.2,446.8 63.6,453.4 Q50.5,444.4 36.1,437.8Z" fill="#0c0c0c" stroke="#0c0c0c" stroke-width="0.5"/>
<path d="M34.6,435.9 Q47.8,444.7 62.1,451.5 Q48.9,442.6 34.6,435.9Z" fill="#cecece" stroke="#f1f1f1" stroke-width="0.5"/>
<path d="M88.9,440.1 Q81.7,435.6 74.9,440.6 Q82.1,445.0 88.9,440.1Z" fill="#0c0c0c" stroke="#0c0c0c" stroke-width="0.5"/>
<path d="M87.4,438.2 Q80.3,434.3 73.4,438.7 Q80.5,442.5 87.4,438.2Z" fill="#b2b2b2" stroke="#d5d5d5" stroke-width="0.5"/>
<path d="M49.9,397.7 Q45.4,409.5 48.0,421.8 Q52.5,410.1 49.9,397.7Z" fill="#0c0c0c" stroke="#0c0c0c" stroke-width="0.5"/>
<path d="M48.4,395.8 Q44.4,407.6 46.5,419.9 Q50.5,408.1 48.4,395.8Z" fill="#acacac" stroke="#cfcfcf" stroke-width="0.5"/>
<path d="M80.7,389.1 Q76.9,398.4 83.0,406.3 Q86.8,397.0 80.7,389.1Z" fill="#0c0c0c" stroke="#0c0c0c" stroke-width="0.5"/>
<path d="M79.2,387.2 Q76.0,396.4 81.5,404.4 Q84.7,395.2 79.2,387.2Z" fill="#bdbdbd" stroke="#e0e0e0" stroke-width="0.5"/>
<path d="M30.0,427.9 Q24.2,435.9 21.1,445.3 Q26.9,437.3 30.0,427.9Z" fill="#0c0c0c" stroke="#0c0c0c" stroke-width="0.5"/>
<path d="M28.5,426.0 Q22.9,434.1 19.6,443.4 Q25.3,435.3 28.5,426.0Z" fill="#d0d0d0" stroke="#f3f3f3" stroke-width="0.5"/>
<path d="M54.5,420.0 Q65.4,429.3 79.3,425.8 Q68.4,416.6 54.5,420.0Z" fill="#0c0c0c" stroke="#0c0c0c" stroke-width="0.5"/>
<path d="M53.0,418.1 Q64.1,426.5 77.8,423.9 Q66.7,415.5 53.0,418.1Z" fill="#bababa" stroke="#dddddd" stroke-width="0.5"/>
<path d="M64.6,380.8 Q54.6,390.1 47.0,401.4 Q57.0,392.1 64.6,380.8Z" fill="#0c0c0c" stroke="#0c0c0c" stroke-width="0.5"/>
<path d="M63.1,378.9 Q53.3,388.3 45.5,399.5 Q55.3,390.0 63.1,378.9Z" fill="#d7d7d7" stroke="#fafafa" stroke-width="0.5"/>
<path d="M122.8,395.7 Q108.5,395.6 94.6,398.4 Q108.8,398.6 122.8,395.7Z" fill="#0c0c0c" stroke="#0c0c0c" stroke-width="0.5"/>
<path d="M121.3,393.8 Q107.1,393.9 93.1,396.5 Q107.3,396.5 121.3,393.8Z" fill="#dfdfdf" stroke="#ffffff" stroke-width="0.5"/>
<path d="M128.0,381.5 Q117.5,394.0 108.7,407.8 Q119.3,395.3 128.0,381.5Z" fill="#0c0c0c" stroke="#0c0c0c" stroke-width="0.5"/>
<path d="M126.5,379.6 Q116.1,392.1 107.2,405.9 Q117.6,393.3 126.5,379.6Z" fill="#cfcfcf" stroke="#f2f2f2" stroke-width="0.5"/>
<path d="M84.1,425.6 Q83.3,435.4 90.4,442.2 Q91.2,432.4 84.1,425.6Z" fill="#0c0c0c" stroke="#0c0c0c" stroke-width="0.5"/>
<path d="M82.6,423.7 Q82.4,433.3 88.9,440.3 Q89.2,430.7 82.6,423.7Z" fill="#d9d9d9" stroke="#fcfcfc" stroke-width="0.5"/>
<path d="M81.9,433.9 Q93.2,443.5 107.7,440.5 Q96.4,431.0 81.9,433.9Z" fill="#0c0c0c" stroke="#0c0c0c" stroke-width="0.5"/>
<path d="M80.4,432.0 Q91.9,440.8 106.2,438.6 Q94.7,429.9 80.4,432.0Z" fill="#cdcdcd" stroke="#f0f0f0" stroke-width="0.5"/>
<path d="M23.5,441.5 Q28.5,453.1 40.8,456.0 Q35.8,444.4 23.5,441.5Z" fill="#0c0c0c" stroke="#0c0c0c" stroke-width="0.5"/>
<path d="M22.0,439.6 Q27.5,450.6 39.3,454.1 Q33.9,443.0 22.0,439.6Z" fill="#c5c5c5" stroke="#e8e8e8" stroke-width="0.5"/>
<path d="M62.6,396.1 Q60.3,404.2 60.8,412.6 Q63.2,404.5 62.6,396.1Z" fill="#0c0c0c" stroke="#0c0c0c" stroke-width="0.5"/>
<path d="M61.1,394.2 Q59.0,402.3 59.3,410.7 Q61.5,402.6 61.1,394.2Z" fill="#e4e4e4" stroke="#ffffff" stroke-width="0.5"/>
<path d="M36.1,411.7 Q25.2,409.9 21.7,420.4 Q32.6,422.2 36.1,411.7Z" fill="#0c0c0c" stroke="#0c0c0c" stroke-width="0.5"/>
<path d="M34.6,409.8 Q24.2,408.8 20.2,418.5 Q30.6,419.5 34.6,409.8Z" fill="#d5d5d5" stroke="#f8f8f8" stroke-width="0.5"/>
<path d="M24.0,388.0 Q15.8,395.6 15.4,406.9 Q23.6,399.2 24.0,388.0Z" fill="#0c0c0c" stroke="#0c0c0c" stroke-width="0.5"/>
<path d="M22.5,386.1 Q14.8,394.0 13.9,405.0 Q21.6,397.1 22.5,386.1Z" fill="#cfcfcf" stroke="#f2f2f2" stroke-width="0.5"/>
<path d="M60.8,390.2 Q45.6,388.4 34.4,398.9 Q49.6,400.7 60.8,390.2Z" fill="#0c0c0c" stroke="#0c0c0c" stroke-width="0.5"/>
<path d="M59.3,388.3 Q44.3,387.3 32.9,397.0 Q47.8,398.0 59.3,388.3Z" fill="#bcbcbc" stroke="#dfdfdf" stroke-width="0.5"/>
<path d="M19.4,392.3 Q25.4,396.6 32.7,398.1 Q26.6,393.8 19.4,392.3Z" fill="#0c0c0c" stroke="#0c0c0c" stroke-width="0.5"/>
<path d="M17.9,390.4 Q24.0,394.5 31.2,396.2 Q25.1,392.1 17.9,390.4Z" fill="#dbdbdb" stroke="#fefefe" stroke-width="0.5"/>
<path d="M71.3,418.5 Q77.5,431.5 90.6,437.2 Q84.4,424.3 71.3,418.5Z" fill="#0c0c0c" stroke="#0c0c0c" stroke-width="0.5"/>
<path d="M69.8,416.6 Q76.4,429.1 89.1,435.3 Q82.5,422.8 69.8,416.6Z" fill="#c4c4c4" stroke="#e7e7e7" stroke-width="0.5"/>
<path d="M36.5,424.0 Q24.7,425.0 15.6,432.7 Q27.4,431.6 36.5,424.0Z" fill="#0c0c0c" stroke="#0c0c0c" stroke-width="0.5"/>
<path d="M35.0,422.1 Q23.4,423.5 14.1,430.8 Q25.7,429.3 35.0,422.1Z" fill="#b3b3b3" stroke="#d6d6d6" stroke-width="0.5"/>
<path d="M24.7,397.5 Q21.1,406.1 24.5,414.8 Q28.1,406.2 24.7,397.5Z" fill="#0c0c0c" stroke="#0c0c0c" stroke-width="0.5"/>
<path d="M23.2,395.6 Q20.1,404.2 23.0,412.9 Q26.1,404.3 23.2,395.6Z" fill="#b6b6b6" stroke="#d9d9d9" stroke-width="0.5"/>
<path d="M54.6,423.4 Q43.1,422.5 35.1,430.9 Q46.6,431.8 54.6,423.4Z" fill="#0c0c0c" stroke="#0c0c0c" stroke-width="0.5"/>
<path d="M53.1,421.5 Q41.8,421.2 33.6,429.0 Q44.9,429.2 53.1,421.5Z" fill="#aeaeae" stroke="#d1d1d1" stroke-width="0.5"/>
<path d="M24.1,430.9 Q21.7,442.7 21.2,454.8 Q23.6,443.0 24.1,430.9Z" fill="#0c0c0c" stroke="#0c0c0c" stroke-width="0.5"/>
<path d="M22.6,429.0 Q20.3,440.8 19.7,452.9 Q22.0,441.0 22.6,429.0Z" fill="#e7e7e7" stroke="#ffffff" stroke-width="0.5"/>
<path d="M54.5,415.9 Q47.0,424.1 52.5,433.7 Q60.0,425.5 54.5,415.9Z" fill="#0c0c0c" stroke="#0c0c0c" stroke-width="0.5"/>
<path d="M53.0,414.0 Q46.4,422.3 51.0,431.8 Q57.7,423.5 53.0,414.0Z" fill="#a0a0a0" stroke="#c3c3c3" stroke-width="0.5"/>
<path d="M47.8,425.9 Q47.4,435.5 50.5,444.6 Q50.9,435.0 47.8,425.9Z" fill="#0c0c0c" stroke="#0c0c0c" stroke-width="0.5"/>
<path d="M46.3,424.0 Q46.2,433.6 49.0,442.7 Q49.1,433.1 46.3,424.0Z" fill="#dbdbdb" stroke="#fefefe" stroke-width="0.5"/>
<path d="M44.3,389.5 Q32.4,399.0 24.0,411.7 Q35.8,402.1 44.3,389.5Z" fill="#0c0c0c" stroke="#0c0c0c" stroke-width="0.5"/>
<path d="M42.8,387.6 Q31.2,397.3 22.5,409.8 Q34.1,400.0 42.8,387.6Z" fill="#d0d0d0" stroke="#f3f3f3" stroke-width="0.5"/>
<path d="M80.9,387.2 Q82.6,401.8 87.7,415.6 Q86.0,400.9 80.9,387.2Z" fill="#0c0c0c" stroke="#0c0c0c" stroke-width="0.5"/>
<path d="M79.4,385.3 Q81.3,399.8 86.2,413.7 Q84.3,399.1 79.4,385.3Z" fill="#d5d5d5" stroke="#f8f8f8" stroke-width="0.5"/>
<path d="M126.5,415.5 Q118.0,415.9 115.3,424.0 Q123.8,423.7 126.5,415.5Z" fill="#0c0c0c" stroke="#0c0c0c" stroke-width="0.5"/>
<path d="M125.0,413.6 Q116.9,414.5 113.8,422.1 Q122.0,421.2 125.0,413.6Z" fill="#c4c4c4" stroke="#e7e7e7" stroke-width="0.5"/>
<path d="M100.1,389.7 Q92.2,394.7 89.9,403.8 Q97.8,398.8 100.1,389.7Z" fill="#0c0c0c" stroke="#0c0c0c" stroke-width="0.5"/>
<path d="M98.6,387.8 Q91.0,393.1 88.4,401.9 Q95.9,396.6 98.6,387.8Z" fill="#c0c0c0" stroke="#e3e3e3" stroke-width="0.5"/>
<path d="M37.3,388.6 Q26.7,386.1 21.5,395.7 Q32.1,398.1 37.3,388.6Z" fill="#0c0c0c" stroke="#0c0c0c" stroke-width="0.5"/>
<path d="M35.8,386.7 Q25.6,385.0 20.0,393.8 Q30.2,395.4 35.8,386.7Z" fill="#acacac" stroke="#cfcfcf" stroke-width="0.5"/>
<path d="M95.9,411.4 Q105.5,418.8 116.6,413.8 Q107.0,406.5 95.9,411.4Z" fill="#0c0c0c" stroke="#0c0c0c" stroke-width="0.5"/>
<path d="M94.4,409.5 Q104.1,416.1 115.1,411.9 Q105.4,405.4 94.4,409.5Z" fill="#c7c7c7" stroke="#eaeaea" stroke-width="0.5"/>
<path d="M38.4,412.9 Q44.6,420.1 52.8,424.7 Q46.6,417.6 38.4,412.9Z" fill="#0c0c0c" stroke="#0c0c0c" stroke-width="0.5"/>
<path d="M36.9,411.0 Q43.2,418.0 51.3,422.8 Q45.0,415.8 36.9,411.0Z" fill="#e1e1e1" stroke="#ffffff" stroke-width="0.5"/>
<path d="M50.3,429.0 Q58.3,444.1 68.7,457.6 Q60.7,442.5 50.3,429.0Z" fill="#0c0c0c" stroke="#0c0c0c" stroke-width="0.5"/>
<path d="M48.8,427.1 Q57.0,442.1 67.2,455.7 Q59.0,440.7 48.8,427.1Z" fill="#e5e5e5" stroke="#ffffff" stroke-width="0.5"/>
<path d="M47.5,431.6 Q44.7,446.8 55.5,457.9 Q58.3,442.7 47.5,431.6Z" fill="#0c0c0c" stroke="#0c0c0c" stroke-width="0.5"/>
<path d="M46.0,429.7 Q44.1,444.6 54.0,456.0 Q55.9,441.0 46.0,429.7Z" fill="#a8a8a8" stroke="#cbcbcb" stroke-width="0.5"/>
<path d="M62.5,415.9 Q60.3,423.6 60.6,431.6 Q62.8,423.9 62.5,415.9Z" fill="#0c0c0c" stroke="#0c0c0c" stroke-width="0.5"/>
<path d="M61.0,414.0 Q59.0,421.7 59.1,429.7 Q61.1,422.0 61.0,414.0Z" fill="#dbdbdb" stroke="#fefefe" stroke-width="0.5"/>
<path d="M84.9,391.7 Q69.7,395.3 55.7,402.1 Q70.8,398.5 84.9,391.7Z" fill="#0c0c0c" stroke="#0c0c0c" stroke-width="0.5"/>
<path d="M83.4,389.8 Q68.3,393.6 54.2,400.2 Q69.3,396.4 83.4,389.8Z" fill="#c7c7c7" stroke="#eaeaea" stroke-width="0.5"/>
<path d="M97.3,433.6 Q108.7,440.9 122.2,439.9 Q110.8,432.6 97.3,433.6Z" fill="#0c0c0c" stroke="#0c0c0c" stroke-width="0.5"/>
<path d="M95.8,431.7 Q107.3,438.5 120.7,438.0 Q109.2,431.2 95.8,431.7Z" fill="#a2a2a2" stroke="#c5c5c5" stroke-width="0.5"/>
<path d="M110.1,439.4 Q101.1,444.5 103.7,454.5 Q112.7,449.5 110.1,439.4Z" fill="#0c0c0c" stroke="#0c0c0c" stroke-width="0.5"/>
<path d="M108.6,437.5 Q100.3,442.9 102.2,452.6 Q110.4,447.2 108.6,437.5Z" fill="#bdbdbd" stroke="#e0e0e0" stroke-width="0.5"/>
<path d="M33.7,423.5 Q39.5,436.5 47.7,448.1 Q42.0,435.1 33.7,423.5Z" fill="#0c0c0c" stroke="#0c0c0c" stroke-width="0.5"/>
<path d="M32.2,421.6 Q38.2,434.5 46.2,446.2 Q40.3,433.3 32.2,421.6Z" fill="#c7c7c7" stroke="#eaeaea" stroke-width="0.5"/>
<path d="M37.0,422.4 Q24.0,429.8 19.4,444.0 Q32.4,436.7 37.0,422.4Z" fill="#0c0c0c" stroke="#0c0c0c" stroke-width="0.5"/>
<path d="M35.5,420.5 Q23.0,428.3 17.9,442.1 Q30.4,434.3 35.5,420.5Z" fill="#bdbdbd" stroke="#e0e0e0" stroke-width="0.5"/>
<path d="M47.2,391.8 Q57.0,396.6 67.4,393.4 Q57.6,388.6 47.2,391.8Z" fill="#0c0c0c" stroke="#0c0c0c" stroke-width="0.5"/>
<path d="M45.7,389.9 Q55.5,394.2 65.9,391.5 Q56.1,387.2 45.7,389.9Z" fill="#d4d4d4" stroke="#f7f7f7" stroke-width="0.5"/>
<path d="M100.6,400.3 Q109.7,408.6 121.3,404.8 Q112.3,396.5 100.6,400.3Z" fill="#0c0c0c" stroke="#0c0c0c" stroke-width="0.5"/>
<path d="M99.1,398.4 Q108.3,405.9 119.8,402.9 Q110.6,395.4 99.1,398.4Z" fill="#ababab" stroke="#cecece" stroke-width="0.5"/>
<path d="M107.2,397.4 Q96.2,411.3 88.7,427.4 Q99.8,413.5 107.2,397.4Z" fill="#0c0c0c" stroke="#0c0c0c" stroke-width="0.5"/>
<path d="M105.7,395.5 Q94.9,409.5 87.2,425.5 Q98.1,411.5 105.7,395.5Z" fill="#cacaca" stroke="#ededed" stroke-width="0.5"/>
<path d="M55.8,434.4 Q52.3,445.4 62.1,451.6 Q65.6,440.6 55.8,434.4Z" fill="#0c0c0c" stroke="#0c0c0c" stroke-width="0.5"/>
<path d="M54.3,432.5 Q51.7,443.2 60.6,449.7 Q63.2,439.0 54.3,432.5Z" fill="#b1b1b1" stroke="#d4d4d4" stroke-width="0.5"/>
<path d="M123.2,416.8 Q118.2,429.0 117.3,442.3 Q122.3,430.0 123.2,416.8Z" fill="#0c0c0c" stroke="#0c0c0c" stroke-width="0.5"/>
<path d="M121.7,414.9 Q117.0,427.2 115.8,440.4 Q120.5,428.0 121.7,414.9Z" fill="#e8e8e8" stroke="#ffffff" stroke-width="0.5"/>
<path d="M87.2,407.1 Q76.7,416.1 77.6,429.8 Q88.1,420.9 87.2,407.1Z" fill="#0c0c0c" stroke="#0c0c0c" stroke-width="0.5"/>
<path d="M85.7,405.2 Q76.0,414.5 76.1,427.9 Q85.8,418.7 85.7,405.2Z" fill="#d3d3d3" stroke="#f6f6f6" stroke-width="0.5"/>
<path d="M65.0,400.0 Q67.1,413.0 78.4,419.7 Q76.3,406.7 65.0,400.0Z" fill="#0c0c0c" stroke="#0c0c0c" stroke-width="0.5"/>
<path d="M63.5,398.1 Q66.2,410.7 76.9,417.8 Q74.2,405.2 63.5,398.1Z" fill="#c1c1c1" stroke="#e4e4e4" stroke-width="0.5"/>
<path d="M17.8,439.5 Q14.6,450.9 21.0,460.9 Q24.2,449.5 17.8,439.5Z" fill="#0c0c0c" stroke="#0c0c0c" stroke-width="0.5"/>
<path d="M16.3,437.6 Q13.7,448.9 19.5,459.0 Q22.1,447.7 16.3,437.6Z" fill="#bdbdbd" stroke="#e0e0e0" stroke-width="0.5"/>
<path d="M128.1,392.7 Q120.4,406.8 115.2,421.9 Q122.8,407.8 128.1,392.7Z" fill="#0c0c0c" stroke="#0c0c0c" stroke-width="0.5"/>
<path d="M126.6,390.8 Q119.1,404.9 113.7,420.0 Q121.2,405.9 126.6,390.8Z" fill="#e5e5e5" stroke="#ffffff" stroke-width="0.5"/>
<path d="M58.1,438.4 Q70.9,444.8 84.9,448.3 Q72.0,441.9 58.1,438.4Z" fill="#0c0c0c" stroke="#0c0c0c" stroke-width="0.5"/>
<path d="M56.6,436.5 Q69.5,442.7 83.4,446.4 Q70.4,440.2 56.6,436.5Z" fill="#c9c9c9" stroke="#ececec" stroke-width="0.5"/>
<path d="M70.4,407.1 Q79.0,415.1 90.4,412.6 Q81.9,404.6 70.4,407.1Z" fill="#0c0c0c" stroke="#0c0c0c" stroke-width="0.5"/>
<path d="M68.9,405.2 Q77.7,412.5 88.9,410.7 Q80.2,403.4 68.9,405.2Z" fill="#cbcbcb" stroke="#eeeeee" stroke-width="0.5"/>
<path d="M111.6,423.8 Q103.3,431.9 97.3,441.9 Q105.6,433.7 111.6,423.8Z" fill="#0c0c0c" stroke="#0c0c0c" stroke-width="0.5"/>
<path d="M110.1,421.9 Q101.9,430.2 95.8,440.0 Q103.9,431.7 110.1,421.9Z" fill="#e2e2e2" stroke="#ffffff" stroke-width="0.5"/>
<path d="M89.5,382.2 Q96.3,397.7 106.7,411.1 Q99.9,395.6 89.5,382.2Z" fill="#0c0c0c" stroke="#0c0c0c" stroke-width="0.5"/>
<path d="M88.0,380.3 Q95.0,395.7 105.2,409.2 Q98.2,393.8 88.0,380.3Z" fill="#c5c5c5" stroke="#e8e8e8" stroke-width="0.5"/>
<path d="M93.5,391.4 Q90.5,405.2 97.3,417.6 Q100.3,403.8 93.5,391.4Z" fill="#0c0c0c" stroke="#0c0c0c" stroke-width="0.5"/>
<path d="M92.0,389.5 Q89.6,403.2 95.8,415.7 Q98.1,402.0 92.0,389.5Z" fill="#a8a8a8" stroke="#cbcbcb" stroke-width="0.5"/>
<path d="M101.4,411.5 Q96.5,418.5 100.0,426.2 Q104.9,419.2 101.4,411.5Z" fill="#0c0c0c" stroke="#0c0c0c" stroke-width="0.5"/>
<path d="M99.9,409.6 Q95.6,416.6 98.5,424.3 Q102.8,417.3 99.9,409.6Z" fill="#b8b8b8" stroke="#dbdbdb" stroke-width="0.5"/>
<path d="M78.6,407.0 Q70.4,418.6 64.6,431.7 Q72.9,420.1 78.6,407.0Z" fill="#0c0c0c" stroke="#0c0c0c" stroke-width="0.5"/>
<path d="M77.1,405.1 Q69.0,416.8 63.1,429.8 Q71.2,418.1 77.1,405.1Z" fill="#e6e6e6" stroke="#ffffff" stroke-width="0.5"/>
<path d="M71.5,421.3 Q59.7,426.8 52.5,437.6 Q64.2,432.1 71.5,421.3Z" fill="#0c0c0c" stroke="#0c0c0c" stroke-width="0.5"/>
<path d="M70.0,419.4 Q58.5,425.2 51.0,435.7 Q62.5,429.8 70.0,419.4Z" fill="#bbbbbb" stroke="#dedede" stroke-width="0.5"/>
<path d="M79.9,436.4 Q74.0,443.1 77.3,451.3 Q83.2,444.6 79.9,436.4Z" fill="#0c0c0c" stroke="#0c0c0c" stroke-width="0.5"/>
<path d="M78.4,434.5 Q73.1,441.3 75.8,449.4 Q81.1,442.6 78.4,434.5Z" fill="#d8d8d8" stroke="#fbfbfb" stroke-width="0.5"/>
<path d="M76.0,418.1 Q66.2,414.1 57.1,419.5 Q66.9,423.5 76.0,418.1Z" fill="#0c0c0c" stroke="#0c0c0c" stroke-width="0.5"/>
<path d="M74.5,416.2 Q64.8,412.8 55.6,417.6 Q65.4,421.0 74.5,416.2Z" fill="#dbdbdb" stroke="#fefefe" stroke-width="0.5"/>
<path d="M39.5,437.0 Q55.5,426.5 62.0,408.5 Q46.0,419.0 39.5,437.0Z" fill="url(#fl2)" stroke="#e8e8e8" stroke-width="0.5"/>
<path d="M17.0,431.0 Q31.3,429.0 43.0,420.5 Q28.7,422.5 17.0,431.0Z" fill="#cacaca" stroke="#e0e0e0" stroke-width="0.5"/>
<path d="M80.0,426.0 Q98.3,423.8 114.0,414.0 Q95.7,416.2 80.0,426.0Z" fill="#c4c4c4" stroke="#dcdcdc" stroke-width="0.5"/>
<path d="M22.0,446.0 Q40.5,446.0 58.0,440.0 Q39.5,440.0 22.0,446.0Z" fill="#bdbdbd" stroke="#d6d6d6" stroke-width="0.5"/>
</g>
<rect x="15.1" y="252.4" width="105.5" height="61.1" fill="none" stroke="#f4c5c0" stroke-width="1.1" stroke-dasharray="8 3" stroke-dashoffset="-1.5"/>
<rect x="15.1" y="320.5" width="105.5" height="61.1" fill="none" stroke="#f4c5c0" stroke-width="1.1" stroke-dasharray="8 3" stroke-dashoffset="-1.5"/>
<rect x="15.1" y="388.2" width="105.8" height="62.5" fill="none" stroke="#f4c5c0" stroke-width="1.1" stroke-dasharray="8 3" stroke-dashoffset="-1.5"/>
<text x="117.4" y="306.4" font-size="11.5" text-anchor="end" font-weight="normal" fill="#fff" stroke="#fff" stroke-width="0.2" >1.0 μm</text>
<line x1="97.5" y1="309.7" x2="116.4" y2="309.7" stroke="#fff" stroke-width="1.3"/>
<text x="117.4" y="374.1" font-size="11.5" text-anchor="end" font-weight="normal" fill="#fff" stroke="#fff" stroke-width="0.2" >1.0 μm</text>
<line x1="97.5" y1="377.4" x2="116.4" y2="377.4" stroke="#fff" stroke-width="1.3"/>
<text x="117.4" y="441.6" font-size="11.5" text-anchor="end" font-weight="normal" fill="#fff" stroke="#fff" stroke-width="0.2" >1.0 μm</text>
<line x1="97.5" y1="445.1" x2="116.4" y2="445.1" stroke="#fff" stroke-width="1.3"/>
<line x1="120.4" y1="283.3" x2="127.8" y2="296" stroke="#f4c5c0" stroke-width="1.2"/>
<line x1="120.4" y1="348.9" x2="127.8" y2="357.8" stroke="#f4c5c0" stroke-width="1.2"/>
<line x1="120.4" y1="419" x2="127.8" y2="424.5" stroke="#f4c5c0" stroke-width="1.2"/>
<rect x="127.6" y="252.2" width="119.9" height="18.6" fill="#f4c5c0" />
<rect x="127.6" y="270.8" width="119.9" height="44.9" fill="#f1f1f1" />
<rect x="249.2" y="252.2" width="119.80000000000001" height="18.6" fill="#f4c5c0" />
<rect x="249.2" y="270.8" width="119.80000000000001" height="44.9" fill="#f1f1f1" />
<rect x="127.6" y="317.2" width="119.9" height="18.6" fill="#f4c5c0" />
<rect x="127.6" y="335.8" width="119.9" height="45.59999999999999" fill="#f1f1f1" />
<rect x="249.2" y="317.2" width="119.80000000000001" height="18.6" fill="#f4c5c0" />
<rect x="249.2" y="335.8" width="119.80000000000001" height="45.59999999999999" fill="#f1f1f1" />
<rect x="127.6" y="382.5" width="119.9" height="18.6" fill="#f4c5c0" />
<rect x="127.6" y="401.1" width="119.9" height="49.9" fill="#f1f1f1" />
<rect x="249.2" y="382.5" width="119.80000000000001" height="18.6" fill="#f4c5c0" />
<rect x="249.2" y="401.1" width="119.80000000000001" height="49.9" fill="#f1f1f1" />
<g clip-path="url(#cc00)">
<rect x="127.6" y="295.5" width="119.9" height="20.2" fill="url(#g11)" />
<rect x="127.6" y="295.5" width="119.9" height="6" fill="#8a8a8a" filter="url(#grB)" opacity="0.3"/>
<path d="M155,298.8 C160,290 169,285.2 183,284.8 C197,285.2 206,290 211.2,298.8 Z" fill="url(#gd1)" stroke="#151515" stroke-width="1.1"/>
<path d="M157,298.5 C162,291 170,286.6 183,286.3 C196,286.6 204,291 209.2,298.5 Z" fill="#666" filter="url(#grD)" opacity="0.3"/>
</g>
<g clip-path="url(#cc01)">
<rect x="249.2" y="298.5" width="119.8" height="17.2" fill="#111" />
<rect x="249.2" y="299.3" width="119.8" height="2.8" fill="#8a8a8a" filter="url(#grB)"/>
<rect x="249.2" y="306.7" width="119.8" height="9" fill="#8c8c8c" filter="url(#grE)"/>
<rect x="249.2" y="302.1" width="119.8" height="4.6" fill="#101010" />
<path d="M276.7,302.2 C283,296 295,291.2 313,290.7 C331,291 344,295 351,302.3 Z" fill="url(#gd1)"/>
<path d="M277.5,301.6 C284,295.6 296,290.9 313,290.4 C331,290.7 343,294.6 350.3,301.8" fill="none" stroke="#9a9a9a" stroke-width="0.7"/>
<path d="M280,302 C286,297 297,292.4 313,292 C329,292.3 340,296 347,302" fill="none" stroke="#0a0a0a" stroke-width="1.4"/>
</g>
<g clip-path="url(#cc10)">
<rect x="127.6" y="358.4" width="119.9" height="8" fill="#121212" />
<rect x="127.6" y="366" width="119.9" height="15.4" fill="#5a5a5a" filter="url(#grA)"/>
<path d="M156.8,359.2 C162,354.5 170,351.5 185,351 C200,351 210,355 219,360.6 L219,366 L156.8,366 Z" fill="#141414"/>
<path d="M160,357.5 C166,353.6 173,352 185,351.7 C199,351.8 207,354.6 214,358.2" fill="none" stroke="#555" stroke-width="0.6"/>
</g>
<g clip-path="url(#cc11)">
<rect x="249.2" y="357.9" width="119.8" height="23.5" fill="#0a0a0a" />
<rect x="249.2" y="357.9" width="119.8" height="4.8" fill="#666" filter="url(#grA)" opacity="0.8"/>
<path d="M285.2,360.6 C290,358.2 296,357.1 304,357.1 C318,357.2 325,358 330,360.6 Z" fill="#1a1a1a"/>
<path d="M286,360.3 C291,358 297,356.8 304,356.8 C318,356.9 325,357.8 329.5,360.4" fill="none" stroke="#8a8a8a" stroke-width="0.6"/>
<rect x="249.2" y="362.6" width="119.8" height="19" fill="#0a0a0a" />
</g>
<g clip-path="url(#cc20)">
<rect x="127.6" y="419.2" width="119.9" height="4.6" fill="#101010" />
<path d="M160,419.3 C168,418 178,417.9 190,418.3 L190,420 L160,420 Z" fill="#101010"/>
<rect x="127.6" y="423.7" width="119.9" height="17" fill="#4c4c4c" filter="url(#grF)"/>
<rect x="127.6" y="440.7" width="119.9" height="10.3" fill="url(#g3b)" />
</g>
<g clip-path="url(#cc21)">
<rect x="249.2" y="420" width="119.8" height="2.3" fill="#6a6a6a" />
<rect x="249.2" y="420" width="119.8" height="0.8" fill="#1a1a1a" />
<rect x="249.2" y="422.3" width="119.8" height="3.5" fill="#0e0e0e" />
<rect x="249.2" y="425.8" width="119.8" height="16.1" fill="#777" filter="url(#grC)"/>
<rect x="249.2" y="441.9" width="119.8" height="9.1" fill="#303030" />
</g>
<text x="129.4" y="266.5" font-size="11.9" text-anchor="start" font-weight="normal" fill="#1a1a1a" stroke="#1a1a1a" stroke-width="0.2" >CT/PVA</text>
<text x="246.9" y="266.5" font-size="11.9" text-anchor="end" font-weight="normal" fill="#1a1a1a" stroke="#1a1a1a" stroke-width="0.2" >50.7°</text>
<text x="243.6" y="282.4" font-size="11.6" text-anchor="end" font-weight="normal" fill="#1a1a1a" stroke="#1a1a1a" stroke-width="0.2" >H<tspan font-size="8.5" dy="2.6">2</tspan><tspan dy="-2.6">O</tspan></text>
<text x="250.7" y="266.5" font-size="11.9" text-anchor="start" font-weight="normal" fill="#1a1a1a" stroke="#1a1a1a" stroke-width="0.2" >CT/PVA</text>
<text x="368.0" y="266.5" font-size="11.9" text-anchor="end" font-weight="normal" fill="#1a1a1a" stroke="#1a1a1a" stroke-width="0.2" >36.6°</text>
<text x="366.4" y="282.4" font-size="11.6" text-anchor="end" font-weight="normal" fill="#1a1a1a" stroke="#1a1a1a" stroke-width="0.2" >CH<tspan font-size="8.5" dy="2.6">3</tspan><tspan dy="-2.6">I</tspan><tspan font-size="8.5" dy="2.6">2</tspan></text>
<text x="129.4" y="331.5" font-size="11.9" text-anchor="start" font-weight="normal" fill="#1a1a1a" stroke="#1a1a1a" stroke-width="0.2" >HMOF-CT/PVA</text>
<text x="246.9" y="331.5" font-size="11.9" text-anchor="end" font-weight="normal" fill="#1a1a1a" stroke="#1a1a1a" stroke-width="0.2" >30.7°</text>
<text x="243.9" y="347.4" font-size="11.6" text-anchor="end" font-weight="normal" fill="#1a1a1a" stroke="#1a1a1a" stroke-width="0.2" >H<tspan font-size="8.5" dy="2.6">2</tspan><tspan dy="-2.6">O</tspan></text>
<text x="250.7" y="331.5" font-size="11.9" text-anchor="start" font-weight="normal" fill="#1a1a1a" stroke="#1a1a1a" stroke-width="0.2" >HMOF-CT/PVA</text>
<text x="368.0" y="331.5" font-size="11.9" text-anchor="end" font-weight="normal" fill="#1a1a1a" stroke="#1a1a1a" stroke-width="0.2" >23.9°</text>
<text x="366.7" y="347.4" font-size="11.6" text-anchor="end" font-weight="normal" fill="#1a1a1a" stroke="#1a1a1a" stroke-width="0.2" >CH<tspan font-size="8.5" dy="2.6">3</tspan><tspan dy="-2.6">I</tspan><tspan font-size="8.5" dy="2.6">2</tspan></text>
<text x="129.4" y="396.8" font-size="11.9" text-anchor="start" font-weight="normal" fill="#1a1a1a" stroke="#1a1a1a" stroke-width="0.2" >MOF-CT/PVA</text>
<text x="246.9" y="396.8" font-size="11.9" text-anchor="end" font-weight="normal" fill="#1a1a1a" stroke="#1a1a1a" stroke-width="0.2" >0°</text>
<text x="244.6" y="412.7" font-size="11.6" text-anchor="end" font-weight="normal" fill="#1a1a1a" stroke="#1a1a1a" stroke-width="0.2" >H<tspan font-size="8.5" dy="2.6">2</tspan><tspan dy="-2.6">O</tspan></text>
<text x="250.7" y="396.8" font-size="11.9" text-anchor="start" font-weight="normal" fill="#1a1a1a" stroke="#1a1a1a" stroke-width="0.2" >MOF-CT/PVA</text>
<text x="368.0" y="396.8" font-size="11.9" text-anchor="end" font-weight="normal" fill="#1a1a1a" stroke="#1a1a1a" stroke-width="0.2" >0°</text>
<text x="367.4" y="412.7" font-size="11.6" text-anchor="end" font-weight="normal" fill="#1a1a1a" stroke="#1a1a1a" stroke-width="0.2" >CH<tspan font-size="8.5" dy="2.6">3</tspan><tspan dy="-2.6">I</tspan><tspan font-size="8.5" dy="2.6">2</tspan></text>
<text x="382.2" y="261.6" font-size="16" text-anchor="start" font-weight="bold" fill="#000" >e</text>
<rect x="435.4" y="413.8" width="37" height="11.399999999999977" fill="#adab96" />
<rect x="510.9" y="366.4" width="37.9" height="58.80000000000001" fill="#fb4a5c" />
<rect x="586.4" y="332.5" width="37.6" height="92.69999999999999" fill="#66d4b5" />
<line x1="453.9" y1="411.3" x2="453.9" y2="415.6" stroke="#8f8d78" stroke-width="1.1"/>
<line x1="450.6" y1="411.3" x2="457.2" y2="411.3" stroke="#8f8d78" stroke-width="1.2"/>
<line x1="450.6" y1="415.6" x2="457.2" y2="415.6" stroke="#8f8d78" stroke-width="1.2"/>
<line x1="526.8" y1="366.1" x2="532.6" y2="366.1" stroke="#8f8d78" stroke-width="1.3"/>
<polygon points="454.30,309.60 456.05,313.80 460.58,314.16 457.12,317.12 458.18,321.54 454.30,319.17 450.42,321.54 451.48,317.12 448.02,314.16 452.55,313.80" fill="#7f7d5f"/>
<polygon points="529.70,348.60 531.45,352.80 535.98,353.16 532.52,356.12 533.58,360.54 529.70,358.17 525.82,360.54 526.88,356.12 523.42,353.16 527.95,352.80" fill="#ff1424"/>
<polygon points="605.10,409.00 606.85,413.20 611.38,413.56 607.92,416.52 608.98,420.94 605.10,418.57 601.22,420.94 602.28,416.52 598.82,413.56 603.35,413.20" fill="#3cc49c"/>
<rect x="420.8" y="271.1" width="24.5" height="11.8" fill="#abaa94" />
<text x="450" y="281.1" font-size="11.5" text-anchor="start" font-weight="normal" fill="#1a1a1a" stroke="#1a1a1a" stroke-width="0.2" >Surface free enerfy</text>
<polygon points="432.80,284.60 434.49,288.67 438.89,289.02 435.54,291.89 436.56,296.18 432.80,293.88 429.04,296.18 430.06,291.89 426.71,289.02 431.11,288.67" fill="#7f7d5f"/>
<text x="450" y="295.4" font-size="11.5" text-anchor="start" font-weight="normal" fill="#1a1a1a" stroke="#1a1a1a" stroke-width="0.2" >Water contact angle</text>
<rect x="416.2" y="268.3" width="227.2" height="156.89999999999998" fill="none" stroke="#111" stroke-width="1.4"/>
<line x1="416.2" y1="415.4" x2="409.7" y2="415.4" stroke="#111" stroke-width="1.2"/>
<text x="404.6" y="419.5" font-size="11.5" text-anchor="end" font-weight="normal" fill="#1a1a1a" stroke="#1a1a1a" stroke-width="0.2" >0</text>
<line x1="416.2" y1="395.7" x2="412.8" y2="395.7" stroke="#111" stroke-width="1.2"/>
<line x1="416.2" y1="376.0" x2="409.7" y2="376.0" stroke="#111" stroke-width="1.2"/>
<text x="404.6" y="380.1" font-size="11.5" text-anchor="end" font-weight="normal" fill="#1a1a1a" stroke="#1a1a1a" stroke-width="0.2" >20</text>
<line x1="416.2" y1="356.29999999999995" x2="412.8" y2="356.29999999999995" stroke="#111" stroke-width="1.2"/>
<line x1="416.2" y1="336.59999999999997" x2="409.7" y2="336.59999999999997" stroke="#111" stroke-width="1.2"/>
<text x="404.6" y="340.7" font-size="11.5" text-anchor="end" font-weight="normal" fill="#1a1a1a" stroke="#1a1a1a" stroke-width="0.2" >40</text>
<line x1="416.2" y1="316.9" x2="412.8" y2="316.9" stroke="#111" stroke-width="1.2"/>
<line x1="416.2" y1="297.2" x2="409.7" y2="297.2" stroke="#111" stroke-width="1.2"/>
<text x="404.6" y="301.3" font-size="11.5" text-anchor="end" font-weight="normal" fill="#1a1a1a" stroke="#1a1a1a" stroke-width="0.2" >60</text>
<line x1="416.2" y1="277.5" x2="412.8" y2="277.5" stroke="#111" stroke-width="1.2"/>
<line x1="643.4" y1="407.6" x2="649.9" y2="407.6" stroke="#111" stroke-width="1.2"/>
<text x="654.0" y="411.70000000000005" font-size="11.5" text-anchor="start" font-weight="normal" fill="#1a1a1a" stroke="#1a1a1a" stroke-width="0.2" >60</text>
<line x1="643.4" y1="381.40000000000003" x2="646.8" y2="381.40000000000003" stroke="#111" stroke-width="1.2"/>
<line x1="643.4" y1="355.20000000000005" x2="649.9" y2="355.20000000000005" stroke="#111" stroke-width="1.2"/>
<text x="654.0" y="359.30000000000007" font-size="11.5" text-anchor="start" font-weight="normal" fill="#1a1a1a" stroke="#1a1a1a" stroke-width="0.2" >75</text>
<line x1="643.4" y1="329.0" x2="646.8" y2="329.0" stroke="#111" stroke-width="1.2"/>
<line x1="643.4" y1="302.8" x2="649.9" y2="302.8" stroke="#111" stroke-width="1.2"/>
<text x="654.0" y="306.90000000000003" font-size="11.5" text-anchor="start" font-weight="normal" fill="#1a1a1a" stroke="#1a1a1a" stroke-width="0.2" >90</text>
<line x1="643.4" y1="276.6" x2="646.8" y2="276.6" stroke="#111" stroke-width="1.2"/>
<line x1="453.9" y1="425.2" x2="453.9" y2="431.4" stroke="#111" stroke-width="1.2"/>
<line x1="529.7" y1="425.2" x2="529.7" y2="431.4" stroke="#111" stroke-width="1.2"/>
<line x1="605.0" y1="425.2" x2="605.0" y2="431.4" stroke="#111" stroke-width="1.2"/>
<text x="434.5" y="442.8" font-size="11.4" text-anchor="start" font-weight="normal" fill="#1a1a1a" stroke="#1a1a1a" stroke-width="0.2" >CT/PVA</text>
<text x="486.4" y="442.8" font-size="11.4" text-anchor="start" font-weight="normal" fill="#1a1a1a" stroke="#1a1a1a" stroke-width="0.2" >HMOF-CT/PVA</text>
<text x="571.5" y="442.8" font-size="11.4" text-anchor="start" font-weight="normal" fill="#1a1a1a" stroke="#1a1a1a" stroke-width="0.2" >MOF-CT/PVA</text>
<text transform="translate(386.6,342.8) rotate(-90)" font-size="10.8" text-anchor="middle" fill="#1a1a1a" stroke="#1a1a1a" stroke-width="0.2">Water contact angle (°)</text>
<text transform="translate(681.2,343.2) rotate(-90)" font-size="10.8" text-anchor="middle" fill="#1a1a1a" stroke="#1a1a1a" stroke-width="0.2">Surface free energy (mN m<tspan font-size="7.5" dy="-4">-1</tspan><tspan dy="4">)</tspan></text>
</svg></body></html>
